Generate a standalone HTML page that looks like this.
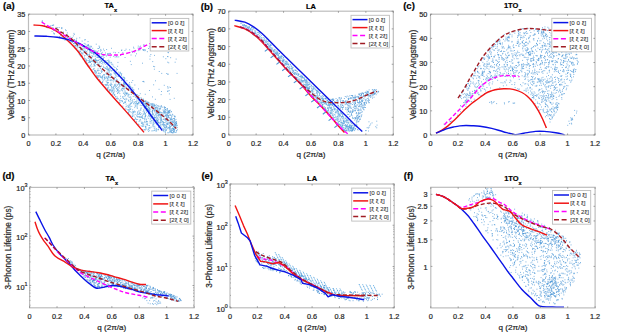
<!DOCTYPE html>
<html><head><meta charset="utf-8"><style>html,body{margin:0;padding:0;background:#fff;width:617px;height:334px;overflow:hidden}svg{display:block}</style></head>
<body><svg width="617" height="334" viewBox="0 0 617 334" style="font-family:'Liberation Sans',sans-serif">
<style>text{stroke:#333;stroke-width:0.22px;paint-order:stroke}</style>
<rect width="617" height="334" fill="#fff"/>
<path d="M73.8,45.7h.9M82.2,48.3h.9M160.1,127.7h.9M119.1,100.8h.9M84.8,48.2h.9M157.8,119.9h.9M97.2,76.9h.9M85.7,59.3h.9M123.7,96.3h.9M166.7,111.9h.9M163.9,113.6h.9M109.9,75.3h.9M73.0,43.5h.9M89.4,52.6h.9M94.3,70.3h.9M118.2,83.4h.9M75.6,46.8h.9M104.4,62.4h.9M95.2,72.2h.9M102.9,58.4h.9M161.5,114.4h.9M157.7,108.0h.9M170.9,131.9h.9M90.7,58.8h.9M88.0,56.6h.9M139.1,113.8h.9M167.9,112.1h.9M80.2,51.5h.9M167.3,114.4h.9M94.2,65.1h.9M105.6,81.0h.9M122.2,88.1h.9M128.2,112.3h.9M93.8,63.6h.9M128.9,110.0h.9M123.4,103.5h.9M116.7,88.2h.9M144.3,121.1h.9M153.8,123.1h.9M164.9,129.9h.9M110.6,83.8h.9M154.3,130.3h.9M129.9,104.2h.9M76.0,42.5h.9M137.1,114.0h.9M116.8,69.6h.9M78.3,52.5h.9M100.9,66.3h.9M110.0,85.6h.9M111.3,70.4h.9M94.6,52.7h.9M97.6,60.3h.9M100.7,71.2h.9M119.2,85.3h.9M70.7,39.2h.9M100.1,59.3h.9M131.6,87.8h.9M146.2,121.4h.9M109.6,68.3h.9M148.2,115.0h.9M156.1,116.3h.9M142.5,103.6h.9M128.6,97.3h.9M136.1,102.3h.9M155.3,108.8h.9M122.3,88.4h.9M148.9,130.7h.9M121.3,73.7h.9M119.6,102.6h.9M141.3,103.4h.9M123.9,81.6h.9M175.6,126.9h.9M157.8,129.9h.9M107.7,74.7h.9M106.4,78.1h.9M93.9,62.5h.9M165.0,114.9h.9M84.7,52.5h.9M167.5,132.7h.9M87.5,45.7h.9M92.8,61.8h.9M112.4,87.3h.9M108.2,69.5h.9M122.4,97.4h.9M96.4,60.9h.9M110.8,79.8h.9M172.8,118.5h.9M158.5,119.1h.9M78.2,51.8h.9M124.5,102.5h.9M138.5,110.4h.9M117.2,89.9h.9M137.3,104.1h.9M78.6,43.8h.9M124.7,93.0h.9M99.8,81.2h.9M92.3,60.7h.9M121.8,101.7h.9M140.7,125.8h.9M103.9,77.4h.9M155.3,108.0h.9M166.6,121.8h.9M107.9,68.8h.9M97.3,70.7h.9M149.7,123.3h.9M104.0,63.1h.9M101.4,63.5h.9M173.2,128.6h.9M109.3,61.1h.9M114.2,84.4h.9M155.9,107.9h.9M158.1,111.2h.9M101.8,71.7h.9M164.9,131.8h.9M135.5,101.7h.9M149.8,118.3h.9M93.7,60.6h.9M160.1,124.8h.9M79.4,55.2h.9M132.8,96.5h.9M81.8,56.6h.9M101.0,56.5h.9M110.3,89.8h.9M111.9,64.2h.9M106.0,77.0h.9M137.8,124.3h.9M107.5,85.4h.9M156.1,129.8h.9M88.1,49.2h.9M171.6,130.7h.9M147.2,123.1h.9M133.1,89.8h.9M113.0,92.9h.9M116.0,79.1h.9M151.5,111.9h.9M148.1,111.7h.9M148.0,115.2h.9M154.3,126.3h.9M89.3,62.2h.9M142.1,123.0h.9M131.6,100.7h.9M93.3,51.3h.9M163.6,112.1h.9M111.0,62.4h.9M122.8,98.6h.9M100.7,65.8h.9M153.7,105.7h.9M143.9,118.2h.9M95.2,59.7h.9M149.3,127.7h.9M136.6,103.5h.9M144.1,119.3h.9M69.2,41.0h.9M144.1,107.7h.9M157.8,122.6h.9M168.4,127.7h.9M160.9,115.0h.9M137.0,116.2h.9M77.2,46.4h.9M101.7,77.7h.9M107.2,67.8h.9M151.4,130.9h.9M97.8,57.6h.9M144.1,112.5h.9M110.9,74.9h.9M89.1,62.3h.9M125.5,109.4h.9M105.0,68.4h.9M140.2,108.2h.9M87.5,65.9h.9M144.8,118.0h.9M83.3,52.0h.9M93.7,68.4h.9M130.3,108.9h.9M146.9,121.5h.9M152.7,104.2h.9M153.6,105.5h.9M113.4,80.7h.9M141.6,126.3h.9M126.6,105.9h.9M123.4,98.4h.9M96.7,75.4h.9M105.4,62.5h.9M118.5,91.0h.9M157.7,115.4h.9M108.1,61.3h.9M97.5,60.5h.9M170.0,119.0h.9M167.5,112.3h.9M77.4,50.7h.9M167.3,113.0h.9M134.1,112.0h.9M140.9,122.8h.9M154.3,117.5h.9M125.4,108.2h.9M92.2,50.4h.9M121.0,84.8h.9M118.4,91.0h.9M140.5,117.7h.9M108.0,77.2h.9M137.3,98.1h.9M142.4,126.4h.9M123.2,83.5h.9M107.0,82.6h.9M113.3,90.2h.9M139.3,113.0h.9M103.1,67.4h.9M137.1,112.3h.9M139.7,112.7h.9M135.1,97.2h.9M152.7,124.8h.9M158.1,112.5h.9M99.8,77.5h.9M101.7,78.3h.9M145.9,119.1h.9M136.4,105.1h.9M144.8,116.4h.9M113.3,93.3h.9M157.4,122.2h.9M156.9,120.3h.9M161.3,114.5h.9M142.7,124.7h.9M128.0,113.5h.9M134.0,102.1h.9M119.4,93.6h.9M87.2,55.5h.9M111.1,86.7h.9M157.7,129.5h.9M88.5,54.4h.9M75.4,41.9h.9M174.2,132.2h.9M94.7,70.8h.9M167.1,123.8h.9M154.1,105.1h.9M150.6,127.2h.9M132.2,109.8h.9M92.7,50.7h.9M163.1,122.3h.9M116.7,69.6h.9M95.8,76.5h.9M94.9,56.4h.9M74.9,45.4h.9M96.7,56.8h.9M134.6,104.9h.9M160.3,120.0h.9M115.9,86.5h.9M157.5,120.1h.9M123.5,87.9h.9M86.4,46.9h.9M130.6,87.2h.9M121.3,85.1h.9M158.5,127.0h.9M109.5,77.4h.9M92.9,69.2h.9M156.1,124.6h.9M157.3,118.4h.9M173.3,126.7h.9M114.5,85.5h.9M156.6,121.9h.9M124.3,78.6h.9M79.9,49.6h.9M98.9,76.0h.9M98.3,60.4h.9M129.9,99.4h.9M117.6,89.6h.9M100.8,60.3h.9M128.3,84.2h.9M83.8,43.4h.9M135.0,118.6h.9M148.7,108.4h.9M153.9,105.0h.9M153.8,120.8h.9M116.7,81.0h.9M109.8,90.3h.9M109.1,67.9h.9M154.2,118.6h.9M121.9,79.6h.9M160.5,117.5h.9M129.3,84.7h.9M169.1,111.3h.9M124.0,86.7h.9M110.9,90.9h.9M115.3,97.0h.9M123.3,85.5h.9M87.1,54.5h.9M136.6,94.9h.9M121.8,90.1h.9M79.6,52.0h.9M134.7,114.4h.9M85.0,62.6h.9M116.4,74.0h.9M115.2,96.5h.9M170.3,119.1h.9M93.3,53.7h.9M105.3,60.5h.9M87.4,64.2h.9M107.2,60.6h.9M123.5,89.1h.9M106.5,85.0h.9M100.9,58.7h.9M97.6,75.7h.9M167.8,111.4h.9M164.9,119.7h.9M148.2,105.4h.9M70.5,40.8h.9M84.1,56.0h.9M99.9,73.6h.9M159.4,111.5h.9M149.7,116.6h.9M148.7,116.7h.9M114.0,86.1h.9M144.7,114.4h.9M145.2,101.4h.9M92.6,60.2h.9M123.7,79.7h.9M127.4,110.0h.9M151.8,116.8h.9M102.3,82.0h.9M93.6,50.3h.9M160.7,126.0h.9M159.0,108.3h.9M107.3,89.9h.9M129.5,97.3h.9M167.4,127.7h.9M121.4,85.0h.9M76.0,40.8h.9M160.2,119.1h.9M123.6,77.4h.9M103.9,79.1h.9M140.6,116.3h.9M99.1,79.5h.9M87.9,45.2h.9M102.3,81.2h.9M174.8,124.2h.9M162.9,130.5h.9M112.6,87.9h.9M78.8,54.3h.9M120.8,90.2h.9M127.7,105.6h.9M92.5,72.7h.9M89.9,65.8h.9M168.8,120.6h.9M142.2,116.3h.9M148.6,128.0h.9M143.2,114.6h.9M118.4,92.4h.9M109.4,71.0h.9M128.8,111.0h.9M163.7,111.3h.9M136.9,97.9h.9M106.6,64.0h.9M155.1,120.8h.9M119.9,72.3h.9M93.3,59.5h.9M116.8,79.8h.9M99.8,66.6h.9M133.5,120.0h.9M148.2,129.5h.9M156.7,121.0h.9M103.5,84.5h.9M134.8,106.5h.9M83.5,50.7h.9M126.3,93.5h.9M128.2,100.1h.9M145.7,110.3h.9M152.5,130.8h.9M119.3,99.9h.9M82.7,54.0h.9M148.6,125.5h.9M91.1,61.2h.9M91.9,56.5h.9M150.2,116.0h.9M97.6,68.8h.9M146.2,121.7h.9M105.6,84.6h.9M96.6,54.0h.9M111.7,90.4h.9M143.1,99.7h.9M126.9,89.7h.9M110.7,67.6h.9M109.4,74.0h.9M108.2,60.1h.9M88.2,48.2h.9M160.4,112.3h.9M124.9,95.8h.9M124.5,82.8h.9M90.8,50.6h.9M124.7,87.6h.9M117.6,98.5h.9M158.7,122.8h.9M107.5,69.6h.9M102.3,60.2h.9M137.2,119.5h.9M115.6,72.2h.9M124.9,84.7h.9M166.9,109.7h.9M117.8,81.4h.9M115.3,84.2h.9M141.1,108.1h.9M152.2,110.9h.9M77.4,45.5h.9M112.8,93.1h.9M96.8,62.2h.9M101.1,61.5h.9M123.2,77.3h.9M163.1,114.0h.9M118.0,83.9h.9M141.5,101.8h.9M99.0,57.3h.9M77.3,46.1h.9M153.8,128.3h.9M98.9,59.3h.9M155.5,131.1h.9M169.4,132.6h.9M98.6,70.4h.9M103.3,80.2h.9M127.8,112.6h.9M105.5,73.0h.9M82.7,46.0h.9M121.6,88.5h.9M88.8,49.2h.9M129.9,103.1h.9M132.7,112.3h.9M135.2,103.4h.9M88.2,58.1h.9M119.7,84.7h.9M153.3,124.2h.9M160.7,112.5h.9M158.8,127.0h.9M159.2,114.0h.9M158.4,112.3h.9M92.0,56.0h.9M142.8,105.2h.9M171.5,116.3h.9M139.1,117.3h.9M159.7,113.1h.9M103.6,57.5h.9M140.0,114.5h.9M86.6,63.1h.9M110.2,85.0h.9M94.1,70.8h.9M124.5,101.9h.9M172.7,122.6h.9M145.5,103.3h.9M97.1,52.5h.9M130.4,116.3h.9M99.3,73.8h.9M174.3,129.4h.9M101.9,79.1h.9M110.1,74.0h.9M137.4,111.8h.9M128.6,101.4h.9M95.7,60.4h.9M137.0,103.4h.9M104.3,74.7h.9M125.6,87.0h.9M141.0,123.5h.9M111.2,92.1h.9M154.3,117.5h.9M166.6,123.3h.9M149.2,115.8h.9M138.7,121.4h.9M133.6,116.1h.9M96.6,57.5h.9M136.6,106.6h.9M123.4,93.5h.9M111.1,64.1h.9M123.8,79.1h.9M88.0,62.5h.9M128.7,104.3h.9M172.2,125.3h.9M146.9,106.1h.9M95.5,71.1h.9M77.4,47.2h.9M168.1,113.3h.9M80.4,47.5h.9M129.1,85.8h.9M89.4,61.2h.9M145.5,127.8h.9M156.9,117.8h.9M159.0,112.5h.9M136.0,122.0h.9M120.3,98.4h.9M89.0,60.4h.9M80.1,56.2h.9M117.1,93.2h.9M137.3,104.9h.9M118.7,75.4h.9M141.4,105.5h.9M154.3,116.1h.9M137.0,108.2h.9M70.3,41.7h.9M165.6,125.0h.9M122.3,96.5h.9M132.6,113.8h.9M74.7,42.2h.9M158.9,114.9h.9M147.8,118.6h.9M107.2,66.1h.9M74.4,47.9h.9M124.3,80.7h.9M138.6,125.0h.9M148.1,113.5h.9M168.2,117.4h.9M142.3,118.6h.9M94.3,65.9h.9M105.0,68.1h.9M165.3,125.4h.9M152.8,122.4h.9M107.1,88.6h.9M125.5,99.4h.9M143.3,129.9h.9M142.9,103.3h.9M149.6,109.3h.9M93.8,61.7h.9M89.4,61.9h.9M132.2,100.0h.9M133.0,103.7h.9M85.9,46.6h.9M100.0,76.3h.9M161.8,114.1h.9M82.1,46.3h.9M94.2,72.2h.9M98.0,73.6h.9M87.7,58.0h.9M109.0,72.1h.9M140.3,117.3h.9M76.5,48.3h.9M79.3,43.5h.9M106.4,82.0h.9M163.5,129.4h.9M92.9,53.4h.9M133.8,99.5h.9M102.0,76.1h.9M128.9,105.3h.9M82.7,50.2h.9M124.5,92.8h.9M92.2,53.1h.9M140.1,119.6h.9M98.4,64.7h.9M174.3,120.6h.9M113.0,87.8h.9M161.1,114.5h.9M155.7,123.3h.9M92.5,72.2h.9M124.7,102.0h.9M141.3,113.8h.9M141.9,105.1h.9M140.3,110.6h.9M90.1,62.5h.9M111.5,77.4h.9M151.9,117.2h.9M137.9,97.9h.9M144.9,129.8h.9M99.7,61.6h.9M161.2,121.0h.9M101.9,77.1h.9M84.2,45.8h.9M135.9,103.9h.9M155.3,114.0h.9M156.0,113.0h.9M81.5,55.5h.9M125.7,106.5h.9M90.7,64.9h.9M137.7,103.4h.9M88.9,66.9h.9M83.6,58.7h.9M152.4,116.4h.9M146.2,129.0h.9M76.0,41.7h.9M170.3,121.2h.9M101.6,82.8h.9M145.8,111.0h.9M107.6,79.9h.9M169.9,126.7h.9M117.0,98.1h.9M175.9,124.3h.9M77.9,43.8h.9M113.7,69.5h.9M165.9,123.8h.9M104.0,60.8h.9M161.0,115.6h.9M95.8,72.1h.9M108.0,70.9h.9M165.4,109.5h.9M147.5,109.5h.9M160.5,118.4h.9M141.8,99.6h.9M153.6,120.5h.9M73.9,43.5h.9M117.8,75.6h.9M155.9,128.6h.9M131.8,116.6h.9M124.1,83.5h.9M106.6,71.9h.9M164.9,132.3h.9M114.5,73.5h.9M145.5,126.3h.9M88.6,66.0h.9M122.0,101.2h.9M151.1,120.4h.9M166.9,128.7h.9M136.7,114.1h.9M113.5,94.8h.9M95.0,63.5h.9M113.1,86.3h.9M146.3,108.8h.9M92.5,61.5h.9M146.7,108.9h.9M145.8,105.2h.9M75.7,43.7h.9M93.5,56.1h.9M84.1,58.0h.9M84.9,44.0h.9M144.6,129.8h.9M111.2,71.0h.9M113.6,70.8h.9M161.1,106.9h.9M128.1,100.6h.9M148.3,128.1h.9M161.4,112.9h.9M132.1,102.0h.9M86.4,48.1h.9M166.5,113.8h.9M119.7,84.6h.9M107.5,74.2h.9M82.5,58.9h.9M148.1,106.1h.9M168.0,127.9h.9M149.8,119.4h.9M163.8,109.3h.9M70.3,42.4h.9M78.6,52.6h.9M114.7,74.5h.9M94.4,59.3h.9M175.2,132.5h.9M86.1,51.6h.9M103.7,75.0h.9M171.7,119.5h.9M82.0,53.8h.9M129.8,106.9h.9M173.0,126.2h.9M108.2,62.8h.9M167.2,113.1h.9M154.3,115.8h.9M171.6,132.8h.9M113.8,91.9h.9M156.6,109.8h.9M118.0,82.0h.9M146.5,107.0h.9M86.8,50.1h.9M173.7,125.6h.9M84.8,50.2h.9M118.7,84.3h.9M96.0,72.3h.9M128.1,110.1h.9M173.5,131.2h.9M142.6,126.0h.9M132.0,116.1h.9M96.3,51.2h.9M172.8,132.4h.9M94.6,50.6h.9M83.7,51.3h.9M131.9,113.9h.9M130.3,90.8h.9M112.2,89.2h.9M109.4,69.2h.9M141.0,117.1h.9M116.7,85.3h.9M113.4,66.6h.9M93.4,51.9h.9M100.2,68.1h.9M149.2,105.8h.9M88.2,45.4h.9M103.5,62.6h.9M176.9,125.3h.9M170.6,115.2h.9M142.8,104.0h.9M131.3,106.4h.9M167.8,112.5h.9M107.9,86.0h.9M122.4,77.2h.9M152.2,104.6h.9M98.5,75.6h.9M145.4,115.6h.9M106.1,66.4h.9M139.3,101.9h.9M137.1,103.6h.9M155.1,107.8h.9M145.8,123.0h.9M161.1,120.3h.9M115.2,77.4h.9M86.5,52.1h.9M161.4,122.5h.9M115.2,75.2h.9M131.6,92.2h.9M100.9,77.0h.9M155.2,114.8h.9M153.1,117.8h.9M76.5,45.7h.9M107.3,78.5h.9M123.2,84.4h.9M106.1,69.2h.9M103.9,77.1h.9M140.2,100.8h.9M116.0,76.0h.9M120.1,96.2h.9M135.1,111.9h.9M129.5,109.3h.9M106.8,80.1h.9M170.6,130.3h.9M73.4,43.9h.9M167.4,120.5h.9M169.8,114.8h.9M127.8,95.8h.9M91.1,57.9h.9M123.1,85.1h.9M149.5,121.1h.9M127.8,94.7h.9M162.6,112.5h.9M142.0,115.3h.9M130.2,99.2h.9M107.6,83.1h.9M127.7,107.4h.9M99.6,81.3h.9M144.1,111.9h.9M110.0,67.0h.9M123.4,79.3h.9M117.7,92.2h.9M136.2,97.7h.9M145.8,106.9h.9M139.6,100.1h.9M110.2,85.1h.9M138.4,116.9h.9M96.9,51.7h.9M124.2,77.8h.9M171.1,123.1h.9M94.2,60.1h.9M77.2,43.1h.9M122.4,106.1h.9M107.9,76.6h.9M175.9,122.7h.9M176.9,127.6h.9M85.7,61.9h.9M138.7,103.0h.9M113.6,73.0h.9M144.0,108.1h.9M129.8,86.5h.9M149.2,105.6h.9M171.1,117.0h.9M101.0,72.4h.9M155.5,117.9h.9M85.1,51.9h.9M99.9,62.7h.9M114.8,73.5h.9M93.6,64.5h.9M95.8,75.3h.9M130.2,111.8h.9M136.4,94.5h.9M169.3,115.0h.9M145.1,126.4h.9M138.3,100.6h.9M171.0,111.7h.9M115.9,81.3h.9M142.6,122.7h.9M80.3,50.0h.9M172.3,132.7h.9M92.6,66.3h.9M121.0,74.9h.9M76.5,42.3h.9M144.1,129.7h.9M109.0,62.1h.9M121.1,75.8h.9M163.6,131.7h.9M158.5,122.9h.9M108.4,65.4h.9M117.5,90.0h.9M147.4,130.0h.9M145.0,127.9h.9M138.6,113.8h.9M125.2,95.1h.9M152.7,126.8h.9M110.5,89.6h.9M157.9,115.8h.9M151.8,111.2h.9M137.0,116.9h.9M159.4,125.4h.9M142.6,118.5h.9M144.1,101.6h.9M140.3,120.9h.9M111.8,80.2h.9M146.0,112.3h.9M125.6,104.1h.9M98.8,64.1h.9M102.4,64.1h.9M119.8,73.5h.9M169.2,127.2h.9M116.4,91.4h.9M148.9,125.6h.9M116.0,81.9h.9M168.2,124.0h.9M161.0,115.7h.9M118.5,76.5h.9M108.0,76.8h.9M105.3,77.1h.9M132.2,89.1h.9M126.2,88.2h.9M140.8,103.2h.9M86.8,54.4h.9M125.6,98.3h.9M163.3,112.1h.9M130.2,115.3h.9M127.6,109.5h.9M125.9,94.4h.9M100.8,69.9h.9M82.5,46.3h.9M150.0,103.8h.9M172.4,128.8h.9M102.0,56.1h.9M89.8,48.2h.9M86.1,61.0h.9M152.7,106.5h.9M169.7,122.2h.9M121.8,100.9h.9M79.2,51.3h.9M135.8,119.7h.9M152.7,108.9h.9M153.8,106.4h.9M175.1,127.9h.9M144.9,106.8h.9M132.6,115.2h.9M89.5,51.1h.9M160.2,107.2h.9M121.2,84.2h.9M95.8,60.0h.9M117.5,99.2h.9M123.3,86.2h.9M147.7,109.8h.9M132.7,111.5h.9M158.3,114.2h.9M89.5,47.2h.9M147.1,108.6h.9M138.6,111.8h.9M123.8,91.0h.9M113.7,77.4h.9M114.4,90.9h.9M106.5,74.5h.9M113.8,72.7h.9M110.3,80.1h.9M163.9,127.1h.9M166.0,117.3h.9M93.0,61.5h.9M144.2,113.5h.9M118.6,74.2h.9M162.7,119.4h.9M165.9,126.5h.9M91.6,69.9h.9M84.5,55.5h.9M103.2,74.9h.9M119.2,75.1h.9M152.7,123.7h.9M124.8,102.5h.9M108.7,63.1h.9M117.6,87.6h.9M89.2,54.0h.9M93.8,65.0h.9M97.4,70.2h.9M154.6,112.7h.9M144.2,122.0h.9M156.2,130.9h.9M138.0,102.5h.9M97.6,63.2h.9M93.7,52.8h.9M136.5,100.1h.9M85.5,60.2h.9M123.5,82.7h.9M128.0,106.8h.9M142.9,113.2h.9M81.0,52.8h.9M109.1,89.9h.9M162.8,125.4h.9M102.1,76.1h.9M145.1,113.4h.9M155.2,121.6h.9M151.3,103.5h.9M107.6,70.0h.9M104.0,67.8h.9M123.5,108.6h.9M162.5,110.0h.9M128.0,88.8h.9M111.9,90.5h.9M77.5,50.3h.9M141.3,98.5h.9M166.9,108.8h.9M110.6,83.0h.9M129.0,114.3h.9M102.1,62.1h.9M167.8,117.5h.9M148.3,103.2h.9M162.3,121.4h.9M161.6,115.3h.9M102.9,66.3h.9M132.0,116.3h.9M148.1,131.4h.9M172.1,121.2h.9M82.1,44.5h.9M174.6,125.9h.9M162.5,121.6h.9M101.4,82.6h.9M118.9,102.8h.9M102.8,58.4h.9M136.6,107.9h.9M139.0,120.2h.9M168.9,125.1h.9M148.4,104.2h.9M104.1,70.5h.9M167.1,115.2h.9M156.7,112.8h.9M160.3,116.6h.9M152.4,113.9h.9M152.7,126.0h.9M102.4,69.8h.9M144.7,122.2h.9M111.7,91.4h.9M74.6,46.3h.9M110.2,62.8h.9M85.3,62.4h.9M130.7,98.2h.9M131.5,112.4h.9M80.2,47.7h.9M95.0,73.7h.9M95.1,60.4h.9M102.3,76.8h.9M106.3,68.1h.9M122.1,90.9h.9M135.2,101.7h.9M136.4,96.5h.9M162.9,123.9h.9M157.7,116.9h.9M137.7,98.2h.9M93.1,51.1h.9M132.3,87.9h.9M129.4,94.7h.9M113.4,88.9h.9M173.4,130.2h.9M120.8,78.0h.9M145.1,106.6h.9M118.7,88.1h.9M105.0,85.0h.9M97.5,70.8h.9M110.7,74.0h.9M125.8,92.9h.9M107.3,63.5h.9M153.7,105.4h.9M94.9,51.5h.9M134.3,119.6h.9M84.4,60.1h.9M171.2,125.6h.9M109.5,80.2h.9M86.8,63.8h.9M123.8,88.8h.9M116.0,68.4h.9M79.5,47.2h.9M174.5,120.0h.9M135.9,119.3h.9M67.1,37.9h.9M133.9,95.9h.9M107.3,78.7h.9M105.8,61.3h.9M159.7,123.6h.9M90.3,61.6h.9M118.5,86.7h.9M123.0,82.7h.9M169.8,110.2h.9M169.6,120.1h.9M138.3,114.5h.9M139.5,99.1h.9M167.3,110.7h.9M96.9,77.4h.9M120.0,100.8h.9M129.6,86.1h.9M109.0,90.0h.9M150.8,117.6h.9M120.9,89.3h.9M125.9,84.7h.9M95.0,58.4h.9M171.0,123.6h.9M109.6,77.8h.9M163.2,122.9h.9M106.8,82.4h.9M128.9,107.9h.9M174.5,116.3h.9M154.5,127.9h.9M158.3,114.4h.9M136.5,101.2h.9M106.2,74.3h.9M114.7,77.2h.9M111.1,87.0h.9M87.3,49.7h.9M114.5,67.5h.9M117.1,90.5h.9M78.6,51.1h.9M86.6,54.6h.9M93.5,54.6h.9M114.0,95.3h.9M152.7,120.0h.9M107.8,72.7h.9M89.5,49.3h.9M173.1,129.4h.9M163.9,127.7h.9M88.8,54.8h.9M104.9,64.3h.9M133.6,90.0h.9M135.2,105.3h.9M166.1,116.2h.9M174.5,128.2h.9M142.0,117.6h.9M91.2,49.9h.9M112.0,94.2h.9M122.8,88.8h.9M117.7,76.5h.9M143.5,126.1h.9M164.6,120.1h.9M109.9,77.3h.9M86.5,54.8h.9M144.8,114.8h.9M149.4,110.4h.9M108.0,82.5h.9M125.4,101.0h.9M168.7,122.9h.9M129.3,87.6h.9M90.7,55.8h.9M119.4,82.8h.9M89.1,59.2h.9M164.6,107.6h.9M124.1,84.5h.9M145.7,119.6h.9M110.8,84.9h.9M130.2,101.0h.9M155.4,120.3h.9M107.6,80.2h.9M159.3,112.6h.9M131.1,103.3h.9M149.9,113.3h.9M100.7,77.5h.9M133.0,112.4h.9M110.5,80.8h.9M126.2,93.5h.9M96.8,54.7h.9M162.8,130.9h.9M76.2,48.7h.9M156.1,118.0h.9M122.9,93.0h.9M123.1,103.1h.9M101.1,71.0h.9M112.5,70.6h.9M166.1,125.0h.9M150.5,121.3h.9M98.9,62.3h.9M97.7,77.6h.9M157.0,108.9h.9M86.1,60.2h.9M97.3,57.3h.9M146.5,102.6h.9M137.7,103.7h.9M124.1,99.5h.9M103.5,74.8h.9M90.8,66.9h.9M149.7,122.0h.9M149.4,112.0h.9M140.3,109.5h.9M129.8,109.3h.9M131.0,94.4h.9M87.2,45.7h.9M145.0,106.7h.9M137.7,124.3h.9M89.4,51.0h.9M145.2,126.9h.9M119.6,72.8h.9M114.9,87.6h.9M108.4,91.2h.9M157.0,107.7h.9M172.4,128.1h.9M134.8,117.7h.9M133.9,103.0h.9M157.8,129.2h.9M112.8,81.9h.9M80.0,44.2h.9M97.3,53.7h.9M166.6,123.1h.9M104.0,77.3h.9M173.2,128.8h.9M124.9,91.1h.9M91.6,57.9h.9M105.4,87.2h.9M156.8,113.3h.9M121.1,84.9h.9M121.0,80.5h.9M173.0,126.4h.9M111.5,84.6h.9M165.3,130.5h.9M173.7,130.9h.9M89.1,61.4h.9M95.7,62.2h.9M149.8,115.4h.9M114.9,80.3h.9M114.4,71.3h.9M153.2,121.9h.9M142.7,111.5h.9M151.1,118.0h.9M108.3,87.7h.9M146.4,103.7h.9M142.4,124.9h.9M154.6,129.8h.9M129.6,105.9h.9M142.3,123.7h.9M107.4,87.5h.9M96.2,64.5h.9M122.3,107.1h.9M109.2,91.9h.9M116.9,84.8h.9M91.2,53.4h.9M141.5,122.0h.9M74.0,39.5h.9M174.3,130.8h.9M165.0,122.0h.9M81.7,52.9h.9M148.5,113.3h.9M113.9,79.5h.9M144.9,116.4h.9M168.9,128.5h.9M141.4,101.6h.9M159.1,110.1h.9M119.5,91.0h.9M119.3,83.5h.9M148.4,107.6h.9M108.7,70.7h.9M114.5,95.0h.9M146.5,109.3h.9M161.7,121.2h.9M121.9,86.4h.9M106.8,84.0h.9M132.9,91.1h.9M138.4,116.7h.9M147.4,116.9h.9M106.6,77.3h.9M107.0,69.8h.9M151.6,120.9h.9M108.8,84.9h.9M90.5,61.1h.9M116.1,98.5h.9M102.4,62.2h.9M149.1,109.0h.9M131.0,102.8h.9M167.6,123.0h.9M100.8,61.1h.9M98.4,72.8h.9M164.3,124.3h.9M99.7,76.0h.9M142.1,129.5h.9M104.6,78.6h.9M138.4,102.1h.9M90.8,59.1h.9M99.9,68.5h.9M166.0,120.9h.9M146.8,108.4h.9M95.4,61.1h.9M126.1,93.3h.9M145.0,115.6h.9M126.9,93.0h.9M148.9,108.0h.9M81.3,53.7h.9M126.5,80.7h.9M76.2,42.4h.9M146.7,124.1h.9M166.5,118.5h.9M114.9,86.1h.9M88.9,50.5h.9M143.4,106.9h.9M143.1,110.1h.9M87.7,46.1h.9M134.0,119.7h.9M143.0,99.1h.9M156.0,115.0h.9M136.1,115.9h.9M172.0,121.8h.9M160.2,108.8h.9M116.0,88.5h.9M176.4,125.9h.9M167.7,132.8h.9M158.3,127.1h.9M136.7,98.8h.9M127.5,96.1h.9M93.3,69.1h.9M119.5,86.3h.9M72.1,42.3h.9M128.2,94.2h.9M149.5,128.1h.9M175.0,121.9h.9M117.3,93.4h.9M163.6,116.6h.9M174.1,129.7h.9M108.7,76.0h.9M145.9,121.1h.9M114.0,94.6h.9M111.2,77.0h.9M105.8,85.4h.9M109.4,90.7h.9M128.0,89.3h.9M143.4,124.1h.9M99.3,54.9h.9M145.8,124.6h.9M110.9,88.2h.9M96.4,73.7h.9M91.0,64.0h.9M106.8,84.1h.9M130.3,96.9h.9M94.8,71.1h.9M109.8,70.0h.9M118.3,72.1h.9M114.7,85.1h.9M102.0,82.4h.9M138.3,98.4h.9M98.4,57.5h.9M157.1,113.4h.9M105.4,84.6h.9M141.3,117.1h.9M144.4,104.0h.9M115.1,81.8h.9M148.6,102.9h.9M170.4,115.5h.9M139.4,116.4h.9M140.6,97.7h.9M123.3,80.7h.9M151.3,123.0h.9M120.9,74.2h.9M96.7,76.3h.9M158.2,127.3h.9M173.6,131.8h.9M101.4,54.8h.9M99.3,80.1h.9M126.4,99.2h.9M128.4,106.8h.9M130.2,103.9h.9M106.7,68.2h.9M124.8,83.1h.9M104.5,78.7h.9M170.8,131.8h.9M129.6,90.6h.9M132.7,111.4h.9M151.4,106.8h.9M143.6,110.0h.9M174.1,124.3h.9M87.4,60.4h.9M107.5,88.9h.9M164.0,116.1h.9M157.6,124.8h.9M107.2,62.6h.9M91.7,52.1h.9M128.7,111.7h.9M144.7,116.8h.9M113.2,78.9h.9M166.9,117.0h.9M100.9,60.5h.9M96.4,60.7h.9M147.1,125.0h.9M127.2,93.9h.9M136.0,122.0h.9M134.1,111.1h.9M155.0,122.8h.9M113.7,88.9h.9M132.6,101.9h.9M110.4,75.0h.9M94.6,65.9h.9M146.8,124.7h.9M152.4,125.1h.9M173.4,129.4h.9M115.3,72.3h.9M167.8,115.7h.9M95.5,55.4h.9M170.4,130.3h.9M107.2,89.2h.9M84.8,58.7h.9M116.5,89.3h.9M124.1,94.6h.9M147.8,102.3h.9M97.6,65.6h.9M107.7,77.0h.9M124.5,86.2h.9M112.6,92.0h.9M116.6,96.9h.9M153.6,130.6h.9M74.1,42.4h.9M98.2,76.7h.9M134.3,107.6h.9M125.3,93.2h.9M121.1,100.7h.9M113.8,78.5h.9M139.8,105.2h.9M87.9,60.9h.9" stroke="#5aa4dc" stroke-width="0.9" opacity="0.85" fill="none"/>
<path d="M164.4,111.2h.9M160.7,118.4h.9M137.9,98.0h.9M165.7,112.5h.9M163.1,124.3h.9M168.4,110.8h.9M173.4,122.1h.9M152.6,113.8h.9M158.3,105.8h.9M175.2,122.6h.9M172.1,128.3h.9M153.5,104.0h.9M164.0,107.1h.9M169.6,131.1h.9M152.1,114.8h.9M149.5,109.0h.9M176.0,131.9h.9M156.6,120.4h.9M174.6,125.5h.9M147.9,109.3h.9M146.7,103.2h.9M157.2,123.6h.9M164.9,112.3h.9M146.2,108.7h.9M146.1,104.8h.9M172.7,124.9h.9M175.2,124.8h.9M171.0,125.8h.9M164.0,112.5h.9M160.0,115.5h.9M167.2,124.6h.9M170.8,121.6h.9M169.9,131.8h.9M166.7,108.5h.9M151.8,106.1h.9M170.0,119.7h.9M161.4,124.3h.9M165.2,113.2h.9M160.8,117.0h.9M148.0,107.3h.9M169.6,126.3h.9M157.2,110.6h.9M165.6,120.0h.9M175.6,123.7h.9M152.1,106.3h.9M154.0,110.6h.9M167.2,124.1h.9M163.7,118.1h.9M157.6,109.1h.9M174.1,119.1h.9M142.4,103.0h.9M155.8,104.8h.9M169.7,118.1h.9M152.5,110.2h.9M144.9,103.8h.9M165.0,107.6h.9M152.2,110.9h.9M155.3,110.7h.9M145.5,101.6h.9M155.8,119.7h.9M168.9,111.0h.9M177.0,129.8h.9M151.4,115.9h.9M164.2,108.2h.9M156.4,112.2h.9M155.8,106.9h.9M165.5,115.5h.9M157.0,120.8h.9M159.9,121.7h.9M152.1,110.8h.9M150.4,105.0h.9M169.3,127.9h.9M166.8,115.7h.9M172.5,115.1h.9M165.7,110.3h.9M155.5,107.6h.9M145.5,107.2h.9M147.5,103.0h.9M159.5,126.0h.9M176.0,130.5h.9M170.9,119.7h.9M165.3,116.1h.9M175.8,125.3h.9M171.1,132.3h.9M162.7,125.1h.9M145.4,105.1h.9M168.4,115.6h.9M148.1,112.7h.9M173.2,125.9h.9M138.3,99.2h.9M160.3,120.3h.9M168.7,127.2h.9M159.1,109.0h.9M161.1,105.8h.9M166.2,114.4h.9M149.0,112.6h.9M154.2,117.7h.9M157.3,123.7h.9M169.2,123.2h.9M153.2,114.8h.9M147.2,102.0h.9M166.8,118.4h.9M145.8,106.0h.9M174.5,122.7h.9M154.0,109.8h.9M174.4,127.9h.9M174.4,126.3h.9M164.9,111.3h.9M151.6,105.5h.9M144.7,101.0h.9M173.7,121.5h.9M157.5,115.1h.9M167.9,116.6h.9M166.9,118.2h.9M146.7,109.7h.9M171.6,120.0h.9M168.1,111.4h.9M169.5,131.7h.9M142.3,102.3h.9M150.7,114.5h.9M164.3,125.8h.9M154.9,117.6h.9M156.3,120.2h.9M174.4,116.4h.9M162.0,124.3h.9M176.1,123.3h.9M160.4,127.9h.9M147.6,110.8h.9M163.5,119.4h.9M173.5,122.1h.9M174.1,118.7h.9M163.2,128.9h.9M167.3,119.5h.9M137.7,96.9h.9M166.1,127.3h.9M152.2,103.8h.9M144.5,103.7h.9M172.7,129.6h.9M172.0,122.9h.9M159.8,114.9h.9M166.1,118.3h.9M173.7,123.9h.9M148.0,110.5h.9M163.6,130.0h.9M173.3,128.7h.9M165.3,127.1h.9M162.6,116.4h.9M160.4,106.2h.9M175.5,119.4h.9M174.4,123.5h.9M173.4,120.6h.9M166.9,119.8h.9M170.8,130.1h.9M170.0,124.3h.9M161.1,119.6h.9M168.9,112.7h.9M168.9,129.8h.9M147.9,111.6h.9M166.4,126.6h.9M141.9,102.4h.9M164.3,122.5h.9M163.9,110.8h.9M163.4,126.4h.9M164.6,127.9h.9M164.0,124.8h.9M171.2,118.0h.9M173.6,126.9h.9M145.3,103.6h.9M169.9,128.0h.9M151.7,108.8h.9M165.4,115.6h.9M157.1,105.8h.9M158.6,126.0h.9M160.0,108.8h.9M175.0,124.9h.9M156.3,112.7h.9M171.3,118.9h.9M159.1,115.0h.9M141.5,102.5h.9M169.5,112.8h.9M172.5,132.9h.9M156.2,111.7h.9M170.7,111.7h.9M148.8,105.5h.9M162.3,107.2h.9M168.5,122.1h.9M168.9,117.9h.9M165.3,128.1h.9M158.5,106.5h.9M160.0,122.5h.9M145.5,100.9h.9M157.6,110.8h.9M154.8,109.6h.9M142.9,100.5h.9M166.5,119.5h.9M164.9,119.6h.9M155.2,105.7h.9M147.4,104.7h.9M148.8,110.7h.9M163.0,111.1h.9M169.3,110.6h.9M162.7,122.7h.9M157.9,122.3h.9M176.2,123.4h.9M171.0,128.9h.9M154.3,111.3h.9M143.0,102.4h.9M148.7,111.5h.9M152.1,113.0h.9M172.1,114.3h.9M160.2,127.2h.9M167.9,115.9h.9M159.3,117.2h.9M165.8,129.4h.9M149.5,111.4h.9M152.0,112.7h.9M173.9,116.1h.9M176.1,121.6h.9M163.8,107.0h.9M144.7,102.7h.9M165.9,130.3h.9M144.5,104.8h.9M142.0,103.7h.9M146.1,105.9h.9M173.3,118.7h.9M148.9,110.9h.9M153.9,107.9h.9M142.0,103.7h.9M157.4,121.6h.9M156.9,123.4h.9M168.8,112.6h.9M165.1,109.6h.9M172.2,130.3h.9M173.1,131.4h.9M147.5,102.6h.9M169.8,129.2h.9M151.2,104.6h.9M161.8,128.3h.9M174.5,117.1h.9M169.3,125.9h.9" stroke="#4a96d6" stroke-width="0.9" opacity="0.85" fill="none"/>
<path d="M89.6,46.2h.9M98.3,50.8h.9M81.2,45.7h.9M101.7,52.4h.9M66.9,37.7h.9M52.1,25.4h.9M106.2,49.5h.9M65.7,30.6h.9M115.1,52.8h.9M61.2,34.7h.9M120.4,54.8h.9M71.3,41.8h.9M113.2,56.3h.9M60.7,36.0h.9M84.4,46.1h.9M137.8,46.1h.9M143.9,49.7h.9M53.2,33.0h.9M150.0,48.8h.9M90.0,52.3h.9M47.3,27.8h.9M59.1,36.6h.9M116.7,56.9h.9M113.4,52.3h.9M58.7,27.5h.9M105.9,56.0h.9M118.3,52.6h.9M107.8,53.5h.9M53.2,25.0h.9M53.6,33.8h.9M86.5,45.0h.9M121.0,50.4h.9M72.9,35.9h.9M64.6,40.2h.9M95.8,44.2h.9M140.1,46.2h.9M100.7,50.3h.9M41.7,21.4h.9M114.7,57.0h.9M109.2,53.4h.9M151.4,45.3h.9M62.5,38.8h.9M83.7,48.9h.9M55.9,27.8h.9M98.6,46.1h.9M54.0,33.8h.9M82.5,50.3h.9M66.9,32.9h.9M71.7,37.5h.9M139.1,47.1h.9M150.5,50.2h.9M85.9,48.2h.9M91.2,52.4h.9M97.0,54.3h.9M59.2,37.7h.9M60.9,34.6h.9M75.9,40.0h.9M78.6,47.3h.9M84.4,40.1h.9M124.5,50.5h.9M57.1,27.8h.9M103.0,49.1h.9M78.6,44.7h.9M107.4,54.5h.9M101.0,53.8h.9M75.4,45.6h.9M89.8,51.2h.9M139.7,49.1h.9M148.9,46.3h.9M44.1,25.3h.9M145.0,50.0h.9M143.0,45.0h.9M151.5,44.3h.9M93.3,54.1h.9M151.5,46.5h.9M73.5,40.0h.9M65.0,29.8h.9M121.4,50.0h.9M150.1,44.9h.9M79.3,37.8h.9M76.3,38.3h.9M53.0,30.2h.9M73.3,40.3h.9M87.6,41.6h.9M103.5,55.5h.9M98.3,48.5h.9M90.8,46.9h.9M81.7,41.1h.9M79.2,44.9h.9M110.1,53.4h.9M143.8,45.0h.9M90.8,46.3h.9M149.4,47.9h.9M120.0,55.5h.9M51.6,31.4h.9M50.6,25.7h.9M62.8,32.0h.9M83.3,47.9h.9M61.5,27.7h.9M134.2,52.1h.9M97.5,48.5h.9M122.4,52.6h.9M64.9,39.0h.9M142.5,49.6h.9M100.3,49.4h.9M105.1,53.0h.9M60.0,35.1h.9M84.7,39.5h.9M99.2,47.0h.9M100.7,53.5h.9M46.0,26.4h.9M106.8,55.2h.9M103.8,50.7h.9M139.0,48.5h.9M133.0,47.2h.9M51.4,28.3h.9M125.6,49.2h.9M65.5,36.8h.9M133.5,48.3h.9M76.2,42.0h.9M75.3,40.9h.9M134.7,50.9h.9M65.4,38.0h.9M73.8,34.5h.9M130.6,55.0h.9M100.1,51.1h.9M58.1,30.2h.9M111.0,48.3h.9M80.0,49.1h.9M131.5,51.3h.9M70.6,38.4h.9M52.5,27.6h.9M129.2,49.8h.9M49.8,26.2h.9M137.7,48.0h.9M88.4,47.3h.9M52.6,25.3h.9M116.0,56.7h.9M41.9,20.8h.9M121.9,54.5h.9M69.8,37.1h.9M142.8,49.6h.9M66.8,34.6h.9M103.1,55.9h.9M65.6,35.6h.9M107.0,53.8h.9M61.0,28.0h.9M95.9,54.8h.9M92.3,48.3h.9M46.0,27.5h.9M61.1,34.6h.9M55.6,28.5h.9M109.8,57.1h.9M132.0,52.3h.9M73.5,33.4h.9M136.1,53.8h.9M142.9,50.5h.9M99.0,47.7h.9M87.8,44.5h.9M61.4,28.6h.9" stroke="#4a96d6" stroke-width="0.9" opacity="0.85" fill="none"/>
<path d="M139.3,50.1h.9M112.6,65.1h.9M154.0,55.4h.9M129.1,82.7h.9M165.4,58.7h.9M143.6,81.9h.9M143.1,81.4h.9M129.9,61.3h.9M152.0,96.9h.9M153.2,84.8h.9M174.7,62.2h.9M144.8,94.3h.9M139.8,93.7h.9M115.8,70.1h.9M176.6,73.4h.9M142.4,81.5h.9M166.3,73.5h.9M170.1,87.5h.9M131.3,82.4h.9M137.8,50.6h.9M175.7,59.1h.9M135.1,55.9h.9M162.9,56.8h.9M142.1,63.2h.9M150.4,54.5h.9M138.5,95.5h.9M152.3,61.6h.9M170.2,57.7h.9M138.1,88.9h.9M146.9,51.7h.9M173.8,98.3h.9M149.5,59.1h.9M169.6,99.4h.9M161.0,91.5h.9M160.7,94.6h.9M161.3,73.4h.9M155.1,80.8h.9M148.1,48.5h.9M117.5,62.4h.9M154.9,99.3h.9M149.0,90.5h.9M149.6,56.2h.9M158.8,71.5h.9M154.2,66.7h.9M124.6,57.5h.9M132.3,80.5h.9M153.9,69.2h.9M163.8,85.3h.9M134.4,85.0h.9M153.1,66.4h.9M144.4,50.7h.9M130.8,64.6h.9M158.6,89.3h.9M117.2,66.3h.9M118.3,56.9h.9" stroke="#4a96d6" stroke-width="0.9" opacity="0.85" fill="none"/>
<path d="M167.5,74.0h.9M168.6,87.1h.9M167.1,86.8h.9M168.3,62.8h.9M167.0,91.3h.9M167.3,62.2h.9M167.6,88.2h.9M168.9,93.9h.9M168.7,90.6h.9M167.9,52.7h.9M167.5,56.7h.9M167.2,56.5h.9M167.6,52.4h.9M167.6,91.1h.9M167.5,74.4h.9M168.7,50.7h.9" stroke="#4a96d6" stroke-width="0.9" opacity="0.85" fill="none"/>
<path d="M33.50,25.00 C35.02,25.12 39.55,25.12 42.60,25.70 C45.65,26.28 49.05,27.28 51.80,28.50 C54.55,29.72 56.67,31.17 59.10,33.00 C61.53,34.83 63.97,37.25 66.40,39.50 C68.83,41.75 71.43,44.08 73.70,46.50 C75.97,48.92 78.12,51.50 80.00,54.00 C81.88,56.50 83.17,58.83 85.00,61.50 C86.83,64.17 89.00,67.20 91.00,70.00 C93.00,72.80 94.17,74.77 97.00,78.30 C99.83,81.83 104.45,87.12 108.00,91.20 C111.55,95.28 114.87,98.93 118.30,102.80 C121.73,106.67 124.32,109.47 128.60,114.40 C132.88,119.33 141.43,129.40 144.00,132.40" fill="none" stroke="#f01414" stroke-width="1.4" stroke-linejoin="round"/>
<path d="M34.40,36.00 C36.38,36.05 42.48,36.10 46.30,36.30 C50.12,36.50 53.65,36.65 57.30,37.20 C60.95,37.75 64.55,38.58 68.20,39.60 C71.85,40.62 76.40,42.08 79.20,43.30 C82.00,44.52 83.03,45.75 85.00,46.90 C86.97,48.05 89.00,48.95 91.00,50.20 C93.00,51.45 95.00,52.80 97.00,54.40 C99.00,56.00 100.83,57.83 103.00,59.80 C105.17,61.77 107.17,63.42 110.00,66.20 C112.83,68.98 116.67,72.87 120.00,76.50 C123.33,80.13 126.58,83.92 130.00,88.00 C133.42,92.08 137.00,96.42 140.50,101.00 C144.00,105.58 147.37,110.58 151.00,115.50 C154.63,120.42 160.42,128.00 162.30,130.50" fill="none" stroke="#0a14e6" stroke-width="1.4" stroke-linejoin="round"/>
<path d="M41.70,22.20 C43.07,23.00 46.70,25.17 49.90,27.00 C53.10,28.83 57.23,31.07 60.90,33.20 C64.57,35.33 68.25,37.70 71.90,39.80 C75.55,41.90 79.42,43.97 82.80,45.80 C86.18,47.63 89.43,49.47 92.20,50.80 C94.97,52.13 97.00,53.10 99.40,53.80 C101.80,54.50 104.22,54.80 106.60,55.00 C108.98,55.20 111.32,55.07 113.70,55.00 C116.08,54.93 117.55,55.22 120.90,54.60 C124.25,53.98 130.12,52.57 133.80,51.30 C137.48,50.03 140.13,48.38 143.00,47.00 C145.87,45.62 149.67,43.67 151.00,43.00" fill="none" stroke="#ff00ff" stroke-width="1.4" stroke-dasharray="4 2.2" stroke-linejoin="round"/>
<path d="M55.40,28.00 C56.33,28.67 59.07,30.75 61.00,32.00 C62.93,33.25 64.88,34.00 67.00,35.50 C69.12,37.00 71.70,39.15 73.70,41.00 C75.70,42.85 76.92,44.52 79.00,46.60 C81.08,48.68 84.00,51.43 86.20,53.50 C88.40,55.57 90.20,57.08 92.20,59.00 C94.20,60.92 96.20,63.08 98.20,65.00 C100.20,66.92 102.22,68.68 104.20,70.50 C106.18,72.32 106.88,73.30 110.10,75.90 C113.32,78.50 118.70,82.47 123.50,86.10 C128.30,89.73 133.75,93.85 138.90,97.70 C144.05,101.55 149.68,105.55 154.40,109.20 C159.12,112.85 163.55,116.37 167.20,119.60 C170.85,122.83 174.78,127.10 176.30,128.60" fill="none" stroke="#a01c24" stroke-width="1.4" stroke-dasharray="4 2.2" stroke-linejoin="round"/>
<rect x="150.2" y="18.4" width="38.60" height="32.60" fill="#fff" stroke="#bdbdbd" stroke-width="0.9"/>
<path d="M151.70,22.80 H166.70" stroke="#0a14e6" stroke-width="1.5"/>
<text x="168.00" y="24.90" font-size="6.2" fill="#333" style="stroke-width:0.08px">[0 0 ξ]</text>
<path d="M151.70,30.60 H166.70" stroke="#f01414" stroke-width="1.5"/>
<text x="168.00" y="32.70" font-size="6.2" fill="#333" style="stroke-width:0.08px">[ξ ξ ξ]</text>
<path d="M151.70,38.60 H166.70" stroke="#ff00ff" stroke-width="1.5" stroke-dasharray="5 2.6"/>
<text x="168.00" y="40.70" font-size="6.2" fill="#333" style="stroke-width:0.08px">[ξ ξ 2ξ]</text>
<path d="M151.70,46.80 H166.70" stroke="#a01c24" stroke-width="1.5" stroke-dasharray="5 2.6"/>
<text x="168.00" y="48.90" font-size="6.2" fill="#333" style="stroke-width:0.08px">[2ξ ξ 0]</text>
<rect x="28.5" y="14.2" width="164.50" height="120.80" fill="none" stroke="#bdbdbd" stroke-width="1.2"/>
<path d="M28.50,135 v-1.6 M28.50,14.2 v1.6" stroke="#6a6a6a" stroke-width="0.6"/>
<path d="M55.92,135 v-1.6 M55.92,14.2 v1.6" stroke="#6a6a6a" stroke-width="0.6"/>
<path d="M83.33,135 v-1.6 M83.33,14.2 v1.6" stroke="#6a6a6a" stroke-width="0.6"/>
<path d="M110.75,135 v-1.6 M110.75,14.2 v1.6" stroke="#6a6a6a" stroke-width="0.6"/>
<path d="M138.17,135 v-1.6 M138.17,14.2 v1.6" stroke="#6a6a6a" stroke-width="0.6"/>
<path d="M165.58,135 v-1.6 M165.58,14.2 v1.6" stroke="#6a6a6a" stroke-width="0.6"/>
<path d="M193.00,135 v-1.6 M193.00,14.2 v1.6" stroke="#6a6a6a" stroke-width="0.6"/>
<path d="M28.5,135.00 h1.6 M193,135.00 h-1.6" stroke="#6a6a6a" stroke-width="0.6"/>
<path d="M28.5,117.74 h1.6 M193,117.74 h-1.6" stroke="#6a6a6a" stroke-width="0.6"/>
<path d="M28.5,100.49 h1.6 M193,100.49 h-1.6" stroke="#6a6a6a" stroke-width="0.6"/>
<path d="M28.5,83.23 h1.6 M193,83.23 h-1.6" stroke="#6a6a6a" stroke-width="0.6"/>
<path d="M28.5,65.97 h1.6 M193,65.97 h-1.6" stroke="#6a6a6a" stroke-width="0.6"/>
<path d="M28.5,48.71 h1.6 M193,48.71 h-1.6" stroke="#6a6a6a" stroke-width="0.6"/>
<path d="M28.5,31.46 h1.6 M193,31.46 h-1.6" stroke="#6a6a6a" stroke-width="0.6"/>
<path d="M28.5,14.20 h1.6 M193,14.20 h-1.6" stroke="#6a6a6a" stroke-width="0.6"/>
<text x="28.50" y="145.80" font-size="7.3" text-anchor="middle" font-weight="normal" fill="#262626" >0</text>
<text x="55.92" y="145.80" font-size="7.3" text-anchor="middle" font-weight="normal" fill="#262626" >0.2</text>
<text x="83.33" y="145.80" font-size="7.3" text-anchor="middle" font-weight="normal" fill="#262626" >0.4</text>
<text x="110.75" y="145.80" font-size="7.3" text-anchor="middle" font-weight="normal" fill="#262626" >0.6</text>
<text x="138.17" y="145.80" font-size="7.3" text-anchor="middle" font-weight="normal" fill="#262626" >0.8</text>
<text x="165.58" y="145.80" font-size="7.3" text-anchor="middle" font-weight="normal" fill="#262626" >1</text>
<text x="193.00" y="145.80" font-size="7.3" text-anchor="middle" font-weight="normal" fill="#262626" >1.2</text>
<text x="25.30" y="138.10" font-size="7.3" text-anchor="end" fill="#262626">0</text>
<text x="25.30" y="120.84" font-size="7.3" text-anchor="end" fill="#262626">5</text>
<text x="25.30" y="103.59" font-size="7.3" text-anchor="end" fill="#262626">10</text>
<text x="25.30" y="86.33" font-size="7.3" text-anchor="end" fill="#262626">15</text>
<text x="25.30" y="69.07" font-size="7.3" text-anchor="end" fill="#262626">20</text>
<text x="25.30" y="51.81" font-size="7.3" text-anchor="end" fill="#262626">25</text>
<text x="25.30" y="34.56" font-size="7.3" text-anchor="end" fill="#262626">30</text>
<text x="25.30" y="17.30" font-size="7.3" text-anchor="end" fill="#262626">35</text>
<text x="110.75" y="156.60" font-size="8.1" text-anchor="middle" font-weight="normal" fill="#262626" >q (2π/a)</text>
<text x="0" y="0" font-size="8.4" text-anchor="middle" fill="#262626" transform="translate(13.60,74.60) rotate(-90)">Velocity (THz Angstrom)</text>
<text x="110.75" y="7.50" font-size="7.5" font-weight="bold" text-anchor="middle" fill="#000">TA<tspan font-size="5.6" dy="4.4">x</tspan></text>
<text x="3.10" y="9.40" font-size="9.5" font-weight="bold" fill="#000">(a)</text>
<path d="M275.5,55.9h.9M320.6,96.4h.9M275.1,52.9h.9M268.6,49.4h.9M301.8,76.6h.9M314.2,98.0h.9M324.7,108.0h.9M277.0,57.9h.9M269.5,47.8h.9M281.4,57.8h.9M319.2,101.7h.9M337.0,118.9h.9M339.1,115.3h.9M316.4,90.4h.9M347.5,122.6h.9M313.2,88.0h.9M321.9,105.1h.9M288.9,67.8h.9M322.8,99.3h.9M342.1,125.5h.9M279.6,57.3h.9M265.2,42.7h.9M279.0,56.7h.9M322.4,100.5h.9M264.3,43.9h.9M310.1,91.1h.9M292.1,68.0h.9M335.6,109.8h.9M336.8,109.9h.9M329.7,103.9h.9M343.9,129.8h.9M300.2,81.9h.9M287.4,63.0h.9M277.5,52.1h.9M297.4,77.4h.9M265.8,40.4h.9M349.8,121.7h.9M279.1,53.5h.9M316.5,98.5h.9M272.9,50.5h.9M322.8,98.9h.9M330.3,116.0h.9M274.3,52.9h.9M248.3,30.8h.9M307.8,84.2h.9M330.2,113.3h.9M331.8,104.7h.9M319.1,94.0h.9M343.4,129.5h.9M270.1,44.8h.9M251.9,31.1h.9M329.5,114.2h.9M302.0,76.8h.9M307.5,89.0h.9M328.4,105.3h.9M267.1,43.5h.9M316.6,98.9h.9M340.5,120.8h.9M337.3,111.2h.9M340.8,116.8h.9M326.5,102.5h.9M297.4,75.4h.9M325.9,109.9h.9M269.4,45.7h.9M327.0,105.2h.9M311.8,86.7h.9M293.2,73.3h.9M305.8,81.2h.9M333.2,117.7h.9M302.7,81.9h.9M321.6,104.7h.9M253.7,33.5h.9M319.6,99.8h.9M328.8,101.8h.9M333.1,106.2h.9M301.0,75.8h.9M272.3,48.0h.9M315.5,96.9h.9M280.7,60.3h.9M317.1,94.3h.9M280.1,60.4h.9M279.3,58.7h.9M343.6,120.2h.9M247.4,27.1h.9M327.8,107.9h.9M328.2,109.7h.9M285.1,63.4h.9M339.1,124.5h.9M262.5,41.7h.9M298.3,74.3h.9M346.7,119.9h.9M349.6,126.3h.9M343.3,121.6h.9M353.0,127.6h.9M328.1,112.8h.9M330.0,102.7h.9M325.2,98.8h.9M306.8,90.4h.9M294.7,70.0h.9M326.6,110.9h.9M340.4,126.5h.9M316.4,91.8h.9M338.5,123.7h.9M351.0,128.3h.9M297.3,74.8h.9M327.0,100.8h.9M345.7,119.9h.9M255.8,34.4h.9M339.8,112.3h.9M343.4,130.8h.9M252.3,27.8h.9M316.1,92.2h.9M332.7,114.0h.9M353.7,126.5h.9M343.4,130.1h.9M263.1,40.3h.9M281.9,61.5h.9M279.4,58.4h.9M291.4,68.7h.9M287.9,67.6h.9M268.1,44.8h.9M263.2,41.1h.9M306.3,87.4h.9M295.7,74.5h.9M325.9,100.1h.9M342.5,123.1h.9M334.0,109.5h.9M353.7,125.6h.9M347.7,126.9h.9M353.8,125.8h.9M343.0,117.2h.9M277.9,55.3h.9M284.9,61.2h.9M304.2,79.3h.9M251.3,27.4h.9M270.5,47.8h.9M281.0,56.1h.9M334.8,113.0h.9M321.1,98.2h.9M305.8,85.9h.9M255.1,33.8h.9M342.4,122.6h.9M296.7,79.7h.9M250.0,29.7h.9M249.3,31.3h.9M329.6,108.3h.9M305.6,80.9h.9M327.2,107.3h.9M314.4,93.7h.9M333.0,119.2h.9M293.5,70.1h.9M318.3,92.4h.9M304.0,84.8h.9M326.0,103.9h.9M345.3,130.7h.9M307.8,90.2h.9M248.3,27.9h.9M347.3,125.1h.9M305.2,87.8h.9M273.7,50.0h.9M243.9,27.3h.9M318.3,102.9h.9M326.7,112.0h.9M280.3,56.7h.9M245.4,25.5h.9M334.9,112.1h.9M308.7,90.6h.9M322.2,102.9h.9M347.0,124.7h.9M309.6,86.8h.9M351.7,128.7h.9M342.4,123.3h.9M322.2,95.7h.9M304.0,78.6h.9M281.4,56.4h.9M282.5,59.7h.9M279.1,53.7h.9M305.9,80.8h.9M352.8,129.0h.9M345.5,120.5h.9M306.0,79.9h.9M313.0,97.4h.9M324.5,109.2h.9M335.1,112.3h.9M330.5,105.2h.9M258.8,32.9h.9M308.1,88.7h.9M253.6,35.1h.9M264.2,40.7h.9M342.8,123.8h.9M322.7,99.6h.9M327.2,100.7h.9M308.7,88.3h.9M330.7,108.9h.9M253.5,28.8h.9M283.4,61.8h.9M297.8,80.0h.9M299.5,80.8h.9M293.1,71.6h.9M332.1,105.3h.9M314.4,88.0h.9M351.0,127.3h.9M254.2,32.2h.9M329.4,112.9h.9M336.5,123.2h.9M320.6,97.9h.9M315.5,96.8h.9M326.7,105.1h.9M277.6,54.6h.9M338.1,111.4h.9M311.4,95.7h.9M312.1,93.5h.9M308.2,82.3h.9M322.5,107.8h.9M336.4,116.9h.9M285.8,67.6h.9M331.3,107.9h.9M258.8,35.7h.9M283.0,64.7h.9M325.2,108.9h.9M320.1,102.7h.9M270.5,44.7h.9M280.1,61.9h.9M259.6,36.3h.9M319.3,97.5h.9M341.5,117.9h.9M256.3,35.6h.9M341.5,117.0h.9M357.6,130.0h.9M315.3,97.8h.9M306.6,83.9h.9M335.1,109.0h.9M302.2,77.7h.9M338.3,119.7h.9M263.9,42.7h.9M300.3,76.7h.9M344.1,122.8h.9M344.0,123.0h.9M289.9,64.3h.9M276.6,54.0h.9M334.1,108.1h.9M346.2,130.3h.9M349.3,127.5h.9M274.4,51.0h.9M342.4,124.8h.9M278.7,58.5h.9M345.3,128.5h.9M248.8,29.9h.9M335.6,117.8h.9M306.5,89.8h.9M321.9,105.2h.9M345.3,126.0h.9M294.9,73.0h.9M260.8,37.7h.9M278.2,57.6h.9M340.6,127.8h.9M277.3,58.9h.9M342.9,130.1h.9M345.9,126.5h.9M326.8,111.8h.9M330.7,110.8h.9M245.0,25.8h.9M288.7,69.5h.9M311.5,92.7h.9M309.0,88.8h.9M270.0,50.2h.9M351.3,128.1h.9M295.5,77.9h.9M270.0,45.9h.9M349.2,124.9h.9M341.3,127.0h.9M353.5,129.1h.9M268.6,46.0h.9M344.4,121.5h.9M308.5,89.2h.9M330.9,110.9h.9M296.6,71.7h.9M328.3,105.6h.9M336.8,120.5h.9M316.4,93.7h.9M306.8,81.2h.9M270.6,47.4h.9M332.1,105.6h.9M246.3,25.8h.9M327.4,110.7h.9M336.5,119.3h.9M267.6,41.3h.9M307.6,88.2h.9M291.8,74.6h.9M288.3,63.9h.9M287.3,67.1h.9M300.3,76.1h.9M262.1,40.3h.9M337.7,122.4h.9M311.8,95.9h.9M312.7,88.9h.9M350.6,126.1h.9M307.9,88.1h.9M322.4,104.9h.9M303.2,84.0h.9M320.9,103.2h.9M328.3,105.0h.9M316.5,92.6h.9M351.6,130.9h.9M338.0,124.5h.9M330.5,108.0h.9M244.0,24.9h.9M330.4,104.1h.9M351.8,127.9h.9M343.4,119.8h.9M341.6,114.0h.9M296.0,77.5h.9M337.2,119.0h.9M344.9,128.9h.9M322.6,99.1h.9M326.2,103.9h.9M251.4,27.6h.9M326.6,102.0h.9M277.1,52.6h.9M256.9,32.4h.9M307.0,85.9h.9M307.8,84.4h.9M324.5,109.2h.9M340.3,125.4h.9M328.2,108.2h.9M282.1,61.6h.9M330.6,107.3h.9M346.0,125.6h.9M291.4,66.2h.9M346.0,130.9h.9M276.5,53.1h.9M255.4,36.7h.9M340.9,122.5h.9M323.1,107.0h.9M309.1,88.2h.9M342.8,120.7h.9M334.5,108.5h.9M345.7,122.3h.9M323.6,108.2h.9M304.6,88.3h.9M291.7,72.4h.9M272.8,53.0h.9M291.4,68.1h.9M315.1,95.8h.9M284.0,64.7h.9M324.6,98.8h.9M345.2,125.4h.9M330.7,113.4h.9M304.7,87.2h.9M328.0,101.6h.9M305.5,80.1h.9M290.3,68.8h.9M330.0,115.1h.9M312.4,92.8h.9M275.6,52.0h.9M267.7,47.1h.9M341.0,126.3h.9M334.3,110.1h.9M284.9,61.8h.9M250.1,28.5h.9M309.1,90.6h.9M313.2,97.0h.9M259.8,34.2h.9M283.0,57.7h.9M337.1,110.1h.9M258.1,37.6h.9M240.4,23.2h.9M315.4,100.1h.9M281.5,62.9h.9M269.4,46.2h.9M278.1,57.0h.9M253.2,28.8h.9M307.4,87.9h.9M325.0,109.8h.9M246.0,29.1h.9M337.2,110.8h.9M277.4,55.6h.9M265.5,41.6h.9M337.4,110.3h.9M286.5,63.8h.9M335.0,116.8h.9M265.4,45.0h.9M315.6,90.5h.9M298.0,75.1h.9M244.5,28.0h.9M340.0,119.0h.9M336.4,111.9h.9M287.2,64.4h.9M282.1,60.3h.9M311.1,85.5h.9M351.8,125.5h.9M324.8,101.6h.9M284.7,64.3h.9M353.6,127.6h.9M342.6,116.4h.9M281.0,57.9h.9M252.1,34.3h.9M327.9,103.2h.9M321.1,102.9h.9M326.5,111.1h.9M327.0,100.3h.9M290.8,68.1h.9M304.7,88.8h.9M330.8,113.6h.9M350.1,130.3h.9M346.6,126.3h.9M319.9,93.3h.9M292.0,71.0h.9M285.6,62.1h.9M296.5,73.4h.9M344.1,130.9h.9M295.7,74.3h.9M289.1,66.3h.9M341.6,125.2h.9M311.5,89.0h.9M322.0,99.1h.9M266.5,46.9h.9M253.5,34.9h.9M290.9,66.4h.9M258.0,34.3h.9M349.9,129.8h.9M295.2,76.3h.9M337.2,124.0h.9M313.4,94.3h.9M278.7,57.3h.9M271.3,50.6h.9M349.8,122.7h.9M244.0,25.1h.9M348.3,123.3h.9M311.5,91.1h.9M338.2,115.0h.9M328.5,111.8h.9M262.7,37.5h.9M307.7,90.2h.9M331.3,104.7h.9M327.4,108.3h.9M248.8,27.8h.9M298.2,74.7h.9M332.3,115.3h.9M345.4,124.7h.9M339.5,124.8h.9M251.5,29.8h.9M308.7,92.3h.9M310.8,85.2h.9M319.4,99.2h.9M303.2,87.3h.9M347.6,122.9h.9M273.0,51.7h.9M338.6,116.3h.9M255.5,36.0h.9M351.8,129.5h.9M306.4,83.9h.9M313.2,86.9h.9M303.2,78.2h.9M282.9,59.0h.9M267.5,42.0h.9M259.2,33.3h.9M269.2,46.7h.9M293.9,72.7h.9M242.8,25.0h.9M328.0,101.4h.9M257.2,34.4h.9M309.5,86.7h.9M255.2,32.9h.9M348.6,130.8h.9M274.2,49.7h.9M268.5,48.4h.9M325.0,103.2h.9M317.6,101.2h.9M322.6,96.2h.9M300.7,76.6h.9M301.3,81.1h.9M295.1,70.4h.9M316.4,98.3h.9M350.2,128.2h.9M336.2,122.7h.9M330.5,112.4h.9M323.9,103.4h.9M298.5,74.2h.9M267.5,47.5h.9M316.5,99.6h.9M307.9,88.7h.9M339.6,115.0h.9M342.6,127.8h.9M302.0,77.8h.9M337.8,112.8h.9M329.1,105.7h.9M292.1,74.9h.9M339.1,114.3h.9M260.9,38.0h.9M318.8,93.1h.9M302.1,85.1h.9M342.6,127.4h.9M282.9,62.9h.9M319.0,94.8h.9M301.7,76.0h.9M348.2,129.4h.9M312.7,87.0h.9M305.4,81.2h.9M247.3,30.5h.9M312.1,96.6h.9M258.4,38.4h.9M252.5,33.5h.9M271.8,49.0h.9M285.8,63.2h.9M297.4,78.8h.9M322.2,104.5h.9M303.2,86.3h.9M317.6,91.2h.9M348.3,127.8h.9M342.0,116.4h.9M345.4,118.1h.9M305.3,87.0h.9M316.1,95.9h.9M295.6,70.5h.9M277.2,53.4h.9M283.0,61.0h.9M316.8,95.6h.9M327.0,108.6h.9M298.7,76.4h.9M244.9,26.2h.9M322.8,102.4h.9M328.2,110.2h.9M306.4,82.4h.9M299.7,82.0h.9M357.1,129.5h.9M298.7,78.8h.9M343.8,125.6h.9M317.3,91.1h.9M322.8,99.3h.9M336.2,123.3h.9M249.0,27.7h.9M318.6,102.7h.9M316.7,93.6h.9M323.0,102.6h.9M351.6,128.4h.9M320.1,100.8h.9M297.3,80.0h.9M296.2,74.1h.9M332.8,115.9h.9M283.2,60.4h.9M304.6,79.6h.9M264.7,44.2h.9M250.2,32.3h.9M345.7,126.2h.9M270.9,49.5h.9M296.2,77.4h.9M341.0,122.7h.9M331.6,115.2h.9M308.1,92.2h.9M300.9,82.3h.9M271.2,50.4h.9M295.5,70.3h.9M301.2,80.8h.9M269.6,48.7h.9M317.2,92.1h.9M354.8,128.6h.9M322.0,106.5h.9M281.7,63.6h.9M288.1,64.8h.9M248.9,26.5h.9M343.5,128.0h.9M308.0,92.1h.9M329.0,107.4h.9M336.3,112.3h.9M316.4,90.7h.9M330.6,103.9h.9M313.0,96.7h.9M324.7,110.0h.9M335.5,122.5h.9M328.5,104.8h.9M313.4,91.1h.9M308.1,90.8h.9M254.5,35.6h.9M337.9,113.1h.9M348.6,129.1h.9M355.2,128.8h.9M291.8,69.4h.9M303.3,80.5h.9M323.9,106.8h.9M301.4,77.4h.9M261.6,39.0h.9M341.0,113.4h.9M287.9,64.6h.9M307.8,88.4h.9M338.1,123.2h.9M253.0,32.9h.9M339.5,125.6h.9M293.7,73.3h.9M330.1,110.8h.9M335.7,111.3h.9M276.8,51.2h.9M280.3,59.1h.9M243.3,25.6h.9M332.1,109.8h.9M321.7,106.3h.9M335.4,120.8h.9M336.7,110.1h.9M343.4,122.1h.9M330.4,108.8h.9M263.7,38.0h.9M346.6,127.5h.9M304.4,84.4h.9M254.3,30.8h.9M305.1,85.2h.9M306.7,90.6h.9M334.3,114.5h.9M269.5,43.9h.9M262.5,42.3h.9M280.0,57.6h.9M347.7,120.2h.9M312.7,89.0h.9M272.4,49.9h.9M312.8,95.4h.9M303.5,81.7h.9M307.1,87.4h.9M306.5,81.0h.9M348.2,126.5h.9M266.0,46.1h.9M280.0,56.1h.9M318.1,92.0h.9M320.3,99.7h.9M266.9,44.5h.9M289.0,71.6h.9M332.3,109.5h.9M265.0,41.2h.9M340.4,112.8h.9M262.8,40.1h.9M344.9,124.6h.9M276.0,52.7h.9M317.0,97.0h.9M324.6,109.2h.9M343.2,120.9h.9M342.1,118.8h.9M334.5,120.1h.9M287.8,67.1h.9M290.5,66.0h.9M343.4,118.0h.9M330.3,104.8h.9M290.2,71.4h.9M250.8,28.9h.9M329.7,104.3h.9M347.3,130.8h.9M287.6,64.9h.9M338.1,113.8h.9M346.4,122.8h.9M266.6,41.6h.9M307.0,88.4h.9M311.9,90.0h.9M317.0,99.7h.9M336.0,119.1h.9M336.2,122.7h.9M317.7,102.1h.9M331.6,104.5h.9M302.5,84.8h.9M327.2,111.9h.9M295.4,72.9h.9M354.2,130.6h.9M335.0,119.4h.9M341.5,124.0h.9M339.7,114.0h.9M341.6,116.5h.9M284.2,63.0h.9M346.8,120.2h.9M313.6,88.3h.9M342.6,129.0h.9M245.5,26.1h.9M355.2,129.0h.9M246.9,28.1h.9M281.3,63.1h.9M348.9,125.7h.9M337.5,121.0h.9M330.1,104.1h.9M298.2,81.5h.9M324.7,104.3h.9M275.7,54.0h.9M254.3,32.8h.9M338.9,114.1h.9M301.8,81.0h.9M312.1,90.3h.9M306.4,90.6h.9M322.2,97.6h.9M265.7,39.8h.9M278.4,57.5h.9M291.2,68.9h.9M304.8,88.0h.9M338.8,121.3h.9M304.2,79.8h.9M333.6,117.8h.9M311.7,95.9h.9M266.4,44.3h.9M306.6,82.2h.9M304.7,87.1h.9M242.5,24.3h.9M282.3,60.8h.9M245.9,26.2h.9M317.0,91.5h.9M312.5,93.2h.9M266.8,44.0h.9M347.4,120.6h.9M289.3,68.2h.9M308.6,87.2h.9M320.6,103.2h.9M348.3,128.8h.9M253.4,33.8h.9M326.1,104.5h.9M347.7,129.7h.9M294.6,77.5h.9M344.8,128.3h.9M264.0,39.0h.9M247.6,27.8h.9M330.5,104.4h.9M309.3,82.9h.9M301.0,84.3h.9M338.3,121.4h.9M300.4,75.1h.9M301.1,79.1h.9M311.2,88.7h.9M266.1,42.3h.9M340.4,120.8h.9M293.3,71.1h.9M293.3,73.3h.9M304.5,82.0h.9M266.0,45.1h.9M341.6,123.8h.9M301.5,80.4h.9M274.9,53.4h.9M342.9,121.0h.9M289.9,64.6h.9M306.9,89.1h.9M240.7,23.5h.9M335.7,122.4h.9M282.6,61.1h.9M325.7,98.8h.9M321.3,98.7h.9M329.2,105.2h.9M342.2,125.6h.9M324.5,103.5h.9M289.5,70.6h.9M322.2,98.5h.9M340.1,115.6h.9M305.7,88.9h.9M330.1,116.3h.9M337.2,117.0h.9M243.4,26.7h.9M296.9,71.8h.9M269.9,45.3h.9M263.7,40.2h.9M274.7,49.9h.9M303.3,80.6h.9M338.3,117.2h.9M340.8,122.1h.9M268.3,43.3h.9M342.1,115.3h.9M319.2,93.2h.9M315.3,89.5h.9M348.6,127.2h.9M286.7,61.8h.9M338.4,118.7h.9M349.1,126.0h.9M311.0,87.0h.9M275.7,54.6h.9M341.7,126.6h.9M249.8,31.1h.9M300.6,77.6h.9M301.7,76.8h.9M327.8,110.2h.9M328.8,106.6h.9M257.7,38.2h.9M282.9,60.5h.9M346.9,128.1h.9M300.0,76.4h.9M332.3,105.0h.9M285.4,67.5h.9M318.3,98.4h.9M349.7,124.8h.9M255.1,31.9h.9M269.3,49.3h.9M281.5,58.4h.9M247.9,26.9h.9M323.0,101.9h.9M246.8,27.8h.9M292.2,68.1h.9M316.4,90.4h.9M332.2,114.0h.9M301.2,84.6h.9M300.6,78.9h.9M292.3,74.7h.9M252.1,31.3h.9M277.7,53.4h.9M288.8,70.3h.9M310.6,95.4h.9M308.7,86.9h.9M306.6,85.6h.9M350.6,128.2h.9M252.2,29.8h.9M321.3,102.5h.9M323.2,108.4h.9M309.6,84.7h.9M274.9,53.3h.9M316.4,97.7h.9M331.4,110.0h.9M317.0,100.9h.9M276.2,53.5h.9M325.5,102.7h.9M343.4,121.1h.9M344.0,130.2h.9M258.3,37.9h.9M271.2,48.7h.9M331.7,112.3h.9M305.7,86.7h.9M330.7,107.1h.9M345.7,126.7h.9M311.5,91.6h.9M350.2,130.8h.9M270.0,49.6h.9M293.0,75.9h.9M273.9,51.7h.9M284.0,59.9h.9M257.9,32.5h.9M340.8,113.6h.9M328.8,104.1h.9M301.9,81.8h.9M330.6,112.1h.9M305.0,83.0h.9M332.3,110.6h.9M336.7,113.3h.9M350.9,125.7h.9M334.3,117.5h.9M302.4,84.7h.9M343.4,121.5h.9M332.7,116.2h.9M244.1,25.0h.9M311.0,90.6h.9M333.7,106.4h.9M288.8,71.4h.9M324.8,107.6h.9M329.9,113.0h.9M281.8,56.3h.9M302.4,81.9h.9M304.3,80.5h.9M304.3,86.4h.9M331.5,117.5h.9M298.6,79.9h.9M286.8,66.5h.9M294.8,73.0h.9M259.6,36.8h.9M277.7,59.6h.9M322.8,102.8h.9M284.9,63.6h.9M345.9,120.7h.9M290.0,72.2h.9M294.1,74.5h.9M260.1,38.9h.9M337.7,111.9h.9M336.9,116.6h.9M301.5,80.5h.9M349.0,127.3h.9M340.3,125.3h.9M315.3,95.8h.9M347.0,126.5h.9M343.6,125.3h.9M333.3,108.9h.9M348.9,126.1h.9M329.9,107.8h.9M319.4,103.8h.9M286.1,61.2h.9M321.7,106.0h.9M351.1,123.4h.9M247.0,27.1h.9M278.1,58.9h.9M288.7,68.5h.9M348.5,126.7h.9M312.0,94.6h.9M323.9,102.5h.9M351.6,125.0h.9M306.5,87.0h.9M255.4,30.8h.9M285.9,64.4h.9M314.6,89.1h.9M345.8,127.2h.9M311.2,94.8h.9M291.8,70.6h.9M256.8,35.3h.9M294.1,73.9h.9M321.7,102.5h.9M325.0,98.3h.9M275.8,51.0h.9M343.3,123.5h.9M316.7,101.6h.9M317.7,96.1h.9M306.6,82.7h.9M327.0,102.4h.9M271.2,45.3h.9M305.6,80.1h.9M298.8,80.1h.9M309.4,83.3h.9M245.4,27.6h.9M313.0,96.0h.9M340.0,122.8h.9M299.1,76.6h.9M242.0,25.2h.9M316.2,97.3h.9M320.8,101.7h.9M328.2,104.2h.9M317.6,98.9h.9M352.8,128.2h.9M278.3,56.0h.9M307.6,89.2h.9M312.3,91.4h.9M320.7,100.4h.9M306.3,84.1h.9M325.5,110.6h.9M304.8,80.8h.9M337.6,115.7h.9M333.1,107.2h.9M324.3,109.2h.9M347.9,130.7h.9M255.5,33.4h.9M305.2,82.5h.9M307.3,84.1h.9M261.8,40.1h.9M300.2,80.0h.9M276.2,54.3h.9M346.7,126.0h.9M250.2,29.4h.9M283.2,57.5h.9M306.1,84.9h.9M303.7,77.6h.9M305.4,87.9h.9M292.0,72.6h.9M307.7,88.3h.9M309.0,84.6h.9M285.8,64.2h.9M281.1,56.1h.9M309.6,93.9h.9M334.6,115.2h.9M342.2,114.4h.9M304.8,89.0h.9M342.4,116.3h.9M248.2,28.5h.9M282.3,61.5h.9M292.9,70.7h.9M337.7,114.6h.9M313.4,89.2h.9M345.4,121.6h.9M323.3,96.6h.9M346.6,121.7h.9M286.3,62.2h.9M273.4,53.8h.9M343.4,118.4h.9M346.3,119.2h.9M345.2,118.3h.9M329.0,114.8h.9M307.6,85.2h.9M353.5,130.3h.9M333.9,108.9h.9M267.8,47.1h.9M304.9,84.7h.9M341.8,127.1h.9M317.5,96.1h.9M306.0,87.9h.9M277.5,54.7h.9M317.2,102.1h.9M343.2,130.1h.9M297.7,73.5h.9M319.0,95.5h.9M261.0,35.5h.9M350.1,125.7h.9M242.6,25.6h.9M250.4,30.5h.9M265.6,45.7h.9M268.4,47.8h.9M292.7,67.4h.9M284.4,65.5h.9M278.2,57.5h.9M322.5,104.6h.9M268.3,44.9h.9M251.4,27.6h.9M308.8,88.2h.9M281.9,63.4h.9M341.2,116.7h.9M339.5,116.7h.9M344.8,127.9h.9M302.8,77.7h.9M285.6,65.0h.9M277.6,55.2h.9M302.2,81.1h.9M339.6,124.5h.9M340.4,119.2h.9M339.1,121.4h.9M329.3,102.3h.9M332.7,111.5h.9M283.2,60.1h.9M272.9,51.3h.9M331.2,109.2h.9M307.8,85.0h.9M261.1,40.7h.9M348.2,122.2h.9M286.7,63.2h.9" stroke="#5aa4dc" stroke-width="0.9" opacity="0.85" fill="none"/>
<path d="M359.8,106.3h.9M330.9,101.6h.9M353.3,127.9h.9M372.4,94.3h.9M370.1,97.3h.9M344.7,104.6h.9M366.7,93.0h.9M361.4,107.0h.9M346.6,109.9h.9M336.2,102.6h.9M374.0,91.2h.9M359.0,101.8h.9M352.1,130.3h.9M354.1,108.2h.9M365.1,92.2h.9M363.0,93.7h.9M341.1,98.0h.9M360.9,103.5h.9M365.3,100.4h.9M354.9,117.9h.9M358.7,98.1h.9M359.9,95.9h.9M349.8,127.4h.9M360.6,95.6h.9M372.6,95.1h.9M364.4,97.0h.9M355.6,96.9h.9M359.1,116.6h.9M367.4,94.6h.9M348.5,111.4h.9M352.6,111.7h.9M342.0,107.6h.9M356.4,108.8h.9M375.7,94.7h.9M355.1,103.6h.9M358.6,103.6h.9M343.9,98.5h.9M374.9,90.5h.9M352.5,109.5h.9M354.1,117.9h.9M363.6,109.8h.9M350.5,112.3h.9M352.8,107.6h.9M340.5,104.3h.9M359.6,113.7h.9M361.3,106.2h.9M363.4,96.0h.9M363.0,107.7h.9M365.9,93.2h.9M320.6,96.1h.9M356.6,115.8h.9M370.9,94.2h.9M360.8,93.8h.9M324.6,98.4h.9M353.0,129.1h.9M369.5,95.5h.9M364.6,102.3h.9M354.8,98.4h.9M343.2,106.2h.9M364.2,102.6h.9M360.6,104.5h.9M340.7,106.1h.9M362.6,100.2h.9M365.9,103.3h.9M348.0,111.4h.9M349.8,98.5h.9M352.2,110.3h.9M355.5,118.5h.9M331.6,101.6h.9M378.2,91.4h.9M368.1,99.8h.9M332.5,98.6h.9M373.4,91.5h.9M368.5,102.7h.9M348.1,111.6h.9M352.2,95.6h.9M345.1,102.1h.9M365.0,107.5h.9M356.7,100.4h.9M339.8,108.6h.9M365.8,99.2h.9M342.0,100.7h.9M364.7,99.6h.9M356.4,122.1h.9M349.7,111.1h.9M363.4,98.4h.9M378.0,92.0h.9M349.9,127.6h.9M348.6,105.2h.9M355.0,97.3h.9M360.6,104.7h.9M351.5,130.1h.9M371.9,89.6h.9M357.2,119.5h.9M354.9,102.2h.9M341.2,107.2h.9M368.2,94.7h.9M357.7,118.0h.9M352.0,104.5h.9M351.4,130.9h.9M358.6,106.6h.9M345.9,97.1h.9M356.3,116.5h.9M363.0,109.2h.9M339.3,97.7h.9M357.0,118.4h.9M353.9,97.3h.9M362.5,93.3h.9M367.5,95.6h.9M349.2,116.5h.9M340.0,101.6h.9M347.3,105.8h.9M332.7,99.4h.9M348.0,99.4h.9M342.6,101.5h.9M344.8,96.5h.9M338.6,97.7h.9M361.3,93.1h.9M359.7,93.4h.9M348.3,114.5h.9M357.6,108.3h.9M347.5,107.6h.9M351.7,95.6h.9M333.7,103.8h.9M358.2,112.5h.9M374.0,94.4h.9M349.5,95.6h.9M346.6,129.0h.9M351.1,114.8h.9M351.0,95.5h.9M354.8,102.1h.9M353.6,98.4h.9M375.8,89.6h.9M359.5,104.7h.9M359.0,102.6h.9M351.9,111.4h.9M361.1,103.3h.9M367.3,100.7h.9M331.6,102.1h.9M359.3,116.3h.9M358.5,116.2h.9M350.5,103.6h.9M347.8,110.3h.9M356.6,115.0h.9M368.7,102.6h.9M376.7,92.9h.9M355.2,118.3h.9M361.0,100.9h.9M334.3,101.5h.9M357.5,105.0h.9M361.5,99.2h.9M357.6,96.7h.9M345.8,102.5h.9M358.9,99.6h.9M360.3,108.1h.9M331.5,99.5h.9M350.4,104.0h.9M348.7,106.9h.9M365.6,101.1h.9M340.6,98.4h.9M356.4,96.9h.9M360.5,102.2h.9M333.1,100.5h.9M375.5,92.0h.9M342.2,109.4h.9M361.1,94.8h.9M353.7,103.2h.9M345.1,107.8h.9M353.2,99.4h.9M374.4,93.6h.9M358.3,106.5h.9M353.8,104.9h.9M360.9,116.7h.9M354.9,106.4h.9M342.3,105.2h.9M354.8,110.3h.9M362.2,107.3h.9M349.1,112.7h.9M374.4,89.7h.9M364.9,105.1h.9M356.3,125.0h.9M367.8,93.1h.9M369.7,95.2h.9M356.5,104.9h.9M359.5,95.3h.9M366.1,102.7h.9M348.4,96.9h.9M346.4,108.0h.9M363.0,96.5h.9M344.8,130.7h.9M357.8,97.8h.9M345.9,103.7h.9M373.6,97.2h.9M368.6,96.4h.9M356.3,125.0h.9M364.4,104.3h.9M363.9,107.5h.9M359.2,101.7h.9M350.4,107.6h.9M361.8,111.7h.9M357.7,121.9h.9M354.5,101.3h.9M358.9,94.4h.9M362.7,104.1h.9M335.6,102.2h.9M337.0,99.7h.9M360.0,110.0h.9M347.9,108.7h.9M350.2,112.1h.9M340.2,102.3h.9M345.2,100.8h.9M361.2,98.5h.9M358.1,118.1h.9M362.1,93.0h.9M364.6,92.5h.9M332.8,103.0h.9M351.0,98.0h.9M359.0,100.2h.9M341.6,104.0h.9M365.5,95.7h.9M353.7,110.6h.9M330.2,100.7h.9M356.6,120.4h.9M357.7,121.5h.9M374.5,93.4h.9M373.6,92.8h.9M352.1,130.7h.9M340.0,105.0h.9M342.1,108.0h.9M359.8,112.4h.9M357.5,96.3h.9M357.5,110.2h.9M365.1,94.7h.9M357.3,115.4h.9M366.4,91.1h.9M358.0,113.7h.9M367.9,98.1h.9M337.8,101.0h.9M355.4,106.4h.9M347.7,98.7h.9M332.1,101.3h.9M350.9,114.6h.9M348.9,103.1h.9M363.4,95.3h.9M367.9,101.6h.9M372.5,91.8h.9M346.3,102.5h.9M373.9,89.7h.9M346.6,112.1h.9M355.0,103.4h.9M339.8,99.8h.9M355.3,108.1h.9M351.6,129.4h.9M355.1,110.8h.9M377.5,91.4h.9M337.9,106.9h.9M356.3,99.9h.9M351.5,115.5h.9M360.2,99.3h.9M330.6,99.3h.9M351.0,130.9h.9M369.2,93.6h.9M357.6,117.5h.9M372.8,94.7h.9M363.5,102.6h.9M336.5,100.5h.9M343.0,100.5h.9M359.6,118.1h.9M350.3,97.5h.9M361.9,100.6h.9M350.4,111.1h.9M367.8,91.4h.9M325.7,98.2h.9M345.5,103.8h.9M357.1,102.2h.9M337.7,105.6h.9M359.0,119.4h.9M357.9,97.5h.9M373.0,91.0h.9M360.8,115.7h.9M372.6,90.0h.9M362.8,93.3h.9M362.9,95.0h.9M358.1,109.7h.9M369.9,95.7h.9M337.8,105.3h.9M354.2,104.5h.9M374.4,92.9h.9M348.6,106.9h.9M348.0,103.3h.9M357.5,110.6h.9M341.9,105.5h.9M362.7,105.7h.9M337.3,101.1h.9M359.0,105.8h.9M352.4,97.3h.9M346.9,114.3h.9M354.7,95.3h.9M355.8,123.0h.9M366.7,93.9h.9M361.1,94.9h.9M350.8,127.1h.9M367.1,91.5h.9M353.7,106.5h.9M368.2,92.3h.9M352.2,102.1h.9M353.9,97.2h.9M351.8,112.3h.9M355.4,117.7h.9M368.6,99.9h.9M352.1,112.2h.9M354.3,120.1h.9M358.5,94.0h.9M351.8,130.1h.9M360.9,94.3h.9M333.0,100.5h.9M349.8,128.5h.9M346.9,109.7h.9M358.4,110.8h.9M345.4,102.1h.9M347.8,128.6h.9M372.7,93.4h.9M357.4,102.6h.9M348.4,105.4h.9M352.0,117.2h.9M346.8,96.1h.9M340.4,100.3h.9M360.9,97.3h.9M357.0,100.9h.9M368.0,95.0h.9M364.2,104.9h.9M356.2,107.1h.9M328.1,99.3h.9M360.9,110.1h.9M362.1,97.0h.9M368.7,89.9h.9M372.1,98.1h.9M359.3,109.9h.9M349.1,131.0h.9M358.4,116.7h.9M355.5,119.2h.9M371.5,96.8h.9M361.0,100.9h.9M325.8,97.8h.9M348.1,108.7h.9M353.6,102.9h.9M352.0,118.2h.9M364.0,103.8h.9M347.7,109.2h.9M362.4,108.6h.9M347.2,104.3h.9M356.4,113.3h.9M353.1,118.3h.9M331.9,99.5h.9M352.3,100.1h.9M355.5,105.8h.9M353.4,111.0h.9M349.7,116.0h.9M339.5,106.9h.9M345.8,130.1h.9M361.4,114.8h.9M352.2,96.2h.9M366.8,92.6h.9M346.4,103.9h.9M354.3,105.8h.9M333.4,99.8h.9M332.1,100.0h.9M349.5,103.6h.9M369.7,96.2h.9M344.6,101.5h.9M327.7,99.7h.9M363.9,103.1h.9M338.7,98.8h.9M345.2,109.3h.9M360.0,119.3h.9M349.6,108.0h.9M358.1,102.6h.9M361.3,112.3h.9M367.3,98.5h.9M365.8,93.0h.9M356.0,112.6h.9M358.3,96.8h.9M355.9,121.1h.9M346.6,100.7h.9M361.8,105.2h.9M353.4,128.9h.9M337.1,103.7h.9M350.2,106.2h.9M348.1,98.5h.9M351.5,98.7h.9M355.0,97.1h.9M334.9,102.3h.9M333.0,100.3h.9M353.0,97.6h.9M358.2,114.1h.9M360.1,102.2h.9M349.5,98.7h.9M354.7,108.9h.9M358.7,120.9h.9M351.0,113.6h.9M362.1,101.3h.9M371.6,95.4h.9M342.9,107.4h.9M368.7,100.5h.9M361.8,101.7h.9M374.5,93.5h.9M348.2,99.7h.9M350.8,108.5h.9M358.5,94.3h.9M340.5,107.4h.9M359.2,113.3h.9M363.7,106.1h.9M356.5,117.4h.9M351.4,126.8h.9M355.7,113.3h.9M367.5,95.7h.9M351.2,126.7h.9M335.6,98.6h.9M354.3,125.4h.9M336.7,102.0h.9" stroke="#4a96d6" stroke-width="0.9" opacity="0.85" fill="none"/>
<path d="M376.3,127.8h.9M370.2,124.0h.9M367.9,128.0h.9M365.0,130.6h.9M376.3,121.2h.9M371.6,122.9h.9M365.8,130.6h.9M368.7,127.1h.9M375.3,126.7h.9M368.5,121.8h.9M366.7,127.7h.9M368.0,131.0h.9M376.6,125.1h.9M369.4,125.4h.9" stroke="#4a96d6" stroke-width="0.9" opacity="0.85" fill="none"/>
<path d="M264.8,51.4 l3.2,-2.4 M270.6,57.9 l3.2,-2.4 M276.4,64.4 l3.2,-2.4 M282.2,70.8 l3.2,-2.4 M288.0,76.9 l3.2,-2.4 M293.8,82.9 l3.2,-2.4 M299.6,89.1 l3.2,-2.4 M305.4,95.9 l3.2,-2.4 M311.2,102.1 l3.2,-2.4 M317.0,108.0 l3.2,-2.4 M322.8,114.2 l3.2,-2.4 M328.6,120.6 l3.2,-2.4 M334.4,127.6 l3.2,-2.4 " stroke="#3a88d0" stroke-width="1.1" opacity="0.9" fill="none"/>
<path d="M234.70,20.10 C236.38,20.45 241.72,21.12 244.80,22.20 C247.88,23.28 250.42,24.80 253.20,26.60 C255.98,28.40 258.72,30.57 261.50,33.00 C264.28,35.43 267.10,38.40 269.90,41.20 C272.70,44.00 275.50,47.00 278.30,49.80 C281.10,52.60 283.90,55.25 286.70,58.00 C289.50,60.75 291.22,62.50 295.10,66.30 C298.98,70.10 305.52,76.43 310.00,80.80 C314.48,85.17 318.00,88.60 322.00,92.50 C326.00,96.40 330.33,100.62 334.00,104.20 C337.67,107.78 340.83,110.87 344.00,114.00 C347.17,117.13 349.95,120.07 353.00,123.00 C356.05,125.93 360.75,130.17 362.30,131.60" fill="none" stroke="#0a14e6" stroke-width="1.4" stroke-linejoin="round"/>
<path d="M234.30,25.70 C236.05,26.23 241.65,27.50 244.80,28.90 C247.95,30.30 250.42,32.02 253.20,34.10 C255.98,36.18 258.72,38.60 261.50,41.40 C264.28,44.20 267.10,47.75 269.90,50.90 C272.70,54.05 275.50,57.17 278.30,60.30 C281.10,63.43 283.90,66.70 286.70,69.70 C289.50,72.70 292.55,75.67 295.10,78.30 C297.65,80.93 299.52,82.72 302.00,85.50 C304.48,88.28 306.67,91.38 310.00,95.00 C313.33,98.62 318.40,103.40 322.00,107.20 C325.60,111.00 328.93,114.75 331.60,117.80 C334.27,120.85 335.85,123.05 338.00,125.50 C340.15,127.95 343.42,131.33 344.50,132.50" fill="none" stroke="#f01414" stroke-width="1.4" stroke-linejoin="round"/>
<path d="M240.00,26.80 C241.67,27.50 246.67,28.97 250.00,31.00 C253.33,33.03 256.67,35.83 260.00,39.00 C263.33,42.17 266.67,46.25 270.00,50.00 C273.33,53.75 276.67,57.67 280.00,61.50 C283.33,65.33 286.50,69.25 290.00,73.00 C293.50,76.75 297.42,80.17 301.00,84.00 C304.58,87.83 307.75,91.83 311.50,96.00 C315.25,100.17 319.83,105.00 323.50,109.00 C327.17,113.00 330.50,116.75 333.50,120.00 C336.50,123.25 339.08,126.17 341.50,128.50 C343.92,130.83 346.92,133.08 348.00,134.00" fill="none" stroke="#ff00ff" stroke-width="1.4" stroke-dasharray="4 2.2" stroke-linejoin="round"/>
<path d="M240.00,27.00 C241.67,27.70 246.67,29.20 250.00,31.20 C253.33,33.20 256.67,35.87 260.00,39.00 C263.33,42.13 266.67,46.25 270.00,50.00 C273.33,53.75 276.67,57.75 280.00,61.50 C283.33,65.25 286.67,68.92 290.00,72.50 C293.33,76.08 296.27,79.45 300.00,83.00 C303.73,86.55 309.13,91.10 312.40,93.80 C315.67,96.50 317.20,97.80 319.60,99.20 C322.00,100.60 324.40,101.63 326.80,102.20 C329.20,102.77 331.47,102.53 334.00,102.60 C336.53,102.67 339.32,102.75 342.00,102.60 C344.68,102.45 347.08,102.43 350.10,101.70 C353.12,100.97 356.77,99.55 360.10,98.20 C363.43,96.85 367.28,94.75 370.10,93.60 C372.92,92.45 375.85,91.68 377.00,91.30" fill="none" stroke="#a01c24" stroke-width="1.4" stroke-dasharray="4 2.2" stroke-linejoin="round"/>
<rect x="351.0" y="15.3" width="38.40" height="32.70" fill="#fff" stroke="#bdbdbd" stroke-width="0.9"/>
<path d="M352.50,19.60 H367.50" stroke="#0a14e6" stroke-width="1.5"/>
<text x="368.80" y="21.70" font-size="6.2" fill="#333" style="stroke-width:0.08px">[0 0 ξ]</text>
<path d="M352.50,27.60 H367.50" stroke="#f01414" stroke-width="1.5"/>
<text x="368.80" y="29.70" font-size="6.2" fill="#333" style="stroke-width:0.08px">[ξ ξ ξ]</text>
<path d="M352.50,35.60 H367.50" stroke="#ff00ff" stroke-width="1.5" stroke-dasharray="5 2.6"/>
<text x="368.80" y="37.70" font-size="6.2" fill="#333" style="stroke-width:0.08px">[ξ ξ 2ξ]</text>
<path d="M352.50,43.60 H367.50" stroke="#a01c24" stroke-width="1.5" stroke-dasharray="5 2.6"/>
<text x="368.80" y="45.70" font-size="6.2" fill="#333" style="stroke-width:0.08px">[2ξ ξ 0]</text>
<rect x="228.7" y="11.2" width="164.60" height="123.80" fill="none" stroke="#bdbdbd" stroke-width="1.2"/>
<path d="M228.70,135 v-1.6 M228.70,11.2 v1.6" stroke="#6a6a6a" stroke-width="0.6"/>
<path d="M256.13,135 v-1.6 M256.13,11.2 v1.6" stroke="#6a6a6a" stroke-width="0.6"/>
<path d="M283.57,135 v-1.6 M283.57,11.2 v1.6" stroke="#6a6a6a" stroke-width="0.6"/>
<path d="M311.00,135 v-1.6 M311.00,11.2 v1.6" stroke="#6a6a6a" stroke-width="0.6"/>
<path d="M338.43,135 v-1.6 M338.43,11.2 v1.6" stroke="#6a6a6a" stroke-width="0.6"/>
<path d="M365.87,135 v-1.6 M365.87,11.2 v1.6" stroke="#6a6a6a" stroke-width="0.6"/>
<path d="M393.30,135 v-1.6 M393.30,11.2 v1.6" stroke="#6a6a6a" stroke-width="0.6"/>
<path d="M228.7,135.00 h1.6 M393.3,135.00 h-1.6" stroke="#6a6a6a" stroke-width="0.6"/>
<path d="M228.7,117.31 h1.6 M393.3,117.31 h-1.6" stroke="#6a6a6a" stroke-width="0.6"/>
<path d="M228.7,99.63 h1.6 M393.3,99.63 h-1.6" stroke="#6a6a6a" stroke-width="0.6"/>
<path d="M228.7,81.94 h1.6 M393.3,81.94 h-1.6" stroke="#6a6a6a" stroke-width="0.6"/>
<path d="M228.7,64.26 h1.6 M393.3,64.26 h-1.6" stroke="#6a6a6a" stroke-width="0.6"/>
<path d="M228.7,46.57 h1.6 M393.3,46.57 h-1.6" stroke="#6a6a6a" stroke-width="0.6"/>
<path d="M228.7,28.89 h1.6 M393.3,28.89 h-1.6" stroke="#6a6a6a" stroke-width="0.6"/>
<path d="M228.7,11.20 h1.6 M393.3,11.20 h-1.6" stroke="#6a6a6a" stroke-width="0.6"/>
<text x="228.70" y="145.80" font-size="7.3" text-anchor="middle" font-weight="normal" fill="#262626" >0</text>
<text x="256.13" y="145.80" font-size="7.3" text-anchor="middle" font-weight="normal" fill="#262626" >0.2</text>
<text x="283.57" y="145.80" font-size="7.3" text-anchor="middle" font-weight="normal" fill="#262626" >0.4</text>
<text x="311.00" y="145.80" font-size="7.3" text-anchor="middle" font-weight="normal" fill="#262626" >0.6</text>
<text x="338.43" y="145.80" font-size="7.3" text-anchor="middle" font-weight="normal" fill="#262626" >0.8</text>
<text x="365.87" y="145.80" font-size="7.3" text-anchor="middle" font-weight="normal" fill="#262626" >1</text>
<text x="393.30" y="145.80" font-size="7.3" text-anchor="middle" font-weight="normal" fill="#262626" >1.2</text>
<text x="225.50" y="138.10" font-size="7.3" text-anchor="end" fill="#262626">0</text>
<text x="225.50" y="120.41" font-size="7.3" text-anchor="end" fill="#262626">10</text>
<text x="225.50" y="102.73" font-size="7.3" text-anchor="end" fill="#262626">20</text>
<text x="225.50" y="85.04" font-size="7.3" text-anchor="end" fill="#262626">30</text>
<text x="225.50" y="67.36" font-size="7.3" text-anchor="end" fill="#262626">40</text>
<text x="225.50" y="49.67" font-size="7.3" text-anchor="end" fill="#262626">50</text>
<text x="225.50" y="31.99" font-size="7.3" text-anchor="end" fill="#262626">60</text>
<text x="225.50" y="14.30" font-size="7.3" text-anchor="end" fill="#262626">70</text>
<text x="311.00" y="156.60" font-size="8.1" text-anchor="middle" font-weight="normal" fill="#262626" >q (2π/a)</text>
<text x="0" y="0" font-size="8.4" text-anchor="middle" fill="#262626" transform="translate(213.60,73.10) rotate(-90)">Velocity (THz Angstrom)</text>
<text x="311.00" y="8.50" font-size="7.5" font-weight="bold" text-anchor="middle" fill="#000">LA</text>
<text x="200.80" y="9.60" font-size="9.5" font-weight="bold" fill="#000">(b)</text>
<path d="M536.9,31.0h.9M549.2,60.8h.9M540.1,63.4h.9M506.6,76.2h.9M563.4,86.9h.9M550.6,47.2h.9M530.6,28.5h.9M474.6,73.2h.9M554.3,108.6h.9M487.9,55.7h.9M538.1,33.0h.9M486.6,68.5h.9M531.1,76.5h.9M522.8,40.5h.9M517.8,32.0h.9M533.7,30.8h.9M533.1,96.9h.9M537.5,48.2h.9M520.0,37.8h.9M549.6,122.0h.9M531.5,89.2h.9M509.9,34.2h.9M514.6,70.5h.9M575.1,58.6h.9M550.9,95.9h.9M529.4,80.7h.9M467.4,90.4h.9M565.6,57.1h.9M462.5,91.5h.9M521.6,64.3h.9M491.8,49.1h.9M548.9,72.0h.9M540.4,83.3h.9M566.3,38.7h.9M475.1,91.0h.9M499.0,38.9h.9M558.0,54.0h.9M501.9,42.9h.9M534.4,70.6h.9M553.0,53.0h.9M564.9,55.5h.9M530.2,61.0h.9M573.0,44.6h.9M543.4,32.1h.9M577.8,62.0h.9M541.0,97.7h.9M559.5,85.6h.9M535.2,28.6h.9M501.3,57.6h.9M509.9,76.7h.9M552.3,97.9h.9M501.6,59.3h.9M533.7,83.1h.9M477.4,72.0h.9M464.3,93.6h.9M534.9,66.3h.9M559.9,76.1h.9M536.3,71.7h.9M525.9,33.6h.9M553.2,30.3h.9M524.1,45.0h.9M463.0,97.7h.9M557.8,49.0h.9M508.6,75.2h.9M539.7,95.8h.9M534.8,86.0h.9M544.5,29.1h.9M530.7,79.5h.9M485.6,64.1h.9M557.4,106.9h.9M465.7,87.3h.9M504.5,41.0h.9M516.1,67.9h.9M533.2,83.7h.9M572.1,71.8h.9M557.9,79.0h.9M497.3,71.5h.9M565.8,89.7h.9M544.8,45.2h.9M547.5,114.6h.9M504.5,66.6h.9M511.5,59.6h.9M508.0,73.5h.9M542.9,80.2h.9M546.4,36.2h.9M530.4,32.5h.9M543.7,91.8h.9M557.4,107.4h.9M573.9,46.4h.9M518.1,73.2h.9M561.4,99.2h.9M493.5,56.7h.9M549.1,44.0h.9M511.7,75.6h.9M542.0,27.7h.9M488.5,69.1h.9M486.3,67.2h.9M468.7,85.0h.9M567.1,35.4h.9M528.9,54.5h.9M525.2,32.3h.9M508.2,55.7h.9M550.7,67.3h.9M532.0,95.3h.9M528.1,81.3h.9M528.5,63.9h.9M544.4,63.0h.9M549.7,115.1h.9M573.3,72.1h.9M551.1,92.1h.9M551.6,61.8h.9M507.1,65.8h.9M568.4,67.0h.9M481.7,73.6h.9M555.3,107.8h.9M525.2,50.3h.9M561.4,75.5h.9M566.2,88.2h.9M503.8,48.2h.9M492.1,77.6h.9M533.7,91.9h.9M527.5,43.1h.9M548.5,90.8h.9M469.7,81.1h.9M537.4,78.7h.9M513.7,58.8h.9M573.6,64.9h.9M561.4,56.1h.9M537.4,60.4h.9M551.5,116.8h.9M565.1,40.4h.9M565.6,54.0h.9M527.6,90.1h.9M524.4,76.3h.9M530.1,65.5h.9M523.0,66.5h.9M547.1,30.5h.9M555.0,41.4h.9M563.6,87.1h.9M474.0,90.4h.9M573.3,46.6h.9M510.2,65.8h.9M546.3,39.1h.9M501.0,50.8h.9M518.6,52.5h.9M547.1,55.2h.9M546.9,91.1h.9M542.9,98.3h.9M536.7,44.7h.9M550.9,114.9h.9M565.5,44.9h.9M545.0,35.5h.9M467.6,89.0h.9M478.6,80.8h.9M517.0,43.4h.9M493.6,76.9h.9M466.1,101.6h.9M488.7,63.0h.9M544.1,38.3h.9M517.6,58.7h.9M567.1,76.1h.9M510.4,48.8h.9M497.0,63.5h.9M529.6,88.6h.9M520.9,29.2h.9M546.0,81.0h.9M508.5,40.9h.9M544.9,84.7h.9M543.2,42.4h.9M536.0,95.0h.9M473.3,75.8h.9M512.5,67.0h.9M570.2,41.8h.9M551.1,85.1h.9M473.6,75.3h.9M565.3,35.5h.9M552.4,32.1h.9M552.2,68.9h.9M559.4,90.5h.9M514.4,54.7h.9M559.8,47.6h.9M467.9,83.5h.9M548.4,82.3h.9M460.5,96.2h.9M548.9,51.5h.9M530.2,54.9h.9M479.2,76.5h.9M496.7,73.1h.9M535.2,95.5h.9M545.0,67.9h.9M546.0,51.5h.9M526.8,74.4h.9M556.6,61.4h.9M521.5,66.1h.9M554.6,93.3h.9M474.2,91.1h.9M562.6,54.7h.9M490.5,76.1h.9M575.0,50.1h.9M545.3,33.7h.9M554.4,68.4h.9M569.2,50.4h.9M538.4,81.0h.9M546.1,34.5h.9M526.5,64.9h.9M461.3,93.2h.9M546.3,112.0h.9M545.0,59.8h.9M568.6,47.8h.9M503.0,39.4h.9M517.4,62.4h.9M487.8,77.6h.9M527.2,33.3h.9M531.8,97.6h.9M568.2,60.3h.9M467.4,94.6h.9M533.5,40.1h.9M538.9,72.1h.9M543.8,43.8h.9M506.2,50.0h.9M549.3,32.5h.9M555.3,40.9h.9M571.1,63.7h.9M569.0,54.6h.9M566.4,52.1h.9M550.3,119.5h.9M566.4,50.3h.9M544.8,60.4h.9M489.8,66.9h.9M524.8,45.9h.9M498.2,62.5h.9M548.6,85.7h.9M500.1,73.1h.9M498.6,57.7h.9M554.7,69.7h.9M551.2,53.4h.9M483.7,66.1h.9M483.2,65.3h.9M565.5,74.2h.9M527.6,79.9h.9M561.0,36.6h.9M548.4,66.6h.9M568.1,43.9h.9M552.6,83.0h.9M537.3,103.4h.9M507.7,36.9h.9M576.5,58.6h.9M560.4,64.9h.9M530.6,79.7h.9M504.8,71.1h.9M470.6,77.1h.9M568.6,48.5h.9M559.3,95.2h.9M575.0,71.6h.9M531.6,50.9h.9M520.3,70.6h.9M562.8,70.3h.9M460.1,97.3h.9M572.9,69.6h.9M571.2,62.4h.9M573.5,64.8h.9M485.9,81.0h.9M497.9,66.8h.9M561.8,67.5h.9M489.6,72.0h.9M534.7,72.5h.9M503.8,64.4h.9M555.2,88.6h.9M466.9,100.2h.9M558.5,96.4h.9M570.3,82.2h.9M555.2,81.8h.9M544.3,112.6h.9M492.3,61.0h.9M546.6,49.4h.9M563.2,60.7h.9M481.1,60.7h.9M552.2,46.9h.9M555.8,92.6h.9M562.7,36.2h.9M557.0,39.6h.9M559.2,37.8h.9M556.6,68.0h.9M556.7,34.2h.9M556.8,109.8h.9M504.9,61.7h.9M573.6,49.0h.9M575.9,54.4h.9M488.6,50.1h.9M528.6,70.4h.9M533.3,64.9h.9M516.1,53.2h.9M551.5,35.9h.9M557.1,77.8h.9M549.2,39.7h.9M527.6,57.4h.9M488.5,58.4h.9M533.9,79.0h.9M545.7,100.2h.9M491.9,44.9h.9M476.3,91.7h.9M544.8,91.6h.9M554.5,62.7h.9M551.2,108.3h.9M522.2,67.1h.9M489.6,73.9h.9M541.5,99.7h.9M542.6,79.7h.9M573.0,70.3h.9M503.0,51.4h.9M533.4,35.0h.9M495.5,41.2h.9M548.7,63.9h.9M503.5,60.0h.9M527.5,63.8h.9M557.9,47.7h.9M527.4,73.3h.9M544.9,43.8h.9M508.2,45.3h.9M546.7,105.4h.9M541.6,55.5h.9M546.4,66.7h.9M466.5,96.0h.9M486.4,75.2h.9M493.9,67.7h.9M544.5,26.9h.9M564.3,58.2h.9M558.6,54.7h.9M554.5,52.7h.9M535.0,49.9h.9M487.9,56.9h.9M538.7,89.3h.9M509.0,37.1h.9M528.3,55.0h.9M501.0,56.0h.9M542.3,92.0h.9M523.7,37.3h.9M570.3,74.4h.9M523.7,43.7h.9M477.4,75.6h.9M489.2,57.2h.9M528.3,53.4h.9M482.4,84.1h.9M511.7,60.4h.9M489.0,57.1h.9M554.7,52.2h.9M569.1,65.8h.9M510.3,70.6h.9M505.7,55.4h.9M533.4,81.5h.9M541.5,36.1h.9M536.5,73.3h.9M507.0,37.4h.9M562.2,38.3h.9M550.3,96.2h.9M541.4,88.8h.9M511.3,53.8h.9M533.3,64.4h.9M548.7,62.7h.9M511.8,68.9h.9M497.6,75.1h.9M494.1,64.6h.9M542.2,71.7h.9M548.3,94.1h.9M497.9,54.8h.9M538.2,33.3h.9M529.7,87.3h.9M525.4,53.8h.9M528.0,52.8h.9M522.2,48.8h.9M489.3,52.2h.9M542.8,70.7h.9M531.8,53.6h.9M462.7,94.4h.9M571.0,53.1h.9M542.4,33.4h.9M562.3,55.5h.9M472.1,91.4h.9M462.5,90.9h.9M517.5,75.5h.9M497.1,44.7h.9M518.3,45.7h.9M512.7,69.5h.9M470.0,83.9h.9M559.2,73.5h.9M566.4,46.0h.9M548.0,62.6h.9M517.2,51.2h.9M487.0,76.7h.9M487.4,78.7h.9M537.5,82.1h.9M497.2,41.9h.9M577.0,63.7h.9M558.4,43.0h.9M532.0,51.7h.9M562.8,39.3h.9M510.1,70.5h.9M530.1,55.0h.9M552.8,64.8h.9M573.2,59.0h.9M576.7,60.4h.9M560.5,34.1h.9M560.3,40.6h.9M556.9,62.5h.9M561.5,94.4h.9M567.4,65.0h.9M507.3,53.2h.9M541.4,95.7h.9M518.7,44.3h.9M530.1,59.0h.9M544.7,49.5h.9M539.8,80.1h.9M537.9,30.9h.9M549.4,109.3h.9M507.8,47.6h.9M567.1,61.8h.9M500.2,55.4h.9M518.5,35.4h.9M521.2,37.6h.9M570.3,75.8h.9M541.3,60.6h.9M567.0,38.9h.9M527.0,75.2h.9M544.5,36.1h.9M533.5,57.5h.9M487.2,51.1h.9M555.8,107.6h.9M533.1,63.6h.9M483.7,72.1h.9M538.4,59.4h.9M544.1,56.4h.9M532.6,74.0h.9M564.3,42.0h.9M551.1,111.5h.9M572.5,46.1h.9M466.5,88.9h.9M522.7,51.0h.9M549.6,57.4h.9M508.5,47.3h.9M532.6,58.0h.9M553.1,57.0h.9M550.5,96.4h.9M538.0,79.6h.9M548.5,100.8h.9M493.8,67.2h.9M535.5,55.5h.9M564.7,83.4h.9M565.5,48.1h.9M524.7,75.3h.9M541.1,52.2h.9M511.6,36.8h.9M547.4,27.3h.9M518.8,64.7h.9M533.3,96.2h.9M529.4,42.0h.9M503.8,73.4h.9M547.1,113.3h.9M498.7,61.5h.9M537.0,74.5h.9M546.2,115.5h.9M512.4,57.3h.9M573.5,58.2h.9M495.2,44.5h.9M486.7,63.8h.9M543.2,57.6h.9M543.1,36.1h.9M544.7,46.3h.9M543.9,93.2h.9M459.4,96.7h.9M523.7,57.2h.9M543.1,95.0h.9M548.9,44.7h.9M473.0,78.8h.9M555.1,79.6h.9M501.6,46.3h.9M478.2,85.3h.9M565.3,56.8h.9M566.2,42.9h.9M548.9,61.9h.9M517.0,37.5h.9M505.4,57.8h.9M532.4,93.6h.9M514.5,74.9h.9M545.8,62.5h.9M563.9,79.7h.9M493.8,56.8h.9M482.7,75.0h.9M570.2,76.1h.9M554.3,69.4h.9M555.9,45.0h.9M521.7,75.8h.9M485.9,77.8h.9M504.5,69.4h.9M530.7,58.7h.9M512.5,54.0h.9M563.1,88.5h.9M554.0,86.4h.9M465.2,94.8h.9M487.7,64.2h.9M571.5,64.1h.9M535.7,63.9h.9M552.6,106.9h.9M522.5,28.5h.9M506.4,60.4h.9M498.6,49.6h.9M539.2,69.4h.9M553.9,49.2h.9M487.6,54.7h.9M482.4,62.3h.9M480.7,75.2h.9M516.8,43.5h.9M510.8,67.0h.9M493.7,50.5h.9M573.2,51.1h.9M471.6,93.9h.9M498.2,55.8h.9M542.9,32.5h.9M508.0,73.3h.9M565.4,47.8h.9M541.4,32.8h.9M524.2,33.7h.9M539.0,90.0h.9M527.6,52.3h.9M555.9,112.0h.9M540.0,55.1h.9M490.0,72.5h.9M531.5,92.2h.9M571.5,80.0h.9M540.7,35.0h.9M563.3,50.3h.9M530.4,53.2h.9M565.8,67.4h.9M510.6,61.7h.9M554.2,89.5h.9M551.8,79.9h.9M468.0,95.7h.9M549.3,118.9h.9M566.3,85.6h.9M541.8,47.1h.9M533.9,53.1h.9M521.3,64.4h.9M563.1,62.7h.9M551.5,108.9h.9M523.7,76.8h.9M559.4,33.4h.9M536.4,85.4h.9M460.4,95.5h.9M575.5,69.6h.9M570.5,58.5h.9M489.6,72.4h.9M466.3,93.9h.9M550.4,109.7h.9M557.2,107.6h.9M535.0,77.8h.9M511.9,56.1h.9M524.7,48.9h.9M490.4,54.2h.9M550.2,102.7h.9M561.5,95.0h.9M491.0,52.2h.9M515.7,54.8h.9M555.8,71.5h.9M503.1,46.8h.9M553.6,56.2h.9M534.5,93.1h.9M499.3,75.1h.9M542.0,45.4h.9M511.6,35.0h.9M570.0,76.5h.9M532.8,67.1h.9M513.0,69.2h.9M532.7,35.4h.9M542.3,109.9h.9M479.5,65.9h.9M567.0,73.2h.9M541.1,55.8h.9M489.0,79.8h.9M477.1,71.4h.9M564.5,33.3h.9M497.1,61.3h.9M478.1,82.9h.9M482.1,75.5h.9M485.8,78.7h.9M541.9,63.9h.9M568.1,59.5h.9M550.7,43.1h.9M554.6,113.0h.9M574.3,47.7h.9M530.9,61.3h.9M514.7,67.8h.9M516.9,55.6h.9M556.0,49.1h.9M474.7,86.8h.9M533.2,66.5h.9M546.9,50.0h.9M507.7,52.3h.9M552.2,61.3h.9M483.6,76.5h.9M531.3,84.5h.9M541.0,29.5h.9M518.8,54.9h.9M553.6,115.3h.9M564.7,52.0h.9M511.2,50.9h.9M571.9,62.3h.9M509.1,68.1h.9M569.2,47.0h.9M522.3,45.7h.9M476.2,78.2h.9M558.1,70.9h.9M542.8,111.9h.9M554.0,32.1h.9M549.5,115.0h.9M544.3,70.7h.9M569.2,80.3h.9M505.7,39.9h.9M527.5,84.1h.9M556.1,52.7h.9M462.6,91.3h.9M573.8,44.0h.9M482.8,58.9h.9M532.6,58.6h.9M556.3,55.6h.9M522.2,68.7h.9M544.0,100.2h.9M546.8,73.2h.9M495.1,77.1h.9M493.0,46.4h.9M511.5,42.1h.9M542.6,29.2h.9M467.2,83.4h.9M532.9,39.1h.9M480.3,68.7h.9M513.2,47.6h.9M484.0,63.9h.9M576.9,64.2h.9M507.1,39.6h.9M550.2,88.3h.9M572.0,45.7h.9M512.5,63.1h.9M550.7,96.9h.9M530.8,48.5h.9M523.3,55.1h.9M565.5,61.3h.9M555.7,35.8h.9M562.5,36.1h.9M537.1,40.8h.9M502.5,53.3h.9M549.4,42.8h.9M469.2,85.5h.9M546.3,101.3h.9M538.0,58.6h.9M468.8,95.5h.9M563.3,71.8h.9M562.3,34.0h.9M489.1,64.1h.9M546.0,76.7h.9M546.8,59.9h.9M558.5,103.9h.9M513.5,47.6h.9M538.6,58.2h.9M489.7,78.2h.9M498.3,54.5h.9M501.6,58.8h.9M527.1,48.7h.9M482.3,73.3h.9M522.0,42.0h.9M508.7,75.6h.9M507.4,48.9h.9M548.4,50.1h.9M515.1,55.5h.9M481.5,74.7h.9M502.8,60.2h.9M568.9,61.7h.9M532.3,82.3h.9M536.2,96.3h.9M566.3,79.4h.9M566.9,56.9h.9M469.3,92.0h.9M527.6,28.4h.9M496.4,65.9h.9M487.0,56.7h.9M525.3,73.6h.9M465.1,102.8h.9M556.5,87.4h.9M562.2,71.4h.9M462.4,90.9h.9M563.2,60.6h.9M561.6,44.4h.9M521.2,65.1h.9M551.9,78.2h.9M473.3,84.0h.9M550.2,86.2h.9M507.2,40.8h.9M556.3,104.8h.9M542.6,101.4h.9M552.6,93.0h.9M572.3,65.3h.9M510.4,74.0h.9M563.3,61.8h.9M465.2,97.2h.9M543.1,31.3h.9M528.0,85.3h.9M553.3,36.4h.9M464.3,104.2h.9M561.3,79.0h.9M561.6,64.8h.9M479.5,78.2h.9M553.1,41.7h.9M554.8,87.7h.9M520.6,35.5h.9M531.3,58.6h.9M575.9,51.7h.9M541.1,57.8h.9M526.8,70.4h.9M535.2,46.3h.9M508.7,38.0h.9M482.3,85.8h.9M489.2,71.5h.9M523.4,46.5h.9M553.4,111.0h.9M514.4,33.2h.9M526.9,88.0h.9M521.3,71.1h.9M551.8,35.7h.9M566.7,37.4h.9M547.2,36.1h.9M527.3,49.5h.9M549.5,81.3h.9M553.6,87.7h.9M536.9,102.1h.9M482.5,57.5h.9M487.9,57.8h.9M551.6,99.6h.9M551.5,60.9h.9M544.9,97.8h.9M490.8,65.9h.9M550.2,45.1h.9M494.5,46.1h.9M514.6,52.9h.9M493.7,56.9h.9M492.3,66.7h.9M524.4,64.7h.9M513.0,73.7h.9M492.0,44.5h.9M558.1,72.5h.9M547.7,107.1h.9M518.3,31.1h.9M515.8,56.8h.9M571.9,45.4h.9M572.2,49.9h.9M544.5,79.2h.9M505.4,66.7h.9M533.4,60.3h.9M554.5,67.1h.9M553.4,110.0h.9M542.5,77.3h.9M483.6,64.2h.9M468.2,87.9h.9M496.0,76.7h.9M551.3,94.7h.9M547.2,40.8h.9M512.8,71.6h.9M522.4,55.5h.9M548.1,95.2h.9M515.3,65.6h.9M503.8,34.5h.9M511.6,41.4h.9M541.3,78.0h.9M561.5,56.7h.9M529.6,36.0h.9M555.8,28.9h.9M525.7,64.7h.9M506.5,64.8h.9M567.1,78.9h.9M530.0,54.0h.9M508.0,71.1h.9M530.9,93.1h.9M497.4,50.3h.9M551.6,48.7h.9M477.1,71.4h.9M490.5,78.3h.9M574.9,47.1h.9M502.9,74.1h.9M508.3,36.4h.9M536.8,55.8h.9M544.8,56.7h.9M528.5,37.4h.9M532.4,79.9h.9M567.4,54.1h.9M500.0,43.7h.9M545.1,34.9h.9M577.4,61.9h.9M572.9,51.6h.9M570.8,49.2h.9M564.0,93.6h.9M476.9,68.7h.9M525.7,42.3h.9M540.5,80.8h.9M495.9,76.0h.9M546.9,80.7h.9M467.5,100.0h.9M477.4,66.6h.9M494.7,74.1h.9M522.1,42.3h.9M547.2,59.5h.9M536.8,82.2h.9M518.0,31.5h.9M563.7,71.0h.9M525.4,76.9h.9M534.3,69.2h.9M534.4,33.6h.9M532.5,60.6h.9M557.1,109.8h.9M527.7,43.8h.9M542.3,38.9h.9M573.5,57.8h.9M479.0,84.1h.9M501.7,48.0h.9M567.5,85.8h.9M548.7,70.6h.9M487.5,80.0h.9M537.1,41.0h.9M565.6,76.7h.9M507.0,57.2h.9M495.5,75.8h.9M538.6,29.3h.9M545.2,104.1h.9M560.9,60.7h.9M555.8,61.4h.9M564.5,58.7h.9M538.7,98.5h.9M517.5,30.0h.9M474.1,69.8h.9M542.8,83.2h.9M563.0,58.1h.9M511.8,63.2h.9M507.7,69.6h.9M536.3,51.3h.9M499.5,40.2h.9M562.6,62.7h.9M501.8,44.1h.9M490.9,56.4h.9M529.3,30.5h.9M573.4,74.5h.9M465.9,95.4h.9M576.5,58.1h.9M551.9,83.0h.9M545.5,95.6h.9M552.5,64.4h.9M540.7,33.3h.9M503.8,65.0h.9M525.6,57.5h.9M533.1,60.0h.9M508.6,48.0h.9M539.2,85.4h.9M556.5,67.5h.9M533.0,46.6h.9M528.4,52.5h.9M502.3,47.7h.9M526.0,39.1h.9M551.3,81.2h.9M523.9,28.6h.9M538.3,94.0h.9M519.0,72.4h.9M520.0,39.3h.9M533.4,73.0h.9M567.1,73.2h.9M567.5,68.8h.9M533.3,94.7h.9M541.8,62.7h.9M478.3,76.8h.9M542.4,90.7h.9M558.4,78.5h.9M507.9,55.3h.9M550.7,42.1h.9M540.4,47.6h.9M524.4,84.0h.9M506.7,57.1h.9M548.1,64.8h.9M541.5,102.2h.9M495.6,60.1h.9M563.6,81.9h.9M529.1,54.6h.9M504.6,76.5h.9M555.6,62.5h.9M568.0,49.2h.9M489.9,66.3h.9M522.2,60.4h.9M525.6,88.9h.9M476.8,86.7h.9M465.8,85.9h.9M551.7,80.7h.9M542.2,46.9h.9M557.9,36.3h.9M555.9,90.4h.9M501.9,57.8h.9M537.7,72.0h.9M472.8,82.1h.9M541.3,61.0h.9M544.8,99.1h.9M508.4,75.4h.9M463.9,96.9h.9M572.9,71.2h.9M514.4,75.5h.9M543.2,31.0h.9M530.9,28.9h.9M522.6,82.8h.9M564.1,34.4h.9M498.3,41.2h.9M526.3,45.2h.9M545.7,112.4h.9M517.8,35.9h.9M533.4,38.5h.9M509.8,47.0h.9M482.1,71.2h.9M544.6,68.2h.9M465.9,99.3h.9M571.1,71.4h.9M470.4,81.8h.9M475.7,87.6h.9M522.6,29.0h.9M556.2,108.3h.9M520.4,37.1h.9M563.3,41.9h.9M547.9,67.1h.9M540.0,57.9h.9M546.4,66.9h.9M560.5,50.3h.9M502.6,75.5h.9M561.3,97.5h.9M543.7,45.8h.9M559.3,81.3h.9M536.3,55.8h.9M481.6,85.0h.9M477.8,66.9h.9M569.7,74.1h.9M561.7,32.0h.9M556.4,99.6h.9M501.5,66.9h.9M495.2,48.5h.9M515.5,72.1h.9M561.5,84.9h.9M519.5,55.8h.9M547.4,43.7h.9M567.8,70.5h.9M513.3,72.8h.9M513.1,44.9h.9M545.9,89.3h.9M534.5,95.6h.9M490.6,47.7h.9M564.3,61.2h.9M553.8,82.0h.9M497.0,52.7h.9M545.5,86.8h.9M538.8,103.7h.9M482.3,72.5h.9M486.6,61.7h.9M551.7,41.7h.9M563.2,47.4h.9M546.9,82.1h.9M576.4,54.6h.9M536.2,86.2h.9M551.9,74.8h.9M528.0,63.9h.9M537.1,44.4h.9M499.6,72.4h.9M560.5,41.7h.9M565.2,67.6h.9M506.6,38.5h.9M528.9,41.1h.9M560.2,92.5h.9M562.7,37.5h.9M555.0,85.1h.9M549.6,110.7h.9M497.3,54.6h.9M522.4,55.1h.9M547.3,110.7h.9M542.8,91.5h.9M554.3,69.2h.9M551.7,30.1h.9M551.3,61.2h.9M486.8,81.0h.9M491.6,67.4h.9M505.5,37.1h.9M516.2,70.9h.9M537.5,79.1h.9M561.8,82.3h.9M516.9,41.7h.9M536.1,62.4h.9M571.6,63.0h.9M524.5,72.5h.9M547.9,111.7h.9M532.6,76.6h.9M552.8,85.4h.9M539.8,92.6h.9M528.9,68.4h.9M534.1,72.1h.9M528.3,52.9h.9M491.9,79.3h.9M552.2,43.1h.9M500.0,43.8h.9M496.0,64.4h.9M560.4,84.7h.9M530.2,83.0h.9M507.9,67.9h.9M541.2,72.0h.9M493.0,62.5h.9M517.3,66.6h.9M556.7,102.8h.9M550.0,54.2h.9M518.5,46.5h.9M530.6,60.6h.9M469.0,85.8h.9M499.9,44.2h.9M566.4,70.6h.9M483.3,58.0h.9M540.0,64.7h.9M555.2,77.1h.9M499.1,65.1h.9M476.2,83.1h.9M548.3,56.8h.9M548.1,81.9h.9M541.5,91.4h.9M548.4,97.4h.9M569.6,57.3h.9M532.0,70.9h.9M540.2,55.9h.9M572.1,57.0h.9M569.3,40.9h.9M490.5,53.9h.9M558.1,91.9h.9M525.3,83.7h.9M505.4,38.9h.9M539.8,104.8h.9M565.5,45.9h.9M543.9,45.6h.9M539.6,49.4h.9M531.2,49.1h.9M483.4,71.7h.9M572.6,47.2h.9M515.7,45.5h.9M548.9,114.4h.9M507.0,62.4h.9M527.9,49.0h.9M514.1,50.5h.9M570.7,80.9h.9M549.9,115.7h.9M542.1,92.7h.9M533.4,98.7h.9M533.3,46.8h.9M554.0,43.0h.9M538.2,90.8h.9M559.3,54.7h.9M575.4,49.9h.9M526.9,62.2h.9M571.0,58.2h.9M541.6,50.1h.9M518.0,63.0h.9M545.2,104.1h.9M497.4,68.3h.9M529.8,35.9h.9M518.3,42.8h.9M528.8,37.8h.9M561.4,94.0h.9M565.5,58.6h.9M535.2,29.5h.9M566.4,63.8h.9M536.7,59.6h.9M549.6,37.5h.9M530.1,91.0h.9M547.6,43.9h.9M519.6,32.5h.9M477.6,72.3h.9M502.7,67.0h.9M501.7,74.1h.9M548.9,46.6h.9M565.4,38.1h.9M508.7,47.1h.9M528.9,66.4h.9M487.8,60.0h.9M540.6,40.8h.9M464.3,102.2h.9M569.7,53.0h.9M541.1,107.0h.9M555.0,64.8h.9M563.2,41.4h.9M528.1,92.8h.9M540.9,51.4h.9M573.2,72.7h.9M470.3,95.4h.9M548.4,28.3h.9M498.9,43.5h.9M558.6,41.9h.9M493.5,49.8h.9M523.2,65.1h.9M487.4,66.3h.9M562.0,89.9h.9M500.6,51.5h.9M518.5,62.2h.9M495.8,70.8h.9M492.6,47.2h.9M570.2,70.6h.9M509.1,55.2h.9M478.0,80.8h.9M526.6,47.5h.9M474.9,71.9h.9M568.3,36.7h.9M495.0,71.3h.9M536.1,43.5h.9M528.0,73.9h.9M538.3,60.6h.9M514.5,72.8h.9M554.8,60.6h.9M559.3,89.2h.9M474.8,84.1h.9M516.8,43.0h.9M526.1,31.6h.9M538.0,97.2h.9M529.0,51.6h.9M478.6,77.6h.9M493.8,70.6h.9M524.5,57.2h.9M543.4,37.0h.9M548.2,86.3h.9M549.7,46.3h.9M553.6,56.1h.9M560.4,59.5h.9M527.0,60.1h.9M508.2,37.6h.9M509.9,50.9h.9M540.2,67.3h.9M492.7,62.2h.9M558.2,103.4h.9M467.1,94.1h.9M550.5,77.1h.9M565.4,54.6h.9M546.3,46.1h.9M543.2,84.3h.9M512.1,68.3h.9M534.5,78.9h.9M521.3,67.1h.9M520.9,68.9h.9M495.0,78.5h.9M562.9,93.8h.9M560.3,62.4h.9M538.3,58.6h.9M499.2,69.8h.9M531.7,47.5h.9M537.0,31.4h.9M569.4,43.7h.9M539.3,81.8h.9M508.9,34.7h.9M530.8,73.3h.9M492.0,77.1h.9M481.7,72.1h.9M492.5,60.1h.9M552.7,52.8h.9M559.2,84.4h.9M538.1,79.0h.9M536.7,45.5h.9M557.6,71.6h.9M545.0,48.6h.9M532.2,64.3h.9M560.1,70.4h.9M574.8,69.8h.9M532.6,51.6h.9M546.5,83.1h.9M554.3,34.2h.9M520.4,54.3h.9M525.2,42.4h.9M542.3,34.5h.9M551.8,54.5h.9M484.7,66.7h.9M526.2,50.0h.9M484.3,58.3h.9M519.9,43.7h.9M507.3,57.6h.9M523.3,68.6h.9M522.5,68.5h.9M539.5,40.8h.9M512.0,70.4h.9M521.6,41.9h.9M571.2,77.7h.9M563.2,69.5h.9M544.2,85.9h.9M543.9,29.2h.9M549.0,118.4h.9M542.4,49.3h.9M521.4,71.9h.9M545.8,52.4h.9M512.7,55.7h.9M479.0,88.5h.9M557.6,59.0h.9M491.5,61.4h.9M557.1,90.2h.9M505.4,62.8h.9M513.3,32.0h.9M552.9,55.6h.9M525.8,67.2h.9M466.5,86.6h.9M519.5,34.2h.9M551.1,93.2h.9M522.4,47.9h.9M558.1,82.5h.9M530.5,94.7h.9M538.5,30.9h.9M473.5,93.6h.9M551.6,118.7h.9M506.9,64.5h.9M482.4,72.9h.9M524.9,74.7h.9M504.8,76.4h.9M528.9,65.3h.9M487.4,64.5h.9M541.3,32.1h.9M553.8,71.7h.9M518.1,33.6h.9M526.5,52.6h.9M518.4,65.3h.9M525.0,78.8h.9M506.4,58.6h.9M549.4,41.7h.9M494.6,55.3h.9M555.9,84.3h.9M559.6,91.1h.9M540.9,85.3h.9M483.0,79.4h.9M508.4,46.5h.9M514.0,67.1h.9M531.8,79.1h.9M516.1,65.5h.9M481.1,81.9h.9M560.5,49.0h.9M546.1,68.6h.9M518.0,41.8h.9M554.4,87.6h.9M552.1,52.4h.9M547.4,52.3h.9M469.0,93.3h.9M530.1,51.9h.9M469.4,86.5h.9M511.9,68.0h.9M543.6,32.9h.9M525.7,42.2h.9M475.3,75.8h.9M488.7,71.3h.9M560.1,79.9h.9M516.4,58.7h.9M494.3,75.9h.9M546.9,111.6h.9M538.2,38.3h.9M474.0,92.5h.9M477.2,86.8h.9M529.0,72.2h.9M540.9,80.0h.9M560.8,35.8h.9M489.9,50.0h.9M554.2,44.2h.9M476.5,89.8h.9M485.3,79.4h.9M486.0,55.9h.9M512.6,51.0h.9M544.5,62.4h.9M537.2,65.3h.9M554.8,70.3h.9M512.6,46.0h.9M516.8,70.7h.9M495.4,42.4h.9M523.6,33.6h.9M570.0,61.8h.9M559.6,37.3h.9M549.1,55.4h.9M575.1,46.8h.9M477.7,80.7h.9M471.6,95.6h.9M472.1,93.8h.9M474.3,85.9h.9M536.0,43.3h.9M538.0,60.2h.9M492.3,58.9h.9M498.8,57.6h.9M504.6,67.0h.9M575.7,51.3h.9M527.8,59.2h.9M541.0,32.1h.9M470.1,98.7h.9M573.8,68.9h.9M558.0,80.7h.9M531.6,72.8h.9M564.4,86.3h.9M536.9,95.0h.9M535.7,61.7h.9M546.3,82.8h.9M512.0,70.7h.9M489.2,78.2h.9M480.5,68.3h.9M481.9,84.3h.9M493.0,70.8h.9M542.4,31.9h.9M551.6,112.4h.9M480.7,68.7h.9M560.9,76.5h.9M560.5,48.2h.9M573.2,70.9h.9M499.6,42.8h.9M541.8,81.6h.9M468.5,88.3h.9M527.5,77.0h.9M550.5,56.3h.9M565.8,66.3h.9M540.2,56.0h.9M550.7,35.5h.9M552.8,42.2h.9M541.6,45.6h.9M503.1,58.7h.9M484.5,69.2h.9M544.2,58.3h.9M472.4,77.9h.9M548.9,37.6h.9M505.0,54.2h.9M567.7,72.6h.9M548.4,48.4h.9M553.4,90.2h.9M545.1,81.9h.9M549.7,81.7h.9M550.9,57.3h.9M560.9,64.5h.9M526.5,59.4h.9M495.7,60.3h.9M565.2,34.0h.9M508.3,40.8h.9M521.8,42.9h.9M570.3,45.9h.9M470.2,94.0h.9M563.0,65.5h.9M541.0,102.1h.9M539.9,56.7h.9M500.4,51.5h.9M566.3,45.1h.9M547.2,93.5h.9M478.6,73.3h.9M554.0,77.5h.9M544.7,102.9h.9M533.3,59.7h.9M558.9,54.2h.9M490.9,75.5h.9M546.6,86.8h.9M502.0,53.9h.9M524.8,35.5h.9M531.8,81.5h.9M560.1,63.8h.9M498.4,68.7h.9M484.1,59.5h.9M506.3,72.9h.9M504.2,59.3h.9M553.5,96.1h.9M525.9,51.1h.9M528.1,38.6h.9M545.6,97.7h.9M522.4,37.9h.9M543.2,36.0h.9M550.5,33.8h.9M539.5,80.0h.9M553.9,111.4h.9M543.9,64.9h.9M542.1,62.3h.9M555.5,39.6h.9M461.2,98.6h.9M539.0,64.8h.9M508.9,32.2h.9M496.6,48.1h.9M544.0,56.2h.9M551.5,104.4h.9M559.0,84.5h.9M550.6,76.8h.9M469.0,95.1h.9M542.5,73.3h.9M533.0,56.1h.9M532.2,85.2h.9M555.0,67.2h.9M531.7,51.0h.9M549.0,70.2h.9M526.8,50.5h.9M540.2,81.9h.9M528.9,55.1h.9M483.1,68.7h.9M498.4,50.9h.9M523.5,43.7h.9M471.7,83.2h.9M540.6,63.8h.9M575.5,54.8h.9M548.0,87.2h.9M552.8,96.4h.9M573.1,76.8h.9M534.5,45.5h.9M469.7,92.9h.9M532.1,77.6h.9M517.7,40.0h.9M558.1,58.5h.9M528.9,71.6h.9M503.6,68.9h.9M538.8,98.1h.9M466.5,98.0h.9M547.3,79.0h.9M473.8,75.7h.9M523.1,63.8h.9M518.4,34.3h.9M561.3,52.6h.9M499.0,64.5h.9M538.2,30.8h.9M495.9,65.2h.9M568.5,53.2h.9M518.3,62.2h.9M549.3,52.1h.9M562.5,51.8h.9M507.8,37.5h.9M509.8,67.0h.9M562.2,39.6h.9M488.4,79.8h.9M523.5,32.6h.9M560.5,84.2h.9M498.6,59.3h.9M552.6,60.7h.9M538.9,81.1h.9M549.3,78.7h.9M506.0,69.0h.9M534.6,74.1h.9M490.3,76.6h.9M562.0,55.7h.9M550.8,51.4h.9M512.0,69.1h.9M561.8,91.5h.9M504.3,51.5h.9M547.0,97.3h.9M539.5,89.5h.9M539.4,43.4h.9M534.1,34.8h.9M491.0,56.4h.9M499.5,67.7h.9M552.4,58.4h.9M557.0,48.3h.9M496.8,46.6h.9M569.8,49.0h.9M534.7,34.5h.9M491.2,47.2h.9M489.2,58.4h.9M544.9,106.6h.9M552.3,94.7h.9M522.8,36.2h.9M517.3,52.7h.9M545.9,37.0h.9M545.1,53.1h.9M529.7,87.5h.9M525.2,45.3h.9M552.6,116.2h.9M540.9,69.4h.9M493.3,46.1h.9M486.3,65.9h.9M549.9,94.5h.9M556.2,69.6h.9M526.9,65.0h.9M481.9,73.8h.9M496.5,69.6h.9M568.3,70.2h.9M557.9,39.9h.9M573.0,63.0h.9M499.3,41.3h.9M484.0,71.2h.9M547.1,53.6h.9M524.4,79.4h.9M553.3,30.4h.9M548.1,75.5h.9M554.7,30.2h.9M565.8,54.8h.9M539.2,78.9h.9M552.8,96.1h.9M542.6,98.9h.9M527.8,52.5h.9M521.5,54.1h.9M499.4,74.7h.9M571.4,58.2h.9M540.9,31.0h.9M547.6,99.1h.9M489.7,51.7h.9M541.7,100.0h.9M547.9,96.0h.9M551.7,85.5h.9M545.5,87.9h.9M496.1,76.9h.9M468.5,97.6h.9M548.6,82.7h.9M509.1,61.5h.9M517.3,35.9h.9M539.0,49.6h.9M566.3,37.7h.9M487.7,73.5h.9M497.2,43.0h.9M561.2,79.9h.9M546.0,95.7h.9" stroke="#4a96d6" stroke-width="0.9" opacity="0.85" fill="none"/>
<path d="M465.7,104.1h.9M463.3,110.0h.9M492.3,81.9h.9M500.6,82.7h.9M505.8,80.1h.9M491.8,83.9h.9M506.2,85.1h.9M513.1,77.7h.9M504.7,82.8h.9M484.1,93.9h.9M518.8,79.4h.9M463.2,102.6h.9M518.4,89.8h.9M480.4,90.9h.9M449.6,121.7h.9M477.9,92.9h.9M514.4,82.7h.9M465.5,106.4h.9M480.2,89.2h.9M510.5,81.0h.9M525.7,91.4h.9M514.2,84.7h.9M488.8,85.0h.9M509.8,80.1h.9M502.5,82.9h.9M489.4,82.7h.9M509.3,82.5h.9M514.7,87.6h.9M478.8,94.7h.9M502.9,85.8h.9M469.9,96.8h.9M464.7,100.8h.9M521.4,85.9h.9M485.2,90.9h.9M460.1,105.6h.9M484.2,93.9h.9M483.7,88.9h.9M475.3,93.4h.9M477.1,93.1h.9M490.0,88.0h.9M450.1,121.5h.9M457.0,115.3h.9M480.5,90.8h.9M484.4,89.5h.9M469.3,101.3h.9M465.5,101.2h.9M520.0,84.6h.9M525.5,90.3h.9M517.2,88.8h.9M518.7,89.0h.9M499.4,87.7h.9M465.5,100.9h.9M511.5,84.5h.9M451.3,121.1h.9M480.6,95.5h.9M481.8,88.4h.9M473.8,99.2h.9M460.0,111.8h.9M471.1,101.6h.9M523.7,90.4h.9M497.2,80.3h.9M478.1,94.7h.9M496.1,89.6h.9M486.5,87.5h.9M483.2,86.1h.9M504.4,81.6h.9M443.6,124.1h.9M465.5,100.4h.9M488.4,83.7h.9M460.7,106.3h.9" stroke="#4a96d6" stroke-width="0.9" opacity="0.85" fill="none"/>
<path d="M490.9,101.8h.9M514.2,103.0h.9M489.2,102.4h.9M512.6,103.1h.9M504.0,103.9h.9M493.6,101.6h.9M491.4,103.7h.9M513.4,103.3h.9M508.7,101.5h.9M496.2,103.6h.9M492.7,102.5h.9M503.9,102.8h.9M508.2,102.1h.9M490.9,102.0h.9" stroke="#4a96d6" stroke-width="0.9" opacity="0.85" fill="none"/>
<path d="M554.3,107.6h.9M544.9,106.6h.9M552.9,96.0h.9M555.1,104.1h.9M549.9,102.6h.9M546.7,109.4h.9M549.5,102.1h.9M555.8,97.4h.9M537.7,106.7h.9M533.3,97.5h.9M549.8,97.9h.9M547.7,116.0h.9M551.9,117.5h.9M552.7,103.1h.9M543.1,110.8h.9M555.8,103.0h.9M547.2,106.1h.9M532.0,97.5h.9M545.3,99.9h.9M545.7,100.9h.9M545.8,104.7h.9M545.1,116.8h.9M531.1,99.4h.9M534.5,103.5h.9M537.6,107.4h.9M550.6,103.1h.9M548.4,98.3h.9M557.0,105.2h.9M543.2,109.1h.9M553.2,98.6h.9M542.9,97.0h.9M544.1,96.1h.9M539.2,110.2h.9M556.9,105.3h.9M535.3,99.8h.9M540.4,109.5h.9M555.8,106.5h.9M553.5,114.3h.9M542.4,96.3h.9M552.8,109.1h.9" stroke="#4a96d6" stroke-width="0.9" opacity="0.85" fill="none"/>
<path d="M568.5,121.2h.9M576.1,113.0h.9M567.3,125.3h.9M569.2,123.6h.9M571.2,124.0h.9M571.7,119.1h.9M574.1,115.6h.9M572.2,119.6h.9M570.3,117.8h.9M571.3,120.1h.9M571.9,118.2h.9M576.4,111.1h.9M570.9,123.2h.9M571.1,118.9h.9M570.7,120.1h.9M574.2,110.4h.9" stroke="#4a96d6" stroke-width="0.9" opacity="0.85" fill="none"/>
<path d="M436.00,133.10 C437.00,132.60 440.00,131.30 442.00,130.10 C444.00,128.90 446.02,127.50 448.00,125.90 C449.98,124.30 451.92,122.40 453.90,120.50 C455.88,118.60 457.90,116.48 459.90,114.50 C461.90,112.52 463.90,110.48 465.90,108.60 C467.90,106.72 469.92,104.80 471.90,103.20 C473.88,101.60 475.45,100.68 477.80,99.00 C480.15,97.32 483.63,94.48 486.00,93.10 C488.37,91.72 490.00,91.35 492.00,90.70 C494.00,90.05 496.02,89.53 498.00,89.20 C499.98,88.87 501.92,88.75 503.90,88.70 C505.88,88.65 507.90,88.67 509.90,88.90 C511.90,89.13 513.90,89.50 515.90,90.10 C517.90,90.70 520.05,91.52 521.90,92.50 C523.75,93.48 525.23,94.45 527.00,96.00 C528.77,97.55 530.62,99.37 532.50,101.80 C534.38,104.23 536.60,107.68 538.30,110.60 C540.00,113.52 541.35,116.38 542.70,119.30 C544.05,122.22 545.78,126.63 546.40,128.10" fill="none" stroke="#f01414" stroke-width="1.4" stroke-linejoin="round"/>
<path d="M436.00,133.10 C437.00,132.70 440.00,131.50 442.00,130.70 C444.00,129.90 446.02,128.93 448.00,128.30 C449.98,127.67 451.92,127.30 453.90,126.90 C455.88,126.50 457.90,126.13 459.90,125.90 C461.90,125.67 463.90,125.53 465.90,125.50 C467.90,125.47 469.55,125.57 471.90,125.70 C474.25,125.83 476.70,125.85 480.00,126.30 C483.30,126.75 487.82,127.50 491.70,128.40 C495.58,129.30 499.42,130.67 503.30,131.70 C507.18,132.73 511.58,134.35 515.00,134.60 C518.42,134.85 520.40,133.73 523.80,133.20 C527.20,132.67 532.00,131.70 535.40,131.40 C538.80,131.10 540.80,131.17 544.20,131.40 C547.60,131.63 552.40,132.25 555.80,132.80 C559.20,133.35 563.13,134.38 564.60,134.70" fill="none" stroke="#0a14e6" stroke-width="1.4" stroke-linejoin="round"/>
<path d="M444.40,124.70 C445.38,123.70 448.32,120.70 450.30,118.70 C452.28,116.70 454.30,114.68 456.30,112.70 C458.30,110.72 460.30,108.78 462.30,106.80 C464.30,104.82 466.27,103.02 468.30,100.80 C470.33,98.58 472.55,95.78 474.50,93.50 C476.45,91.22 478.08,88.97 480.00,87.10 C481.92,85.23 484.00,83.68 486.00,82.30 C488.00,80.92 489.82,79.78 492.00,78.80 C494.18,77.82 496.72,76.95 499.10,76.40 C501.48,75.85 503.90,75.57 506.30,75.50 C508.70,75.43 511.30,75.82 513.50,76.00 C515.70,76.18 518.50,76.50 519.50,76.60" fill="none" stroke="#ff00ff" stroke-width="1.4" stroke-dasharray="4 2.2" stroke-linejoin="round"/>
<path d="M458.00,98.00 C459.00,96.50 462.00,92.33 464.00,89.00 C466.00,85.67 468.18,81.17 470.00,78.00 C471.82,74.83 473.40,72.53 474.90,70.00 C476.40,67.47 477.65,65.05 479.00,62.80 C480.35,60.55 481.58,58.47 483.00,56.50 C484.42,54.53 486.00,52.75 487.50,51.00 C489.00,49.25 490.58,47.47 492.00,46.00 C493.42,44.53 494.57,43.57 496.00,42.20 C497.43,40.83 499.10,39.03 500.60,37.80 C502.10,36.57 503.60,35.63 505.00,34.80 C506.40,33.97 506.73,33.63 509.00,32.80 C511.27,31.97 515.40,30.52 518.60,29.80 C521.80,29.08 525.00,28.63 528.20,28.50 C531.40,28.37 534.62,28.72 537.80,29.00 C540.98,29.28 544.93,30.03 547.30,30.20 C549.67,30.37 551.22,30.03 552.00,30.00" fill="none" stroke="#a01c24" stroke-width="1.4" stroke-dasharray="4 2.2" stroke-linejoin="round"/>
<rect x="551.8" y="18.3" width="39.70" height="33.50" fill="#fff" stroke="#bdbdbd" stroke-width="0.9"/>
<path d="M553.30,22.60 H568.30" stroke="#0a14e6" stroke-width="1.5"/>
<text x="569.60" y="24.70" font-size="6.2" fill="#333" style="stroke-width:0.08px">[0 0 ξ]</text>
<path d="M553.30,30.60 H568.30" stroke="#f01414" stroke-width="1.5"/>
<text x="569.60" y="32.70" font-size="6.2" fill="#333" style="stroke-width:0.08px">[ξ ξ ξ]</text>
<path d="M553.30,38.80 H568.30" stroke="#ff00ff" stroke-width="1.5" stroke-dasharray="5 2.6"/>
<text x="569.60" y="40.90" font-size="6.2" fill="#333" style="stroke-width:0.08px">[ξ ξ 2ξ]</text>
<path d="M553.30,46.80 H568.30" stroke="#a01c24" stroke-width="1.5" stroke-dasharray="5 2.6"/>
<text x="569.60" y="48.90" font-size="6.2" fill="#333" style="stroke-width:0.08px">[2ξ ξ 0]</text>
<rect x="430.5" y="14.2" width="164.50" height="120.80" fill="none" stroke="#bdbdbd" stroke-width="1.2"/>
<path d="M430.50,135 v-1.6 M430.50,14.2 v1.6" stroke="#6a6a6a" stroke-width="0.6"/>
<path d="M457.92,135 v-1.6 M457.92,14.2 v1.6" stroke="#6a6a6a" stroke-width="0.6"/>
<path d="M485.33,135 v-1.6 M485.33,14.2 v1.6" stroke="#6a6a6a" stroke-width="0.6"/>
<path d="M512.75,135 v-1.6 M512.75,14.2 v1.6" stroke="#6a6a6a" stroke-width="0.6"/>
<path d="M540.17,135 v-1.6 M540.17,14.2 v1.6" stroke="#6a6a6a" stroke-width="0.6"/>
<path d="M567.58,135 v-1.6 M567.58,14.2 v1.6" stroke="#6a6a6a" stroke-width="0.6"/>
<path d="M595.00,135 v-1.6 M595.00,14.2 v1.6" stroke="#6a6a6a" stroke-width="0.6"/>
<path d="M430.5,135.00 h1.6 M595,135.00 h-1.6" stroke="#6a6a6a" stroke-width="0.6"/>
<path d="M430.5,110.84 h1.6 M595,110.84 h-1.6" stroke="#6a6a6a" stroke-width="0.6"/>
<path d="M430.5,86.68 h1.6 M595,86.68 h-1.6" stroke="#6a6a6a" stroke-width="0.6"/>
<path d="M430.5,62.52 h1.6 M595,62.52 h-1.6" stroke="#6a6a6a" stroke-width="0.6"/>
<path d="M430.5,38.36 h1.6 M595,38.36 h-1.6" stroke="#6a6a6a" stroke-width="0.6"/>
<path d="M430.5,14.20 h1.6 M595,14.20 h-1.6" stroke="#6a6a6a" stroke-width="0.6"/>
<text x="430.50" y="145.80" font-size="7.3" text-anchor="middle" font-weight="normal" fill="#262626" >0</text>
<text x="457.92" y="145.80" font-size="7.3" text-anchor="middle" font-weight="normal" fill="#262626" >0.2</text>
<text x="485.33" y="145.80" font-size="7.3" text-anchor="middle" font-weight="normal" fill="#262626" >0.4</text>
<text x="512.75" y="145.80" font-size="7.3" text-anchor="middle" font-weight="normal" fill="#262626" >0.6</text>
<text x="540.17" y="145.80" font-size="7.3" text-anchor="middle" font-weight="normal" fill="#262626" >0.8</text>
<text x="567.58" y="145.80" font-size="7.3" text-anchor="middle" font-weight="normal" fill="#262626" >1</text>
<text x="595.00" y="145.80" font-size="7.3" text-anchor="middle" font-weight="normal" fill="#262626" >1.2</text>
<text x="427.30" y="138.10" font-size="7.3" text-anchor="end" fill="#262626">0</text>
<text x="427.30" y="113.94" font-size="7.3" text-anchor="end" fill="#262626">10</text>
<text x="427.30" y="89.78" font-size="7.3" text-anchor="end" fill="#262626">20</text>
<text x="427.30" y="65.62" font-size="7.3" text-anchor="end" fill="#262626">30</text>
<text x="427.30" y="41.46" font-size="7.3" text-anchor="end" fill="#262626">40</text>
<text x="427.30" y="17.30" font-size="7.3" text-anchor="end" fill="#262626">50</text>
<text x="512.75" y="156.60" font-size="8.1" text-anchor="middle" font-weight="normal" fill="#262626" >q (2π/a)</text>
<text x="0" y="0" font-size="8.4" text-anchor="middle" fill="#262626" transform="translate(415.60,74.60) rotate(-90)">Velocity (THz Angstrom)</text>
<text x="512.75" y="7.50" font-size="7.5" font-weight="bold" text-anchor="middle" fill="#000">1TO<tspan font-size="5.6" dy="4.4">x</tspan></text>
<text x="403.20" y="9.40" font-size="9.5" font-weight="bold" fill="#000">(c)</text>
<path d="M160.3,293.8h.9M89.3,275.3h.9M127.9,284.3h.9M111.0,286.6h.9M113.5,281.1h.9M134.0,284.0h.9M98.3,283.6h.9M122.4,280.9h.9M116.0,278.8h.9M84.7,273.8h.9M110.4,285.7h.9M172.9,296.2h.9M120.5,286.2h.9M152.8,287.5h.9M148.1,293.5h.9M87.5,272.8h.9M97.4,276.9h.9M100.7,279.5h.9M96.4,279.0h.9M92.5,276.1h.9M82.0,274.4h.9M147.5,285.3h.9M108.2,276.8h.9M129.1,287.9h.9M120.6,287.0h.9M113.5,277.5h.9M160.2,293.9h.9M131.7,288.1h.9M108.1,286.5h.9M158.8,291.8h.9M116.8,286.2h.9M147.2,291.6h.9M117.4,283.1h.9M123.8,280.2h.9M151.6,294.7h.9M167.3,295.9h.9M132.3,283.5h.9M115.9,279.1h.9M97.0,273.5h.9M143.4,289.7h.9M98.4,276.2h.9M99.1,276.9h.9M114.2,277.7h.9M117.4,283.5h.9M121.0,286.0h.9M96.0,281.6h.9M150.2,292.2h.9M106.8,275.2h.9M95.5,278.4h.9M152.6,290.4h.9M172.3,298.2h.9M170.7,295.5h.9M170.6,297.8h.9M127.2,288.4h.9M139.5,287.9h.9M103.5,284.8h.9M149.1,288.2h.9M146.4,293.5h.9M143.8,286.3h.9M153.4,290.4h.9M79.7,270.0h.9M165.5,296.9h.9M101.1,287.3h.9M137.8,291.6h.9M151.2,293.9h.9M121.4,280.9h.9M91.6,276.8h.9M145.5,292.6h.9M142.3,285.3h.9M155.1,292.6h.9M100.4,272.9h.9M94.0,280.2h.9M124.1,279.9h.9M106.4,276.9h.9M95.0,278.5h.9M90.4,276.6h.9M125.7,288.2h.9M141.8,292.1h.9M123.0,285.3h.9M141.4,289.8h.9M131.6,282.6h.9M170.1,295.8h.9M147.1,291.4h.9M163.3,292.5h.9M141.0,289.5h.9M147.8,293.0h.9M102.4,279.6h.9M178.3,300.2h.9M152.7,287.4h.9M101.5,279.1h.9M160.2,291.1h.9M145.0,291.2h.9M125.0,287.7h.9M124.4,286.6h.9M146.7,292.7h.9M125.9,283.1h.9M146.1,287.7h.9M137.2,289.0h.9M95.3,280.0h.9M99.9,276.4h.9M131.6,288.1h.9M135.6,285.7h.9M165.6,294.2h.9M139.5,284.6h.9M108.7,281.1h.9M145.8,285.6h.9M137.5,291.2h.9M127.9,288.6h.9M174.2,298.4h.9M84.9,277.5h.9M171.4,296.8h.9M145.0,292.2h.9M130.5,286.1h.9M153.5,294.6h.9M112.1,282.4h.9M122.4,282.9h.9M108.2,285.0h.9M170.9,297.4h.9M166.1,294.7h.9M111.0,277.7h.9M104.2,281.0h.9M149.4,286.1h.9M104.0,287.3h.9M105.7,280.6h.9M90.6,283.9h.9M107.1,279.7h.9M150.4,294.4h.9M86.6,272.3h.9M137.3,285.0h.9M101.1,274.6h.9M108.4,278.1h.9M154.6,288.5h.9M173.5,298.8h.9M163.6,291.7h.9M93.7,282.6h.9M108.5,284.2h.9M145.5,289.2h.9M98.0,276.0h.9M146.1,287.2h.9M88.3,272.3h.9M130.3,289.6h.9M140.2,285.2h.9M112.4,283.7h.9M128.6,281.6h.9M114.1,280.2h.9M172.6,296.3h.9M123.7,285.6h.9M122.4,286.9h.9M99.2,283.4h.9M108.6,286.8h.9M99.7,274.5h.9M98.6,283.8h.9M167.0,297.7h.9M117.0,282.1h.9M104.4,277.5h.9M131.8,286.1h.9M174.6,297.4h.9M120.4,285.7h.9M141.3,291.0h.9M171.1,294.5h.9M112.0,284.9h.9M97.5,287.7h.9M116.7,282.3h.9M178.0,300.5h.9M165.2,295.4h.9M88.0,275.0h.9M102.4,284.1h.9M80.1,270.8h.9M169.1,294.9h.9M136.8,284.5h.9M94.1,273.2h.9M126.9,288.1h.9M114.9,284.3h.9M99.7,278.8h.9M138.6,288.1h.9M85.3,271.8h.9M131.7,287.2h.9M119.3,280.9h.9M93.7,281.0h.9M99.2,286.3h.9M169.9,299.1h.9M82.8,271.2h.9M96.7,286.6h.9M140.0,290.0h.9M148.1,288.4h.9M111.5,283.0h.9M86.4,279.7h.9M166.0,297.3h.9M91.0,273.3h.9M101.6,276.9h.9M113.0,283.4h.9M112.4,284.7h.9M102.3,278.5h.9M138.1,291.0h.9M103.4,279.6h.9M152.3,294.0h.9M118.5,281.5h.9M110.4,277.4h.9M94.8,276.5h.9M112.6,284.6h.9M124.8,285.9h.9M99.5,279.4h.9M146.2,285.3h.9M87.1,273.6h.9M98.5,281.1h.9M87.6,274.5h.9M128.7,285.7h.9M110.1,275.8h.9M132.4,287.7h.9M141.1,291.5h.9M91.1,279.5h.9M134.4,285.7h.9M111.5,281.0h.9M90.3,274.7h.9M83.2,276.1h.9M98.4,272.7h.9M87.9,271.2h.9M131.5,285.9h.9M87.4,280.1h.9M146.6,290.7h.9M157.0,290.3h.9M113.2,282.7h.9M131.9,286.0h.9M118.6,286.2h.9M170.0,295.1h.9M150.7,291.5h.9M98.4,275.7h.9M127.7,286.8h.9M90.2,282.8h.9M123.3,288.3h.9M170.3,296.1h.9M92.3,281.5h.9M116.8,279.9h.9M145.6,290.4h.9M121.9,284.5h.9M91.2,278.4h.9M139.5,290.8h.9M87.6,280.1h.9M110.0,282.9h.9M125.1,288.6h.9M92.9,274.7h.9M119.9,283.4h.9M150.0,287.9h.9M152.7,288.7h.9M173.8,295.7h.9M154.0,293.9h.9M157.5,292.3h.9M171.7,298.9h.9M103.7,284.1h.9M122.0,284.6h.9M123.3,287.9h.9M93.2,272.4h.9M102.7,274.0h.9M147.2,286.0h.9M117.7,279.6h.9M85.2,274.1h.9M83.2,274.1h.9M86.2,272.6h.9M98.6,274.5h.9M88.5,281.8h.9M98.7,283.0h.9M108.5,277.4h.9M180.5,300.7h.9M94.6,280.2h.9M135.6,284.4h.9M138.6,291.1h.9M124.7,281.4h.9M163.0,292.1h.9M128.4,282.0h.9M89.5,278.7h.9M130.3,288.2h.9M89.8,273.6h.9M83.5,270.8h.9M110.4,275.6h.9M143.5,290.2h.9M97.6,272.7h.9M110.4,280.7h.9M148.9,289.7h.9M96.1,277.9h.9M175.4,296.4h.9M122.9,284.9h.9M100.9,281.2h.9M120.0,282.6h.9M143.3,291.0h.9M108.3,287.2h.9M162.1,293.9h.9M132.4,288.4h.9M130.8,285.9h.9M120.4,285.7h.9M146.5,292.5h.9M139.4,287.9h.9M140.4,290.3h.9M118.4,281.9h.9M164.2,292.0h.9M92.4,281.2h.9M161.5,292.2h.9M87.6,277.0h.9M104.6,275.5h.9M136.5,289.6h.9M142.0,288.0h.9M167.9,298.7h.9M85.0,271.6h.9M94.0,280.3h.9M147.3,293.6h.9M101.2,279.4h.9M113.6,286.4h.9M166.4,298.3h.9M110.3,277.0h.9M115.3,286.1h.9M98.4,286.3h.9M180.0,299.5h.9M104.4,277.9h.9M112.1,283.7h.9M173.0,296.1h.9M88.1,271.7h.9M113.5,277.1h.9M124.9,288.4h.9M125.3,285.1h.9M99.4,287.8h.9M124.9,283.5h.9M90.8,284.1h.9M139.7,288.1h.9M163.7,293.0h.9M93.1,280.3h.9M108.3,286.0h.9M175.1,298.8h.9M147.2,292.0h.9M162.3,293.6h.9M136.0,289.4h.9M117.8,286.3h.9M135.5,285.7h.9M157.6,295.7h.9M166.6,292.9h.9M111.3,284.7h.9M110.3,278.9h.9M170.7,294.6h.9M145.9,292.2h.9M167.2,298.3h.9M176.5,300.2h.9M170.9,296.2h.9M94.8,286.0h.9M96.5,287.2h.9M94.7,286.1h.9M85.5,275.1h.9M108.2,287.2h.9M89.5,272.5h.9M100.2,276.4h.9M134.3,287.5h.9M109.1,277.6h.9M165.5,294.8h.9M97.3,274.8h.9M87.4,275.6h.9M80.5,272.4h.9M98.3,279.2h.9M100.1,279.8h.9M149.7,294.1h.9M131.6,289.5h.9M96.5,273.5h.9M146.0,288.5h.9M98.0,285.2h.9M111.8,282.6h.9M110.3,278.8h.9M80.6,271.1h.9M106.0,285.7h.9M88.9,271.0h.9M87.6,276.9h.9M119.4,284.7h.9M91.8,280.6h.9M140.7,292.1h.9M103.5,278.2h.9M89.7,282.5h.9M146.0,291.7h.9M123.3,286.2h.9M102.0,286.0h.9M174.0,297.2h.9M77.1,269.1h.9M92.7,278.0h.9M102.7,282.2h.9M92.5,282.5h.9M93.9,276.5h.9M134.0,288.6h.9M100.5,276.3h.9M174.7,300.9h.9M94.6,282.7h.9M178.6,301.5h.9M116.8,280.1h.9M148.7,293.6h.9M109.1,280.0h.9M145.4,292.6h.9M110.3,286.2h.9M92.9,284.2h.9M99.7,280.9h.9M98.8,274.0h.9M127.5,289.1h.9M97.3,285.2h.9M111.5,282.5h.9M160.3,293.7h.9M173.5,298.1h.9M150.1,286.9h.9M138.4,286.0h.9M125.9,283.8h.9M103.9,284.8h.9M131.4,283.2h.9M170.1,294.2h.9M143.9,289.8h.9M149.8,289.4h.9M96.2,282.1h.9M154.4,293.7h.9M138.1,291.3h.9M171.9,296.7h.9M127.7,281.4h.9M114.4,281.1h.9M179.2,298.8h.9M153.8,293.5h.9M104.1,278.1h.9M114.0,278.3h.9M147.4,290.0h.9M144.8,287.5h.9M96.8,284.2h.9M148.5,290.3h.9M93.0,273.8h.9M121.5,284.9h.9M81.1,273.6h.9M139.1,285.1h.9M128.8,285.3h.9M123.5,283.9h.9M100.6,276.7h.9M106.6,286.3h.9M130.4,285.1h.9M157.0,289.5h.9M111.3,281.3h.9M86.8,272.7h.9M159.9,291.9h.9M168.6,294.2h.9M112.7,277.0h.9M104.3,282.0h.9M151.3,293.8h.9M112.3,282.4h.9M137.8,285.4h.9M105.2,276.8h.9M111.5,283.6h.9M157.7,294.9h.9M126.0,285.7h.9M96.6,273.5h.9M163.8,292.8h.9M98.7,286.5h.9M82.5,272.3h.9M107.2,279.5h.9M156.4,292.2h.9M101.0,286.0h.9M107.0,278.6h.9M108.6,277.5h.9M78.9,270.4h.9M82.4,270.9h.9M91.1,272.0h.9M146.0,285.9h.9M114.4,286.1h.9M143.8,288.8h.9M150.9,294.2h.9M176.4,301.2h.9M95.3,283.1h.9M159.1,290.6h.9M91.9,280.9h.9M94.1,284.8h.9M176.7,297.0h.9M145.5,288.5h.9M94.0,275.3h.9M110.4,282.5h.9M152.6,294.6h.9M130.2,286.3h.9M92.9,280.1h.9M127.4,283.3h.9M117.5,286.1h.9M118.3,279.9h.9M179.3,298.4h.9M164.2,291.7h.9M129.6,289.3h.9M141.8,284.9h.9M134.0,288.4h.9M107.0,276.1h.9M97.4,277.2h.9M91.4,275.2h.9M142.6,284.7h.9M110.7,285.7h.9M108.6,280.5h.9M88.6,275.2h.9M119.5,284.7h.9M141.2,286.2h.9M133.7,285.2h.9M78.2,269.4h.9M131.1,289.8h.9M162.3,295.6h.9M153.0,288.4h.9M107.3,283.9h.9M99.4,277.3h.9M98.5,275.0h.9M119.5,280.6h.9M109.1,276.6h.9M95.8,275.3h.9M100.2,279.1h.9M87.1,277.0h.9M171.8,298.6h.9M136.3,288.2h.9M158.1,293.9h.9M126.1,280.8h.9M83.3,271.8h.9M138.6,285.6h.9M146.6,285.5h.9M177.8,301.3h.9M133.2,288.9h.9M108.9,278.8h.9M134.8,287.9h.9M90.3,276.2h.9M108.0,286.0h.9M136.4,286.2h.9M128.6,284.8h.9M90.3,277.2h.9M138.8,285.7h.9M113.1,284.4h.9M84.1,272.0h.9M108.1,276.4h.9M162.4,296.5h.9M135.1,288.5h.9M96.4,287.7h.9M131.1,289.1h.9M140.8,288.8h.9M121.0,282.7h.9M124.1,286.8h.9M171.5,300.0h.9M112.0,280.9h.9M129.0,286.5h.9M116.6,286.8h.9M101.4,283.9h.9M146.3,291.5h.9M96.5,279.8h.9M108.2,278.7h.9M108.3,280.9h.9M160.8,296.4h.9M165.7,293.5h.9M93.5,280.3h.9M173.7,299.9h.9M137.3,283.8h.9M82.2,272.9h.9M126.4,286.6h.9M157.8,295.5h.9M113.6,279.7h.9M94.3,285.6h.9M179.5,300.3h.9M115.8,281.6h.9M157.2,294.2h.9M155.1,291.0h.9M99.4,275.9h.9M125.1,285.1h.9M140.7,287.3h.9M167.8,294.0h.9M93.8,283.3h.9M98.0,286.4h.9M91.9,273.1h.9M154.5,290.6h.9M111.0,281.7h.9M80.6,271.6h.9M125.0,286.0h.9M149.0,292.6h.9M90.1,280.8h.9M108.1,275.0h.9M110.8,286.7h.9M110.1,280.7h.9M82.3,270.4h.9M102.1,287.1h.9M148.2,293.2h.9M91.4,271.5h.9M108.1,276.1h.9M158.6,291.6h.9M133.2,284.8h.9M105.9,284.9h.9M169.0,296.1h.9M148.3,291.7h.9M92.1,276.0h.9M127.5,287.4h.9M101.2,282.4h.9M125.5,282.5h.9M160.3,294.5h.9M90.3,279.5h.9M144.7,289.2h.9M96.5,277.4h.9M117.1,280.2h.9M143.6,286.3h.9M176.0,299.5h.9M173.7,297.3h.9M93.1,280.6h.9M107.3,285.4h.9M137.5,287.1h.9M83.8,271.0h.9M137.3,285.6h.9M101.1,275.5h.9M153.3,293.3h.9M139.9,292.1h.9M142.9,290.8h.9M117.8,278.1h.9M130.9,289.0h.9M178.9,298.6h.9M170.0,297.0h.9M113.3,278.2h.9M106.2,277.4h.9M117.1,282.5h.9M157.0,295.5h.9M138.4,284.2h.9M147.9,290.2h.9M95.1,276.7h.9M169.2,294.4h.9M115.9,279.9h.9M97.9,283.7h.9M157.5,293.1h.9M80.6,272.2h.9M164.3,293.2h.9M130.6,283.0h.9M92.3,281.5h.9M161.0,291.7h.9M147.6,292.5h.9M84.7,275.9h.9M154.8,289.5h.9M131.0,286.9h.9M107.7,274.8h.9M158.1,290.6h.9M101.7,276.5h.9M153.7,293.5h.9M152.1,288.9h.9M100.6,278.3h.9M101.2,275.4h.9M89.3,280.9h.9M111.9,279.6h.9M158.8,291.9h.9M97.3,284.6h.9M111.9,285.7h.9M89.1,274.1h.9M76.9,268.7h.9M132.7,284.3h.9M143.0,286.5h.9M95.2,279.5h.9M172.5,295.2h.9M105.5,281.4h.9M84.4,277.1h.9M124.1,284.1h.9M89.1,280.2h.9M128.7,289.2h.9M94.5,278.5h.9M134.0,285.7h.9M111.3,277.8h.9M90.6,282.1h.9M84.3,275.7h.9M123.9,285.3h.9M79.6,272.2h.9M85.6,272.7h.9M156.1,293.7h.9M120.6,287.1h.9M106.1,277.8h.9M77.3,268.8h.9M84.7,271.1h.9M94.7,276.3h.9M112.0,276.0h.9M128.1,283.9h.9M104.1,282.8h.9M97.1,286.3h.9M93.2,276.7h.9M100.8,286.4h.9M112.5,279.2h.9M115.1,280.1h.9M119.8,280.2h.9M86.2,273.0h.9M104.5,275.1h.9M161.2,292.8h.9M99.2,287.9h.9M114.3,281.7h.9M79.4,270.2h.9M86.7,277.7h.9M93.5,279.5h.9M142.7,284.7h.9M136.8,286.8h.9M128.2,287.8h.9M117.8,286.6h.9M135.3,289.7h.9M109.2,275.8h.9M144.7,286.8h.9M102.6,279.2h.9M121.9,279.5h.9M100.1,277.4h.9M118.5,285.4h.9M180.5,300.4h.9M93.1,272.2h.9M171.0,299.9h.9M127.9,282.7h.9M80.5,270.4h.9M119.0,279.4h.9M145.4,291.1h.9M175.7,298.1h.9M151.2,289.2h.9M99.0,279.8h.9M107.1,274.5h.9M113.6,280.8h.9M88.9,277.5h.9" stroke="#3f8ed2" stroke-width="0.9" opacity="0.85" fill="none"/>
<path d="M67.1,259.6h.9M71.5,262.9h.9M66.3,258.7h.9M68.8,261.2h.9M69.5,262.8h.9M74.0,266.8h.9M67.4,262.1h.9M70.5,264.1h.9M75.0,265.4h.9M71.8,263.4h.9M67.0,259.6h.9M69.0,263.1h.9M70.4,263.2h.9M73.9,266.1h.9M73.4,264.3h.9M68.2,261.5h.9M68.6,263.3h.9M68.0,258.6h.9M69.8,262.0h.9M75.2,267.2h.9M67.3,260.3h.9M71.6,262.4h.9M71.5,261.8h.9M69.7,260.7h.9M70.6,261.3h.9" stroke="#4a96d6" stroke-width="0.9" opacity="0.85" fill="none"/>
<path d="M144.2,296.2h.9M154.7,303.6h.9M157.8,301.6h.9M155.6,301.7h.9M149.8,303.8h.9M153.0,301.0h.9M155.6,298.9h.9M150.4,298.2h.9M156.3,304.7h.9M152.8,304.5h.9M147.7,303.1h.9M144.1,298.7h.9M150.4,297.9h.9M160.2,303.1h.9M142.4,297.8h.9M158.2,300.6h.9M151.3,297.6h.9M156.8,302.8h.9M152.1,297.1h.9M152.2,303.5h.9M145.1,298.4h.9M157.6,303.7h.9M159.5,301.9h.9M149.2,300.6h.9M146.4,300.6h.9M153.6,297.7h.9M154.3,300.5h.9M158.7,303.3h.9M152.2,298.0h.9M145.8,297.7h.9" stroke="#4a96d6" stroke-width="0.9" opacity="0.85" fill="none"/>
<path d="M35.80,211.60 C36.43,212.90 38.17,216.50 39.60,219.40 C41.03,222.30 42.80,226.00 44.40,229.00 C46.00,232.00 47.77,234.73 49.20,237.40 C50.63,240.07 51.32,242.32 53.00,245.00 C54.68,247.68 57.22,251.05 59.30,253.50 C61.38,255.95 63.55,257.70 65.50,259.70 C67.45,261.70 69.25,263.58 71.00,265.50 C72.75,267.42 73.67,268.78 76.00,271.20 C78.33,273.62 82.68,277.87 85.00,280.00 C87.32,282.13 88.08,282.67 89.90,284.00 C91.72,285.33 93.90,287.40 95.90,288.00 C97.90,288.60 99.90,287.90 101.90,287.60 C103.90,287.30 105.90,286.55 107.90,286.20 C109.90,285.85 111.88,285.50 113.90,285.50 C115.92,285.50 117.12,285.58 120.00,286.20 C122.88,286.82 128.00,288.25 131.20,289.20 C134.40,290.15 136.52,291.22 139.20,291.90 C141.88,292.58 144.60,292.85 147.30,293.30 C150.00,293.75 152.70,294.27 155.40,294.60 C158.10,294.93 161.27,295.07 163.50,295.30 C165.73,295.53 167.92,295.88 168.80,296.00" fill="none" stroke="#0a14e6" stroke-width="1.4" stroke-linejoin="round"/>
<path d="M35.00,221.80 C35.37,222.90 36.43,226.40 37.20,228.40 C37.97,230.40 38.60,231.90 39.60,233.80 C40.60,235.70 41.80,237.73 43.20,239.80 C44.60,241.87 46.03,243.50 48.00,246.20 C49.97,248.90 52.08,253.32 55.00,256.00 C57.92,258.68 62.70,260.55 65.50,262.30 C68.30,264.05 69.18,265.18 71.80,266.50 C74.42,267.82 78.18,269.37 81.20,270.20 C84.22,271.03 86.95,271.07 89.90,271.50 C92.85,271.93 95.90,272.25 98.90,272.80 C101.90,273.35 104.90,274.02 107.90,274.80 C110.90,275.58 114.37,276.78 116.90,277.50 C119.43,278.22 120.72,278.38 123.10,279.10 C125.48,279.82 128.52,280.93 131.20,281.80 C133.88,282.67 136.73,283.85 139.20,284.30 C141.67,284.75 144.87,284.47 146.00,284.50" fill="none" stroke="#f01414" stroke-width="1.4" stroke-linejoin="round"/>
<path d="M44.40,238.00 C45.00,238.50 46.73,239.75 48.00,241.00 C49.27,242.25 50.47,243.75 52.00,245.50 C53.53,247.25 54.93,249.17 57.20,251.50 C59.47,253.83 62.82,256.92 65.60,259.50 C68.38,262.08 71.58,264.92 73.90,267.00 C76.22,269.08 76.83,270.25 79.50,272.00 C82.17,273.75 86.67,275.90 89.90,277.50 C93.13,279.10 95.90,280.20 98.90,281.60 C101.90,283.00 104.90,284.58 107.90,285.90 C110.90,287.22 114.37,288.50 116.90,289.50 C119.43,290.50 120.72,291.17 123.10,291.90 C125.48,292.63 128.52,293.33 131.20,293.90 C133.88,294.47 136.40,294.73 139.20,295.30 C142.00,295.87 146.53,296.97 148.00,297.30" fill="none" stroke="#ff00ff" stroke-width="1.4" stroke-dasharray="4 2.2" stroke-linejoin="round"/>
<path d="M45.00,238.00 C46.00,239.08 48.92,242.33 51.00,244.50 C53.08,246.67 55.00,248.58 57.50,251.00 C60.00,253.42 63.25,256.42 66.00,259.00 C68.75,261.58 71.75,264.53 74.00,266.50 C76.25,268.47 76.85,269.38 79.50,270.80 C82.15,272.22 86.67,273.80 89.90,275.00 C93.13,276.20 95.90,276.93 98.90,278.00 C101.90,279.07 105.22,280.48 107.90,281.40 C110.58,282.32 111.15,282.32 115.00,283.50 C118.85,284.68 126.00,287.00 131.00,288.50 C136.00,290.00 140.93,291.25 145.00,292.50 C149.07,293.75 151.88,295.08 155.40,296.00 C158.92,296.92 162.28,297.12 166.10,298.00 C169.92,298.88 176.27,300.75 178.30,301.30" fill="none" stroke="#a01c24" stroke-width="1.4" stroke-dasharray="4 2.2" stroke-linejoin="round"/>
<rect x="151.7" y="191.1" width="39.10" height="33.00" fill="#fff" stroke="#bdbdbd" stroke-width="0.9"/>
<path d="M153.20,195.50 H168.20" stroke="#0a14e6" stroke-width="1.5"/>
<text x="169.50" y="197.60" font-size="6.2" fill="#333" style="stroke-width:0.08px">[0 0 ξ]</text>
<path d="M153.20,203.90 H168.20" stroke="#f01414" stroke-width="1.5"/>
<text x="169.50" y="206.00" font-size="6.2" fill="#333" style="stroke-width:0.08px">[ξ ξ ξ]</text>
<path d="M153.20,212.00 H168.20" stroke="#ff00ff" stroke-width="1.5" stroke-dasharray="5 2.6"/>
<text x="169.50" y="214.10" font-size="6.2" fill="#333" style="stroke-width:0.08px">[ξ ξ 2ξ]</text>
<path d="M153.20,220.30 H168.20" stroke="#a01c24" stroke-width="1.5" stroke-dasharray="5 2.6"/>
<text x="169.50" y="222.40" font-size="6.2" fill="#333" style="stroke-width:0.08px">[2ξ ξ 0]</text>
<rect x="29.6" y="187.4" width="164.50" height="120.40" fill="none" stroke="#bdbdbd" stroke-width="1.2"/>
<path d="M29.60,307.8 v-1.6 M29.60,187.4 v1.6" stroke="#6a6a6a" stroke-width="0.6"/>
<path d="M57.02,307.8 v-1.6 M57.02,187.4 v1.6" stroke="#6a6a6a" stroke-width="0.6"/>
<path d="M84.43,307.8 v-1.6 M84.43,187.4 v1.6" stroke="#6a6a6a" stroke-width="0.6"/>
<path d="M111.85,307.8 v-1.6 M111.85,187.4 v1.6" stroke="#6a6a6a" stroke-width="0.6"/>
<path d="M139.27,307.8 v-1.6 M139.27,187.4 v1.6" stroke="#6a6a6a" stroke-width="0.6"/>
<path d="M166.68,307.8 v-1.6 M166.68,187.4 v1.6" stroke="#6a6a6a" stroke-width="0.6"/>
<path d="M194.10,307.8 v-1.6 M194.10,187.4 v1.6" stroke="#6a6a6a" stroke-width="0.6"/>
<path d="M29.6,285.50 h1.6 M194.1,285.50 h-1.6" stroke="#6a6a6a" stroke-width="0.6"/>
<path d="M29.6,236.10 h1.6 M194.1,236.10 h-1.6" stroke="#6a6a6a" stroke-width="0.6"/>
<path d="M29.6,186.70 h1.6 M194.1,186.70 h-1.6" stroke="#6a6a6a" stroke-width="0.6"/>
<path d="M29.6,305.16 h1 M194.1,305.16 h-1" stroke="#6a6a6a" stroke-width="0.5"/>
<path d="M29.6,300.37 h1 M194.1,300.37 h-1" stroke="#6a6a6a" stroke-width="0.5"/>
<path d="M29.6,296.46 h1 M194.1,296.46 h-1" stroke="#6a6a6a" stroke-width="0.5"/>
<path d="M29.6,293.15 h1 M194.1,293.15 h-1" stroke="#6a6a6a" stroke-width="0.5"/>
<path d="M29.6,290.29 h1 M194.1,290.29 h-1" stroke="#6a6a6a" stroke-width="0.5"/>
<path d="M29.6,287.76 h1 M194.1,287.76 h-1" stroke="#6a6a6a" stroke-width="0.5"/>
<path d="M29.6,270.63 h1 M194.1,270.63 h-1" stroke="#6a6a6a" stroke-width="0.5"/>
<path d="M29.6,261.93 h1 M194.1,261.93 h-1" stroke="#6a6a6a" stroke-width="0.5"/>
<path d="M29.6,255.76 h1 M194.1,255.76 h-1" stroke="#6a6a6a" stroke-width="0.5"/>
<path d="M29.6,250.97 h1 M194.1,250.97 h-1" stroke="#6a6a6a" stroke-width="0.5"/>
<path d="M29.6,247.06 h1 M194.1,247.06 h-1" stroke="#6a6a6a" stroke-width="0.5"/>
<path d="M29.6,243.75 h1 M194.1,243.75 h-1" stroke="#6a6a6a" stroke-width="0.5"/>
<path d="M29.6,240.89 h1 M194.1,240.89 h-1" stroke="#6a6a6a" stroke-width="0.5"/>
<path d="M29.6,238.36 h1 M194.1,238.36 h-1" stroke="#6a6a6a" stroke-width="0.5"/>
<path d="M29.6,221.23 h1 M194.1,221.23 h-1" stroke="#6a6a6a" stroke-width="0.5"/>
<path d="M29.6,212.53 h1 M194.1,212.53 h-1" stroke="#6a6a6a" stroke-width="0.5"/>
<path d="M29.6,206.36 h1 M194.1,206.36 h-1" stroke="#6a6a6a" stroke-width="0.5"/>
<path d="M29.6,201.57 h1 M194.1,201.57 h-1" stroke="#6a6a6a" stroke-width="0.5"/>
<path d="M29.6,197.66 h1 M194.1,197.66 h-1" stroke="#6a6a6a" stroke-width="0.5"/>
<path d="M29.6,194.35 h1 M194.1,194.35 h-1" stroke="#6a6a6a" stroke-width="0.5"/>
<path d="M29.6,191.49 h1 M194.1,191.49 h-1" stroke="#6a6a6a" stroke-width="0.5"/>
<path d="M29.6,188.96 h1 M194.1,188.96 h-1" stroke="#6a6a6a" stroke-width="0.5"/>
<text x="29.60" y="318.70" font-size="7.3" text-anchor="middle" font-weight="normal" fill="#262626" >0</text>
<text x="57.02" y="318.70" font-size="7.3" text-anchor="middle" font-weight="normal" fill="#262626" >0.2</text>
<text x="84.43" y="318.70" font-size="7.3" text-anchor="middle" font-weight="normal" fill="#262626" >0.4</text>
<text x="111.85" y="318.70" font-size="7.3" text-anchor="middle" font-weight="normal" fill="#262626" >0.6</text>
<text x="139.27" y="318.70" font-size="7.3" text-anchor="middle" font-weight="normal" fill="#262626" >0.8</text>
<text x="166.68" y="318.70" font-size="7.3" text-anchor="middle" font-weight="normal" fill="#262626" >1</text>
<text x="194.10" y="318.70" font-size="7.3" text-anchor="middle" font-weight="normal" fill="#262626" >1.2</text>
<text x="111.85" y="329.60" font-size="8.1" text-anchor="middle" font-weight="normal" fill="#262626" >q (2π/a)</text>
<text x="0" y="0" font-size="8.3" text-anchor="middle" fill="#262626" transform="translate(11.40,247.60) rotate(-90)">3-Phonon Lifetime (ps)</text>
<text x="111.85" y="180.70" font-size="7.5" font-weight="bold" text-anchor="middle" fill="#000">TA<tspan font-size="5.6" dy="4.4">x</tspan></text>
<text x="2.40" y="179.20" font-size="9.5" font-weight="bold" fill="#000">(d)</text>
<path d="M358.5,300.6h.9M260.9,254.9h.9M331.1,294.3h.9M270.7,264.5h.9M261.3,263.2h.9M300.6,274.0h.9M366.5,292.2h.9M279.3,268.6h.9M318.0,291.4h.9M284.5,271.1h.9M356.0,298.3h.9M370.3,292.4h.9M263.6,261.2h.9M275.2,264.8h.9M301.1,275.8h.9M283.7,271.3h.9M258.3,253.0h.9M271.0,268.4h.9M300.8,276.4h.9M264.7,266.6h.9M372.1,296.5h.9M354.7,297.8h.9M284.3,265.2h.9M272.0,258.3h.9M257.9,259.1h.9M286.8,265.8h.9M323.6,287.0h.9M284.2,267.3h.9M305.9,279.7h.9M349.5,291.4h.9M280.2,265.1h.9M257.1,260.4h.9M299.1,274.6h.9M294.0,268.8h.9M267.6,261.5h.9M329.4,295.6h.9M280.3,266.4h.9M270.7,269.9h.9M345.6,295.9h.9M279.7,270.6h.9M298.4,281.1h.9M316.4,290.4h.9M299.4,275.3h.9M352.2,294.0h.9M279.2,272.8h.9M362.9,301.3h.9M331.4,296.3h.9M377.0,299.6h.9M308.7,284.9h.9M368.1,298.4h.9M323.0,287.7h.9M309.0,288.1h.9M367.3,300.7h.9M267.1,263.4h.9M267.3,263.6h.9M354.2,297.3h.9M327.8,289.4h.9M309.6,284.4h.9M315.5,286.7h.9M282.1,267.0h.9M349.5,292.4h.9M286.9,271.9h.9M321.7,288.9h.9M289.7,275.3h.9M268.9,255.8h.9M312.7,284.5h.9M273.2,269.8h.9M296.8,275.4h.9M323.7,293.5h.9M326.6,292.6h.9M255.8,255.5h.9M310.7,284.0h.9M326.1,290.8h.9M380.1,296.2h.9M303.5,281.5h.9M296.8,280.6h.9M258.5,260.0h.9M352.6,300.7h.9M284.5,271.9h.9M294.0,276.6h.9M366.1,299.6h.9M352.8,292.7h.9M308.3,279.4h.9M354.9,292.1h.9M313.8,287.5h.9M259.5,255.3h.9M361.6,299.8h.9M329.3,294.8h.9M368.0,292.4h.9M315.6,286.3h.9M278.1,268.1h.9M319.0,293.4h.9M268.8,263.4h.9M345.8,296.4h.9M277.8,262.9h.9M364.8,295.9h.9M352.9,293.2h.9M294.4,272.7h.9M258.9,253.9h.9M359.4,297.9h.9M305.2,279.5h.9M347.8,298.5h.9M266.0,266.0h.9M331.6,294.3h.9M328.7,294.6h.9M270.3,269.9h.9M376.9,294.6h.9M288.1,275.6h.9M363.4,298.6h.9M329.4,293.0h.9M339.1,290.9h.9M274.0,257.4h.9M324.1,285.6h.9M285.2,263.8h.9M283.4,263.3h.9M294.6,271.5h.9M282.8,265.3h.9M343.6,298.3h.9M266.4,265.6h.9M329.6,294.7h.9M302.1,276.0h.9M319.8,289.5h.9M270.4,263.3h.9M362.0,293.3h.9M260.4,257.7h.9M367.0,295.2h.9M296.9,280.0h.9M263.9,261.8h.9M307.9,283.0h.9M327.4,287.5h.9M296.6,281.1h.9M317.2,292.0h.9M354.7,292.3h.9M265.4,267.9h.9M347.7,296.5h.9M270.8,260.1h.9M293.8,274.7h.9M377.0,297.3h.9M272.8,264.7h.9M256.3,261.7h.9M323.0,290.6h.9M274.2,269.7h.9M272.5,270.7h.9M269.9,263.6h.9M335.6,292.2h.9M327.5,289.1h.9M290.0,274.4h.9M304.6,277.0h.9M304.3,278.6h.9M368.5,297.5h.9M355.9,299.1h.9M291.6,271.1h.9M342.8,291.9h.9M354.3,291.6h.9M363.6,296.9h.9M279.8,265.7h.9M313.5,289.9h.9M275.2,269.7h.9M260.8,255.4h.9M348.3,296.6h.9M294.3,272.9h.9M284.0,262.2h.9M378.7,294.8h.9M300.3,277.0h.9M295.4,272.9h.9M358.4,300.8h.9M294.9,279.4h.9M353.3,294.2h.9M337.3,296.6h.9M320.3,286.1h.9M259.4,258.9h.9M280.9,269.7h.9M257.8,251.9h.9M270.7,262.4h.9M299.7,281.8h.9M350.4,292.7h.9M270.7,265.9h.9M360.7,294.2h.9M258.9,255.5h.9M312.8,290.3h.9M256.7,255.2h.9M339.7,297.3h.9M298.2,272.6h.9M275.2,258.7h.9M273.8,264.5h.9M330.2,295.9h.9M273.5,266.5h.9M343.6,293.3h.9M345.9,298.9h.9M300.2,279.6h.9M284.1,269.4h.9M333.6,290.0h.9M365.1,293.7h.9M283.0,268.8h.9M341.3,297.9h.9M368.1,299.9h.9M275.0,259.8h.9M377.1,299.3h.9M369.2,293.5h.9M291.3,277.4h.9M321.3,291.4h.9M306.6,286.1h.9M286.8,266.5h.9M273.5,262.7h.9M272.6,267.5h.9M267.5,256.4h.9M263.2,268.3h.9M267.2,259.3h.9M321.4,293.5h.9M269.8,268.6h.9M291.9,269.1h.9M376.5,294.8h.9M258.9,264.8h.9M302.2,276.0h.9M373.7,293.5h.9M328.2,290.7h.9M324.2,290.1h.9M267.5,268.3h.9M363.0,293.8h.9M280.8,269.3h.9M255.7,259.0h.9M365.1,293.1h.9M315.0,284.1h.9M341.0,294.6h.9M317.7,283.8h.9M268.0,264.3h.9M370.7,293.0h.9M328.6,290.8h.9M271.0,260.5h.9M288.1,275.7h.9M340.3,297.1h.9M372.0,299.3h.9M305.1,278.8h.9M255.3,254.7h.9M364.1,295.3h.9M325.6,287.0h.9M299.9,282.1h.9M294.4,280.1h.9M372.5,292.7h.9M313.0,285.9h.9M347.1,298.4h.9M269.9,268.8h.9M302.8,282.9h.9M373.9,298.6h.9M278.8,265.0h.9M334.1,292.8h.9M301.1,275.7h.9M310.4,285.3h.9M274.5,262.4h.9M339.2,293.3h.9M319.7,286.0h.9M363.2,294.4h.9M273.3,264.3h.9M319.1,293.2h.9M305.0,281.9h.9M342.8,292.2h.9M317.1,292.0h.9M359.4,299.7h.9M298.9,279.9h.9M330.9,292.6h.9M323.8,294.6h.9M257.4,261.3h.9M270.7,263.1h.9M284.4,267.1h.9M345.9,299.4h.9M276.0,260.3h.9M307.6,279.5h.9M325.9,291.5h.9M333.0,290.4h.9M262.8,253.6h.9M357.2,292.2h.9M293.2,269.1h.9M328.3,289.6h.9M299.3,275.5h.9M290.0,268.9h.9M291.1,276.5h.9M273.5,263.5h.9M372.7,293.5h.9M270.0,268.4h.9M331.0,291.9h.9M280.0,263.6h.9M369.0,293.9h.9M299.4,275.8h.9M309.5,286.6h.9M323.6,288.8h.9M291.2,270.9h.9M256.8,261.3h.9M277.0,261.3h.9M334.4,292.8h.9M275.5,258.7h.9M338.9,298.5h.9M263.6,268.4h.9M331.8,292.6h.9M311.3,281.7h.9M285.4,263.6h.9M282.4,271.7h.9M263.6,262.0h.9M281.1,262.4h.9M256.7,258.9h.9M294.9,275.4h.9M272.0,256.7h.9M289.9,276.1h.9M282.6,270.0h.9M264.0,261.4h.9M305.9,278.6h.9M273.7,268.9h.9M338.2,293.7h.9M255.4,260.7h.9M279.7,264.4h.9M370.1,294.9h.9M285.8,270.5h.9M344.6,299.2h.9M256.5,259.2h.9M307.6,281.4h.9M301.0,274.7h.9M324.2,294.6h.9M350.2,291.8h.9M293.9,275.0h.9M320.3,287.0h.9M349.6,300.8h.9M299.9,279.6h.9M276.5,270.4h.9M332.9,288.7h.9M299.8,283.2h.9M324.0,287.6h.9M254.8,258.4h.9M286.0,268.5h.9M263.6,262.2h.9M257.3,262.7h.9M334.1,296.7h.9M286.2,264.0h.9M341.1,293.3h.9M266.2,259.3h.9M297.6,275.8h.9M351.1,292.7h.9M366.8,297.4h.9M323.3,287.6h.9M366.5,297.3h.9M328.8,291.7h.9M316.6,288.7h.9M267.1,256.7h.9M273.1,261.2h.9M265.4,260.6h.9M315.9,281.9h.9M325.8,288.8h.9M298.3,278.4h.9M280.2,266.1h.9M381.7,294.2h.9M274.2,269.5h.9M279.6,272.5h.9M359.7,296.2h.9M279.6,271.4h.9M294.8,277.6h.9M348.6,300.2h.9M364.2,298.2h.9M351.5,295.6h.9M269.5,265.0h.9M364.9,294.4h.9M284.8,266.6h.9M263.9,259.5h.9M334.7,297.6h.9M378.7,294.0h.9M325.2,292.8h.9M357.5,295.8h.9M268.5,269.7h.9M317.9,292.9h.9M362.0,296.1h.9M295.8,273.3h.9M339.3,296.3h.9M303.2,276.3h.9M320.8,286.9h.9M356.5,299.9h.9M275.9,265.4h.9M278.8,259.7h.9M338.0,298.2h.9M292.8,277.4h.9M273.1,259.5h.9M303.5,276.4h.9M366.6,298.4h.9M299.9,272.9h.9M261.7,261.6h.9M361.0,296.8h.9M277.1,270.5h.9M378.6,295.0h.9M317.5,288.8h.9M293.0,274.7h.9M283.3,261.8h.9M350.6,292.6h.9M344.8,299.8h.9M340.0,296.2h.9M295.5,274.1h.9M300.0,277.5h.9M323.5,294.3h.9M294.5,276.7h.9M268.4,268.0h.9M281.1,270.9h.9M318.2,291.1h.9M279.5,260.0h.9M272.3,262.4h.9M363.2,292.9h.9M361.6,296.6h.9M294.1,274.1h.9M273.7,262.4h.9M308.6,279.0h.9M291.1,275.9h.9M343.9,295.9h.9M307.2,287.4h.9M364.7,296.5h.9M368.9,298.0h.9M357.1,297.8h.9M278.0,264.4h.9M279.0,264.7h.9M272.2,261.3h.9M324.0,285.5h.9M311.3,286.3h.9M344.5,292.4h.9M261.7,257.8h.9M276.1,271.4h.9M263.4,267.1h.9M346.1,295.0h.9M272.0,269.6h.9M297.2,271.7h.9M310.5,280.4h.9M258.4,254.8h.9M280.1,269.5h.9M352.0,295.3h.9M316.6,290.9h.9M318.2,283.3h.9M305.4,277.8h.9M361.7,292.6h.9M370.7,300.3h.9M366.9,295.0h.9M300.8,284.3h.9M376.2,294.1h.9M262.1,267.5h.9M290.6,271.0h.9M351.5,295.1h.9M317.3,290.0h.9M313.5,287.9h.9M363.7,292.5h.9M270.4,265.1h.9M321.2,286.8h.9M362.7,296.5h.9M311.7,283.6h.9M355.0,294.5h.9M262.1,257.9h.9M365.4,298.5h.9M293.1,275.0h.9M280.4,266.7h.9M359.0,294.2h.9" stroke="#3f8ed2" stroke-width="0.9" opacity="0.85" fill="none"/>
<path d="M256.3,252.9 L260.0,259.9 M259.8,255.5 L263.5,262.5 M263.3,256.1 L267.0,263.1 M266.8,256.9 L270.5,263.9 M270.3,257.6 L274.0,264.6 M273.8,256.9 L277.5,263.9 M275.1,252.2 L281.0,264.2 M278.6,254.1 L284.5,266.1 M282.1,257.2 L288.0,269.2 M285.6,260.4 L291.5,272.4 M289.1,263.5 L295.0,275.5 M292.6,265.8 L298.5,277.8 M296.1,268.2 L302.0,280.2 M299.6,269.9 L305.5,281.9 M303.1,271.7 L309.0,283.7 M306.6,273.4 L312.5,285.4 M310.1,275.1 L316.0,287.1 M313.6,276.9 L319.5,288.9 M317.1,278.7 L323.0,290.7 M320.6,280.4 L326.5,292.4 M324.1,281.8 L330.0,293.8 M329.4,287.2 L333.5,295.2 M332.9,288.2 L337.0,296.2 M336.4,288.4 L340.5,296.4 M339.9,288.5 L344.0,296.5 M359.0,284.0 l3.5,7 M362.6,284.3 l3.5,7 M366.2,284.6 l3.5,7 M369.8,284.9 l3.5,7 M373.4,285.2 l3.5,7 " stroke="#5aa8e0" stroke-width="1.0" stroke-dasharray="1.2 0.6" fill="none" opacity="0.95"/>
<path d="M257.00,256.50 L263.00,258.90 L271.30,260.10 L279.70,263.70 L286.90,267.30 L293.00,273.00 L301.00,278.80 L309.00,283.00 L317.00,287.00 L325.00,291.20 L335.00,295.00" fill="none" stroke="#ff00ff" stroke-width="1.4" stroke-dasharray="4 2.2" stroke-linejoin="round"/>
<path d="M235.10,205.40 L239.40,215.50 L243.50,225.60 L247.50,234.30 L251.00,243.40 L255.80,254.10 L260.60,261.30 L265.30,261.90 L272.50,263.70 L278.50,262.50 L283.30,264.90 L290.00,270.90 L293.10,273.90 L301.20,279.30 L309.30,283.30 L317.30,287.30 L325.40,291.40 L335.00,295.20 L345.00,295.60 L364.00,295.80" fill="none" stroke="#f01414" stroke-width="1.4" stroke-linejoin="round"/>
<path d="M255.80,251.70 L260.60,254.70 L266.50,257.10 L273.70,259.50 L280.90,261.90 L285.70,265.50 L290.00,269.70 L301.00,278.50 L309.00,283.00 L317.00,287.00 L325.00,291.00 L330.00,294.50 L341.40,294.80 L352.80,295.10 L364.20,295.30 L379.00,295.60" fill="none" stroke="#a01c24" stroke-width="1.4" stroke-dasharray="4 2.2" stroke-linejoin="round"/>
<path d="M235.70,216.20 L238.10,222.90 L241.40,233.00 L247.50,237.70 L250.20,241.00 L254.60,255.30 L260.00,264.90 L266.50,266.10 L272.50,268.50 L280.90,270.90 L285.00,271.80 L293.10,275.20 L301.20,279.90 L302.50,283.30 L309.30,284.60 L317.30,288.00 L325.40,293.40 L328.10,296.80 L332.20,294.80 L339.10,296.20 L348.20,297.30 L357.30,298.50 L364.20,299.80" fill="none" stroke="#0a14e6" stroke-width="1.4" stroke-linejoin="round"/>
<rect x="351.7" y="188.1" width="38.90" height="33.00" fill="#fff" stroke="#bdbdbd" stroke-width="0.9"/>
<path d="M353.20,192.80 H368.20" stroke="#0a14e6" stroke-width="1.5"/>
<text x="369.50" y="194.90" font-size="6.2" fill="#333" style="stroke-width:0.08px">[0 0 ξ]</text>
<path d="M353.20,200.90 H368.20" stroke="#f01414" stroke-width="1.5"/>
<text x="369.50" y="203.00" font-size="6.2" fill="#333" style="stroke-width:0.08px">[ξ ξ ξ]</text>
<path d="M353.20,208.70 H368.20" stroke="#ff00ff" stroke-width="1.5" stroke-dasharray="5 2.6"/>
<text x="369.50" y="210.80" font-size="6.2" fill="#333" style="stroke-width:0.08px">[ξ ξ 2ξ]</text>
<path d="M353.20,216.40 H368.20" stroke="#a01c24" stroke-width="1.5" stroke-dasharray="5 2.6"/>
<text x="369.50" y="218.50" font-size="6.2" fill="#333" style="stroke-width:0.08px">[2ξ ξ 0]</text>
<rect x="230" y="184" width="164.20" height="123.80" fill="none" stroke="#bdbdbd" stroke-width="1.2"/>
<path d="M230.00,307.8 v-1.6 M230.00,184 v1.6" stroke="#6a6a6a" stroke-width="0.6"/>
<path d="M257.37,307.8 v-1.6 M257.37,184 v1.6" stroke="#6a6a6a" stroke-width="0.6"/>
<path d="M284.73,307.8 v-1.6 M284.73,184 v1.6" stroke="#6a6a6a" stroke-width="0.6"/>
<path d="M312.10,307.8 v-1.6 M312.10,184 v1.6" stroke="#6a6a6a" stroke-width="0.6"/>
<path d="M339.47,307.8 v-1.6 M339.47,184 v1.6" stroke="#6a6a6a" stroke-width="0.6"/>
<path d="M366.83,307.8 v-1.6 M366.83,184 v1.6" stroke="#6a6a6a" stroke-width="0.6"/>
<path d="M394.20,307.8 v-1.6 M394.20,184 v1.6" stroke="#6a6a6a" stroke-width="0.6"/>
<path d="M230,307.80 h1.6 M394.2,307.80 h-1.6" stroke="#6a6a6a" stroke-width="0.6"/>
<path d="M230,266.53 h1.6 M394.2,266.53 h-1.6" stroke="#6a6a6a" stroke-width="0.6"/>
<path d="M230,225.26 h1.6 M394.2,225.26 h-1.6" stroke="#6a6a6a" stroke-width="0.6"/>
<path d="M230,183.99 h1.6 M394.2,183.99 h-1.6" stroke="#6a6a6a" stroke-width="0.6"/>
<path d="M230,295.38 h1 M394.2,295.38 h-1" stroke="#6a6a6a" stroke-width="0.5"/>
<path d="M230,288.11 h1 M394.2,288.11 h-1" stroke="#6a6a6a" stroke-width="0.5"/>
<path d="M230,282.95 h1 M394.2,282.95 h-1" stroke="#6a6a6a" stroke-width="0.5"/>
<path d="M230,278.95 h1 M394.2,278.95 h-1" stroke="#6a6a6a" stroke-width="0.5"/>
<path d="M230,275.69 h1 M394.2,275.69 h-1" stroke="#6a6a6a" stroke-width="0.5"/>
<path d="M230,272.92 h1 M394.2,272.92 h-1" stroke="#6a6a6a" stroke-width="0.5"/>
<path d="M230,270.53 h1 M394.2,270.53 h-1" stroke="#6a6a6a" stroke-width="0.5"/>
<path d="M230,268.42 h1 M394.2,268.42 h-1" stroke="#6a6a6a" stroke-width="0.5"/>
<path d="M230,254.11 h1 M394.2,254.11 h-1" stroke="#6a6a6a" stroke-width="0.5"/>
<path d="M230,246.84 h1 M394.2,246.84 h-1" stroke="#6a6a6a" stroke-width="0.5"/>
<path d="M230,241.68 h1 M394.2,241.68 h-1" stroke="#6a6a6a" stroke-width="0.5"/>
<path d="M230,237.68 h1 M394.2,237.68 h-1" stroke="#6a6a6a" stroke-width="0.5"/>
<path d="M230,234.42 h1 M394.2,234.42 h-1" stroke="#6a6a6a" stroke-width="0.5"/>
<path d="M230,231.65 h1 M394.2,231.65 h-1" stroke="#6a6a6a" stroke-width="0.5"/>
<path d="M230,229.26 h1 M394.2,229.26 h-1" stroke="#6a6a6a" stroke-width="0.5"/>
<path d="M230,227.15 h1 M394.2,227.15 h-1" stroke="#6a6a6a" stroke-width="0.5"/>
<path d="M230,212.84 h1 M394.2,212.84 h-1" stroke="#6a6a6a" stroke-width="0.5"/>
<path d="M230,205.57 h1 M394.2,205.57 h-1" stroke="#6a6a6a" stroke-width="0.5"/>
<path d="M230,200.41 h1 M394.2,200.41 h-1" stroke="#6a6a6a" stroke-width="0.5"/>
<path d="M230,196.41 h1 M394.2,196.41 h-1" stroke="#6a6a6a" stroke-width="0.5"/>
<path d="M230,193.15 h1 M394.2,193.15 h-1" stroke="#6a6a6a" stroke-width="0.5"/>
<path d="M230,190.38 h1 M394.2,190.38 h-1" stroke="#6a6a6a" stroke-width="0.5"/>
<path d="M230,187.99 h1 M394.2,187.99 h-1" stroke="#6a6a6a" stroke-width="0.5"/>
<path d="M230,185.88 h1 M394.2,185.88 h-1" stroke="#6a6a6a" stroke-width="0.5"/>
<text x="230.00" y="318.70" font-size="7.3" text-anchor="middle" font-weight="normal" fill="#262626" >0</text>
<text x="257.37" y="318.70" font-size="7.3" text-anchor="middle" font-weight="normal" fill="#262626" >0.2</text>
<text x="284.73" y="318.70" font-size="7.3" text-anchor="middle" font-weight="normal" fill="#262626" >0.4</text>
<text x="312.10" y="318.70" font-size="7.3" text-anchor="middle" font-weight="normal" fill="#262626" >0.6</text>
<text x="339.47" y="318.70" font-size="7.3" text-anchor="middle" font-weight="normal" fill="#262626" >0.8</text>
<text x="366.83" y="318.70" font-size="7.3" text-anchor="middle" font-weight="normal" fill="#262626" >1</text>
<text x="394.20" y="318.70" font-size="7.3" text-anchor="middle" font-weight="normal" fill="#262626" >1.2</text>
<text x="312.10" y="329.60" font-size="8.1" text-anchor="middle" font-weight="normal" fill="#262626" >q (2π/a)</text>
<text x="0" y="0" font-size="8.3" text-anchor="middle" fill="#262626" transform="translate(212.30,245.90) rotate(-90)">3-Phonon Lifetime (ps)</text>
<text x="312.10" y="181.30" font-size="7.5" font-weight="bold" text-anchor="middle" fill="#000">LA</text>
<text x="201.40" y="179.20" font-size="9.5" font-weight="bold" fill="#000">(e)</text>
<path d="M549.5,290.3h.9M534.7,231.5h.9M553.0,265.9h.9M518.0,230.8h.9M528.4,282.0h.9M534.1,253.0h.9M533.8,291.4h.9M508.8,241.1h.9M545.1,257.1h.9M529.5,273.0h.9M527.8,280.0h.9M510.9,226.4h.9M572.5,282.2h.9M522.4,239.2h.9M551.6,253.5h.9M517.2,221.0h.9M533.4,248.7h.9M534.1,278.9h.9M554.3,261.9h.9M515.1,251.5h.9M530.2,238.2h.9M500.7,219.1h.9M562.2,289.3h.9M560.1,275.4h.9M516.7,260.0h.9M558.8,291.3h.9M507.7,255.7h.9M512.2,237.4h.9M534.8,294.7h.9M508.8,223.4h.9M516.0,238.6h.9M559.5,260.9h.9M538.1,297.5h.9M528.3,252.9h.9M521.8,213.1h.9M544.0,260.5h.9M562.6,277.8h.9M554.9,256.2h.9M505.4,211.0h.9M544.1,263.6h.9M572.4,276.3h.9M510.4,237.0h.9M562.4,255.4h.9M553.5,273.9h.9M515.2,225.3h.9M514.1,246.1h.9M533.4,279.7h.9M546.3,270.0h.9M513.1,259.3h.9M540.7,250.4h.9M571.2,254.1h.9M523.9,255.6h.9M568.2,277.4h.9M540.9,238.3h.9M576.1,250.3h.9M555.2,241.9h.9M509.1,234.5h.9M563.4,294.9h.9M548.8,263.0h.9M561.8,299.1h.9M549.1,285.3h.9M568.8,250.4h.9M508.3,230.2h.9M572.7,257.8h.9M524.3,219.2h.9M557.8,250.9h.9M507.8,237.0h.9M514.0,244.7h.9M557.3,233.6h.9M517.7,240.9h.9M542.7,250.9h.9M551.0,277.4h.9M506.0,249.7h.9M531.5,262.0h.9M504.4,216.6h.9M558.0,294.5h.9M572.2,264.7h.9M574.9,268.8h.9M520.6,274.6h.9M550.3,273.2h.9M560.7,277.7h.9M540.3,287.7h.9M560.0,243.9h.9M535.7,242.2h.9M545.8,264.7h.9M553.3,257.9h.9M534.6,246.4h.9M529.7,257.8h.9M551.6,291.0h.9M526.3,278.1h.9M573.6,273.2h.9M523.1,230.8h.9M521.4,215.4h.9M540.0,227.0h.9M513.9,212.9h.9M545.2,248.3h.9M541.3,224.1h.9M514.3,229.2h.9M539.8,294.3h.9M513.6,222.5h.9M548.3,231.5h.9M507.3,249.5h.9M508.4,234.9h.9M524.4,236.4h.9M518.8,238.6h.9M501.9,209.2h.9M511.9,232.6h.9M518.4,226.7h.9M542.8,265.5h.9M524.6,265.9h.9M518.6,275.4h.9M547.9,289.0h.9M510.7,221.4h.9M570.6,270.7h.9M560.0,243.2h.9M540.2,244.0h.9M526.3,235.9h.9M547.9,249.5h.9M523.3,266.2h.9M566.0,240.8h.9M555.4,237.4h.9M528.9,220.9h.9M513.5,264.6h.9M523.6,266.7h.9M544.6,260.8h.9M518.2,247.2h.9M550.6,241.3h.9M543.0,286.0h.9M557.5,300.2h.9M514.0,245.4h.9M532.2,272.3h.9M560.4,281.4h.9M572.0,280.1h.9M567.1,259.2h.9M539.0,286.6h.9M542.6,302.0h.9M515.7,267.3h.9M574.5,255.8h.9M564.6,262.9h.9M505.4,236.0h.9M515.9,232.7h.9M546.6,248.5h.9M558.0,234.6h.9M512.0,231.2h.9M548.2,296.3h.9M545.3,229.5h.9M521.0,256.5h.9M505.8,247.0h.9M532.6,290.2h.9M534.8,249.7h.9M532.0,260.3h.9M527.5,279.8h.9M541.7,283.7h.9M523.9,215.3h.9M548.8,282.7h.9M514.0,229.5h.9M557.7,291.3h.9M580.0,262.5h.9M523.8,245.2h.9M569.7,283.9h.9M527.1,251.6h.9M549.2,262.8h.9M524.0,220.5h.9M547.4,279.8h.9M543.6,246.4h.9M523.4,227.7h.9M516.8,250.1h.9M524.8,276.5h.9M557.7,299.5h.9M525.4,243.7h.9M567.1,260.8h.9M558.2,257.2h.9M560.1,248.1h.9M559.1,295.7h.9M565.3,282.9h.9M519.8,246.6h.9M557.5,234.2h.9M520.0,240.3h.9M532.3,278.4h.9M532.2,284.7h.9M536.9,248.6h.9M563.0,249.3h.9M520.4,263.1h.9M507.1,225.0h.9M534.4,251.3h.9M523.0,227.3h.9M528.6,240.6h.9M533.3,282.6h.9M515.2,237.6h.9M556.7,261.4h.9M518.7,223.5h.9M544.5,268.5h.9M543.2,269.7h.9M578.4,268.1h.9M520.9,247.5h.9M520.5,261.4h.9M531.5,294.1h.9M508.5,220.3h.9M571.2,272.1h.9M500.9,212.1h.9M562.2,257.5h.9M525.3,286.1h.9M555.9,250.3h.9M526.8,274.8h.9M507.3,211.3h.9M522.2,245.0h.9M564.8,250.8h.9M547.0,284.0h.9M526.1,228.4h.9M531.1,292.9h.9M556.6,232.4h.9M536.9,242.5h.9M512.1,253.7h.9M542.3,269.5h.9M541.1,296.1h.9M534.3,222.9h.9M559.7,253.8h.9M514.1,262.5h.9M554.6,264.7h.9M556.7,291.5h.9M578.0,265.1h.9M558.1,257.4h.9M527.4,252.5h.9M543.7,281.7h.9M517.7,230.3h.9M514.5,223.3h.9M503.4,241.1h.9M550.5,257.0h.9M511.8,234.5h.9M560.5,264.5h.9M564.5,266.6h.9M548.8,237.0h.9M531.4,283.6h.9M558.8,233.0h.9M539.8,256.7h.9M505.4,238.7h.9M572.5,278.3h.9M565.4,262.9h.9M562.2,245.3h.9M522.1,217.0h.9M564.3,249.5h.9M577.3,257.6h.9M571.7,267.8h.9M542.7,271.4h.9M515.2,257.3h.9M542.3,227.7h.9M532.1,264.4h.9M508.1,212.7h.9M548.4,250.0h.9M514.1,236.2h.9M522.5,230.0h.9M561.0,282.3h.9M513.3,240.4h.9M522.6,225.8h.9M570.7,280.7h.9M563.3,261.7h.9M552.7,254.5h.9M573.3,263.9h.9M515.3,272.3h.9M500.8,218.3h.9M512.6,255.5h.9M569.3,273.9h.9M533.3,228.7h.9M521.8,266.8h.9M554.2,244.2h.9M550.7,257.6h.9M529.7,288.1h.9M567.3,266.4h.9M561.3,273.2h.9M540.5,259.3h.9M542.7,275.1h.9M531.9,254.4h.9M545.0,278.1h.9M523.1,255.0h.9M554.6,303.7h.9M536.6,259.8h.9M558.2,244.9h.9M550.0,243.6h.9M554.9,285.6h.9M536.3,257.4h.9M554.3,303.8h.9M542.9,226.3h.9M573.7,273.3h.9M555.2,279.2h.9M544.1,274.0h.9M545.2,291.5h.9M527.5,279.2h.9M548.9,275.5h.9M524.6,255.9h.9M509.1,226.8h.9M556.4,258.7h.9M547.2,299.1h.9M530.1,234.2h.9M507.5,234.1h.9M548.1,247.0h.9M558.0,247.3h.9M545.2,273.7h.9M547.2,257.6h.9M564.7,288.3h.9M550.9,265.6h.9M526.0,271.6h.9M569.5,263.5h.9M569.5,262.1h.9M509.5,245.2h.9M504.9,220.4h.9M561.4,283.7h.9M561.6,235.9h.9M517.5,257.7h.9M518.0,234.4h.9M525.9,245.9h.9M534.2,265.3h.9M521.8,277.0h.9M528.6,270.7h.9M562.5,285.3h.9M548.6,235.4h.9M575.4,260.6h.9M559.5,275.8h.9M531.7,257.0h.9M557.5,279.1h.9M547.3,283.3h.9M570.5,272.9h.9M515.1,254.5h.9M546.3,295.0h.9M558.7,246.0h.9M544.7,228.8h.9M519.1,264.9h.9M553.5,278.1h.9M532.1,248.3h.9M504.2,222.1h.9M510.9,229.8h.9M505.7,209.1h.9M564.8,289.6h.9M524.1,239.2h.9M511.4,224.5h.9M505.3,217.7h.9M506.4,219.3h.9M533.6,257.8h.9M521.2,240.7h.9M514.4,255.9h.9M558.2,262.6h.9M513.8,256.8h.9M546.8,238.7h.9M509.2,258.0h.9M502.6,226.9h.9M554.9,270.1h.9M542.3,280.8h.9M527.1,258.0h.9M526.6,267.5h.9M507.3,219.4h.9M525.5,274.5h.9M554.3,270.8h.9M528.6,269.5h.9M532.6,221.2h.9M551.5,293.7h.9M510.7,245.7h.9M559.2,277.6h.9M526.6,217.3h.9M525.4,265.4h.9M554.5,282.2h.9M530.6,243.7h.9M569.9,284.4h.9M579.1,253.0h.9M554.9,296.2h.9M562.9,292.8h.9M524.2,240.3h.9M518.5,249.9h.9M509.0,241.5h.9M570.7,279.3h.9M559.6,255.5h.9M520.7,215.8h.9M505.4,217.5h.9M562.9,237.8h.9M549.9,298.0h.9M552.7,235.1h.9M544.3,235.1h.9M554.5,296.4h.9M560.8,239.3h.9M568.7,270.4h.9M540.0,241.0h.9M548.9,256.8h.9M542.8,246.9h.9M502.5,230.2h.9M562.8,291.0h.9M534.8,237.7h.9M542.1,230.2h.9M505.7,223.4h.9M543.0,255.3h.9M537.8,223.4h.9M548.6,295.1h.9M544.0,225.3h.9M548.7,260.7h.9M515.3,233.8h.9M555.8,284.3h.9M550.6,230.7h.9M520.5,217.4h.9M564.4,241.3h.9M542.1,227.0h.9M542.0,234.1h.9M544.0,279.8h.9M519.4,278.0h.9M539.6,295.3h.9M556.6,299.5h.9M543.9,274.5h.9M527.9,239.6h.9M548.1,241.4h.9M517.5,215.1h.9M542.7,238.2h.9M565.9,248.6h.9M503.0,228.0h.9M501.1,222.6h.9M519.3,250.2h.9M571.7,260.7h.9M519.7,226.0h.9M546.9,244.5h.9M574.1,278.3h.9M562.6,251.6h.9M503.8,221.2h.9M537.5,221.9h.9M563.0,261.7h.9M526.8,215.0h.9M516.0,226.3h.9M524.8,237.3h.9M567.9,279.3h.9M558.9,254.9h.9M512.4,263.1h.9M504.3,218.2h.9M552.5,284.2h.9M507.5,212.0h.9M519.1,233.9h.9M560.0,268.3h.9M536.0,259.0h.9M518.5,216.8h.9M559.6,261.1h.9M548.1,238.2h.9M519.7,244.4h.9M559.7,266.8h.9M540.9,292.2h.9M510.9,260.1h.9M553.4,240.4h.9M517.3,274.1h.9M550.9,248.1h.9M509.0,222.3h.9M562.6,273.8h.9M577.9,256.6h.9M556.3,283.4h.9M521.5,249.7h.9M547.9,235.1h.9M528.6,236.2h.9M555.1,230.2h.9M503.9,243.2h.9M536.9,295.5h.9M529.3,222.8h.9M546.0,293.2h.9M546.2,253.5h.9M542.8,251.3h.9M519.5,248.8h.9M554.8,242.1h.9M550.0,292.2h.9M569.9,253.3h.9M523.5,218.7h.9M555.3,256.3h.9M541.2,250.5h.9M525.5,239.1h.9M541.5,269.8h.9M579.6,257.9h.9M555.8,237.1h.9M568.6,271.6h.9M522.1,277.6h.9M503.3,213.2h.9M508.0,229.1h.9M517.8,217.6h.9M539.1,297.9h.9M553.2,302.8h.9M524.1,214.4h.9M551.7,278.0h.9M566.1,257.4h.9M528.2,282.1h.9M543.6,246.0h.9M544.7,265.4h.9M545.5,274.7h.9M577.2,252.8h.9M506.0,222.7h.9M512.4,218.9h.9M575.0,262.2h.9M527.1,237.1h.9M546.6,295.2h.9M512.8,253.9h.9M530.9,266.6h.9M550.2,242.9h.9M538.4,266.3h.9M559.5,249.3h.9M538.4,281.3h.9M562.2,280.7h.9M527.1,216.6h.9M578.7,257.0h.9M528.2,285.2h.9M563.1,266.5h.9M518.7,252.6h.9M537.5,283.0h.9M513.9,225.0h.9M525.3,246.7h.9M541.0,242.6h.9M544.0,262.6h.9M572.8,253.5h.9M566.4,271.2h.9M558.8,277.3h.9M535.5,245.9h.9M564.6,282.3h.9M524.9,276.0h.9M530.5,262.9h.9M523.5,248.4h.9M536.5,289.2h.9M544.8,238.3h.9M547.8,286.4h.9M517.7,255.4h.9M530.8,231.8h.9M577.8,262.8h.9M542.5,252.1h.9M538.3,240.1h.9M538.6,271.0h.9M534.6,265.9h.9M530.3,219.1h.9M568.6,258.8h.9M533.2,282.2h.9M549.0,277.3h.9M526.8,256.2h.9M509.0,241.2h.9M571.4,263.2h.9M533.4,232.2h.9M515.2,270.1h.9M525.9,237.3h.9M539.2,226.9h.9M522.9,254.1h.9M519.0,246.5h.9M533.2,264.3h.9M566.0,287.5h.9M527.1,272.1h.9M514.2,264.0h.9M512.9,213.7h.9M562.1,245.0h.9M532.7,281.9h.9M526.9,219.1h.9M534.7,230.3h.9M566.4,275.1h.9M562.7,251.7h.9M536.2,259.5h.9M547.4,290.0h.9M539.5,244.9h.9M546.5,284.0h.9M526.5,232.8h.9M509.2,221.3h.9M518.6,248.5h.9M567.3,272.1h.9M537.3,271.0h.9M530.3,274.6h.9M576.4,260.3h.9M534.3,273.3h.9M550.0,287.1h.9M574.6,257.5h.9M540.1,242.6h.9M567.1,275.0h.9M510.1,258.9h.9M534.4,273.4h.9M517.4,258.2h.9M503.2,218.5h.9M565.8,268.6h.9M507.9,213.5h.9M534.0,243.8h.9M512.7,246.5h.9M546.2,256.4h.9M507.7,222.0h.9M529.0,230.3h.9M547.3,256.0h.9M572.7,255.1h.9M523.8,233.5h.9M544.3,265.2h.9M552.1,266.6h.9M523.8,282.5h.9M527.7,265.2h.9M554.4,283.3h.9M540.8,246.7h.9M544.6,296.5h.9M532.0,249.4h.9M510.9,250.4h.9M527.8,223.4h.9M516.3,248.6h.9M551.6,250.0h.9M528.3,275.3h.9M513.2,250.5h.9M553.3,258.9h.9M549.8,300.0h.9M562.7,291.3h.9M577.7,259.7h.9M556.3,300.6h.9M564.5,279.8h.9M509.6,221.0h.9M506.1,232.9h.9M554.2,263.5h.9M508.9,241.7h.9M533.7,272.5h.9M561.3,268.0h.9M527.9,290.2h.9M550.1,230.4h.9M529.9,224.1h.9M569.5,255.2h.9M540.6,277.6h.9M565.6,247.9h.9M573.0,277.8h.9M536.2,295.8h.9M505.2,213.1h.9M555.6,289.8h.9M548.6,279.2h.9M569.2,242.2h.9M553.7,235.5h.9M558.8,246.2h.9M579.4,254.1h.9M547.4,238.5h.9M558.9,293.9h.9M522.3,220.8h.9M561.6,298.4h.9M517.9,242.3h.9M563.5,238.4h.9M503.1,215.7h.9M532.8,293.3h.9M552.7,279.4h.9M541.3,247.8h.9M576.1,262.5h.9M573.9,263.6h.9M578.9,256.2h.9M519.1,229.3h.9M562.8,236.3h.9M562.2,268.1h.9M526.7,217.4h.9M574.4,260.2h.9M547.6,234.3h.9M519.0,277.0h.9M545.5,229.1h.9M573.8,255.9h.9M537.4,220.8h.9M573.6,281.0h.9M523.7,240.9h.9M514.2,209.2h.9M508.0,217.1h.9M559.2,267.0h.9M542.3,279.1h.9M532.0,230.8h.9M527.7,284.4h.9M552.9,255.4h.9M546.6,271.8h.9M536.1,299.2h.9M519.1,245.2h.9M535.6,230.1h.9M510.9,232.7h.9M531.4,242.1h.9M537.2,262.0h.9M577.2,259.2h.9M561.6,288.9h.9M576.9,265.2h.9M522.8,226.6h.9M526.2,244.5h.9M504.1,220.7h.9M544.0,302.2h.9M501.6,231.0h.9M573.6,266.0h.9M574.3,253.1h.9M521.6,230.2h.9M558.7,258.4h.9M567.1,255.3h.9M547.6,257.6h.9M521.6,277.0h.9M514.0,262.9h.9M528.3,228.5h.9M550.7,272.6h.9M515.0,260.9h.9M566.0,240.8h.9M550.8,293.7h.9M506.1,232.7h.9M516.9,251.6h.9M527.5,275.0h.9M546.3,259.2h.9M558.4,234.4h.9M510.5,254.4h.9M548.1,300.1h.9M542.1,301.8h.9M510.8,213.6h.9M557.8,249.8h.9M519.5,261.7h.9M536.4,246.7h.9M567.0,255.5h.9M546.6,298.2h.9M558.3,254.9h.9M510.4,252.3h.9M533.6,276.4h.9M527.5,280.6h.9M522.4,260.4h.9M560.4,256.1h.9M533.5,228.6h.9M544.7,273.2h.9M522.1,231.9h.9M564.5,273.9h.9M545.1,251.7h.9M534.7,267.8h.9M576.8,272.7h.9M517.3,224.3h.9M527.1,248.4h.9M539.7,234.4h.9M560.8,293.1h.9M552.1,294.2h.9M526.5,278.2h.9M541.9,241.4h.9M528.4,291.6h.9M548.6,255.7h.9M570.6,244.9h.9M540.8,226.8h.9M540.6,293.7h.9M535.9,246.5h.9M503.1,232.7h.9M529.6,238.8h.9M523.0,229.5h.9M501.6,230.5h.9M566.1,288.8h.9M510.2,244.9h.9M522.9,276.0h.9M556.6,236.5h.9M512.2,249.8h.9M543.9,269.1h.9M558.0,286.6h.9M525.4,234.0h.9M579.6,254.5h.9M512.3,221.3h.9M541.3,255.9h.9M542.1,271.2h.9M527.4,236.0h.9M520.2,258.7h.9M517.4,256.9h.9M541.6,266.3h.9M525.5,254.4h.9M532.8,238.9h.9M527.6,237.7h.9M525.5,286.5h.9M547.5,261.6h.9M552.8,235.2h.9M518.7,218.3h.9M550.1,281.8h.9M560.4,263.1h.9M519.8,235.6h.9M512.1,222.8h.9M565.3,262.4h.9M512.0,252.5h.9M510.2,260.6h.9M534.1,285.0h.9M551.0,256.1h.9M533.4,248.5h.9M552.1,270.9h.9M543.3,284.8h.9M506.0,230.9h.9M554.0,256.7h.9M527.2,256.8h.9M512.9,243.4h.9M519.2,244.1h.9M522.1,269.1h.9M528.6,233.0h.9M535.3,293.4h.9M542.9,235.4h.9M544.5,226.3h.9M526.7,225.3h.9M521.5,257.6h.9M526.1,269.3h.9M522.0,276.5h.9M555.2,297.1h.9M552.3,254.2h.9M557.6,233.7h.9M529.3,270.5h.9M525.9,251.0h.9M529.0,257.2h.9M549.9,292.5h.9M508.3,246.3h.9M503.7,209.4h.9M508.2,252.1h.9M555.2,277.1h.9M534.2,295.7h.9M514.2,261.9h.9M579.4,263.6h.9M567.6,279.8h.9M525.5,261.9h.9M514.3,256.5h.9M557.0,271.7h.9M555.7,257.5h.9M531.5,252.2h.9M558.6,275.0h.9M551.5,281.8h.9M564.9,269.8h.9M506.1,218.9h.9M555.2,278.1h.9M542.8,290.5h.9M533.9,218.9h.9M546.5,283.5h.9M540.1,238.7h.9M552.1,275.7h.9M573.5,273.8h.9M575.0,252.5h.9M558.3,233.3h.9M564.3,290.5h.9M531.1,287.9h.9M540.1,288.6h.9M557.6,287.0h.9M540.7,270.8h.9M548.4,298.8h.9M553.0,267.1h.9M540.4,299.9h.9M526.3,255.9h.9M547.5,239.1h.9M575.7,251.8h.9M566.7,269.0h.9M533.1,238.6h.9M562.8,281.4h.9M530.0,265.7h.9M537.4,231.0h.9M557.1,288.7h.9M539.2,247.5h.9M504.6,229.3h.9M550.7,286.1h.9M533.3,270.1h.9M549.1,227.5h.9M547.5,250.1h.9M549.1,263.8h.9M570.1,285.7h.9M562.6,273.2h.9M516.1,221.1h.9M520.2,229.3h.9M520.1,272.4h.9M554.3,295.5h.9M547.3,240.8h.9M562.1,259.9h.9M525.7,268.0h.9M538.2,300.5h.9M569.5,241.9h.9M510.0,250.3h.9M544.6,251.6h.9M566.0,265.6h.9M550.3,232.0h.9M545.7,299.3h.9M562.6,236.7h.9M536.0,243.6h.9M530.3,225.9h.9M530.0,220.6h.9M516.0,223.7h.9M550.0,250.2h.9M574.8,254.1h.9M551.1,245.2h.9M570.2,249.2h.9M531.0,281.2h.9M546.3,239.0h.9M553.3,236.9h.9M521.4,252.4h.9M532.2,268.0h.9M537.1,247.9h.9M545.7,276.7h.9M574.5,266.9h.9M542.1,237.3h.9M567.4,282.3h.9M503.9,207.0h.9M544.5,297.7h.9M515.7,236.2h.9M543.7,263.1h.9M533.7,267.5h.9M547.2,251.9h.9M540.5,240.5h.9M551.5,285.0h.9M565.3,238.3h.9M543.7,291.1h.9M531.2,220.1h.9M551.7,240.2h.9M517.3,259.5h.9M513.9,245.3h.9M564.5,257.8h.9M549.1,303.0h.9M544.1,269.9h.9M556.0,258.1h.9M540.7,227.2h.9M538.2,227.4h.9M561.6,239.0h.9M557.7,268.1h.9M549.4,278.1h.9M558.8,275.4h.9M514.2,255.2h.9M505.0,249.7h.9M535.8,281.3h.9M530.3,233.8h.9M568.8,281.0h.9M562.4,290.8h.9M525.0,271.0h.9M544.7,266.4h.9M514.4,215.0h.9M509.4,235.9h.9M570.0,282.6h.9M540.9,236.8h.9M553.6,286.0h.9M551.2,230.6h.9M575.8,261.0h.9M529.8,270.9h.9M523.3,256.3h.9M531.0,246.2h.9M555.5,266.5h.9M513.8,253.0h.9M561.2,265.0h.9M510.7,259.4h.9M560.9,257.2h.9M508.7,231.8h.9M543.2,257.1h.9M538.9,300.7h.9M506.1,242.3h.9M547.2,291.8h.9M551.5,277.1h.9M534.3,224.6h.9M546.8,236.5h.9M557.1,267.2h.9M534.4,251.4h.9M521.9,280.2h.9M530.2,278.4h.9M538.4,284.8h.9M553.9,280.8h.9M532.6,223.0h.9M550.8,268.4h.9M537.3,248.5h.9M556.3,263.1h.9M560.9,242.1h.9M559.4,273.9h.9M540.4,296.1h.9M511.1,232.0h.9M530.1,245.3h.9M533.0,221.5h.9M553.0,295.2h.9M532.0,244.8h.9M542.9,301.2h.9M544.2,284.7h.9M537.1,220.8h.9M533.7,260.3h.9M523.0,272.9h.9M514.2,227.6h.9M535.8,282.6h.9M564.4,287.2h.9M576.6,265.0h.9M563.4,284.4h.9M502.7,217.0h.9M563.5,256.8h.9M568.3,279.0h.9M529.7,226.1h.9M564.8,291.9h.9M570.6,253.2h.9" stroke="#4a96d6" stroke-width="0.9" opacity="0.85" fill="none"/>
<path d="M487.1,191.5h.9M489.6,192.5h.9M490.5,191.0h.9M488.0,197.4h.9M492.6,194.4h.9M493.2,197.6h.9M492.3,195.5h.9M492.3,192.8h.9M489.3,193.5h.9M492.7,196.1h.9M489.3,192.3h.9M487.0,191.4h.9M486.2,189.1h.9M488.7,193.7h.9M485.2,198.0h.9M490.9,190.2h.9M489.9,194.6h.9M490.0,198.4h.9M490.6,188.6h.9M484.9,194.8h.9M486.0,197.3h.9M483.4,190.9h.9M486.5,192.1h.9M486.9,190.2h.9M491.8,191.4h.9M490.7,188.2h.9M485.4,196.7h.9M487.4,188.3h.9M487.0,198.0h.9M488.2,198.3h.9" stroke="#4a96d6" stroke-width="0.9" opacity="0.85" fill="none"/>
<path d="M481.9,198.0h.9M471.9,201.1h.9M487.1,193.6h.9M483.7,192.1h.9M492.1,193.4h.9M478.2,200.1h.9M470.6,205.7h.9M477.1,197.6h.9M487.0,197.0h.9M476.4,200.3h.9M485.8,197.8h.9M483.5,193.2h.9M473.7,201.8h.9M471.5,199.0h.9M484.1,193.9h.9M481.9,196.0h.9M475.1,194.2h.9M477.3,193.7h.9M493.3,195.2h.9M474.0,195.7h.9M468.4,200.1h.9M469.9,201.8h.9M476.0,193.9h.9M469.1,198.7h.9M491.2,192.4h.9M479.1,194.7h.9M471.5,205.0h.9M486.0,193.9h.9M484.9,194.9h.9M489.1,197.2h.9M479.2,193.9h.9M481.3,192.8h.9M483.3,196.1h.9M490.7,192.5h.9M483.1,196.9h.9M495.2,194.7h.9M479.0,195.9h.9M477.7,194.2h.9M473.1,196.0h.9M471.6,197.2h.9" stroke="#4a96d6" stroke-width="0.9" opacity="0.85" fill="none"/>
<path d="M469.4,208.9h.9M496.1,218.4h.9M477.3,219.4h.9M505.1,247.1h.9M480.4,208.1h.9M500.7,227.2h.9M481.6,215.3h.9M494.4,224.9h.9M500.2,229.3h.9M485.1,217.4h.9M499.5,245.3h.9M500.7,231.6h.9M500.6,247.7h.9M481.1,219.4h.9M495.8,228.9h.9M504.1,232.1h.9M490.5,206.2h.9M477.9,214.4h.9M494.2,218.3h.9M481.4,222.6h.9M496.2,208.2h.9M505.9,243.2h.9M487.8,211.7h.9M499.9,243.8h.9M490.4,212.5h.9M488.4,204.3h.9M496.8,248.1h.9M482.4,216.2h.9M504.1,227.7h.9M492.5,220.6h.9M492.7,209.8h.9M477.9,209.2h.9M505.5,255.9h.9M495.3,230.9h.9M491.6,210.9h.9M504.0,228.2h.9M490.8,203.9h.9M494.9,207.8h.9M506.9,246.1h.9M502.6,242.2h.9M497.0,217.3h.9M497.4,216.5h.9M483.1,219.8h.9M496.5,214.8h.9M497.1,216.1h.9M472.7,208.0h.9M489.6,221.7h.9M497.2,231.6h.9M496.8,230.6h.9M476.4,215.9h.9M503.7,249.6h.9M500.1,227.1h.9M502.8,237.5h.9M499.2,231.4h.9M507.1,242.6h.9M502.8,256.7h.9M505.0,251.4h.9M474.0,212.7h.9M491.7,236.1h.9M487.0,230.1h.9M497.3,235.0h.9M496.3,239.6h.9M494.9,207.7h.9M492.4,205.0h.9M475.4,216.6h.9M502.8,251.8h.9M485.9,210.0h.9M502.2,252.8h.9M473.5,216.6h.9M491.1,204.1h.9M490.8,230.6h.9M476.0,217.5h.9M493.4,218.3h.9M492.6,239.9h.9M497.2,216.6h.9M504.7,237.1h.9M486.4,217.7h.9M496.5,228.9h.9M493.0,206.1h.9M477.0,218.1h.9M487.8,211.4h.9M503.8,244.7h.9M487.7,224.4h.9M483.5,224.8h.9M484.9,208.0h.9M484.1,215.5h.9M501.9,246.2h.9M494.1,214.7h.9M491.5,233.8h.9M491.7,225.0h.9M488.8,213.0h.9M485.8,207.9h.9M497.4,219.2h.9M500.0,211.2h.9M497.4,240.0h.9M492.0,233.7h.9M506.2,250.7h.9M508.4,247.9h.9M477.0,220.5h.9M506.0,240.0h.9M485.2,230.8h.9M492.0,235.3h.9M500.5,228.3h.9M485.2,215.7h.9M492.4,216.4h.9M483.9,221.8h.9M470.3,210.0h.9M481.6,214.9h.9M502.2,251.4h.9M476.7,213.8h.9M477.2,220.7h.9M486.2,230.9h.9M478.7,211.2h.9M500.4,255.2h.9M493.9,224.5h.9M501.2,235.5h.9M492.4,213.5h.9M481.3,212.3h.9M487.4,227.8h.9M487.5,232.8h.9" stroke="#4a96d6" stroke-width="0.9" opacity="0.85" fill="none"/>
<path d="M559.2,285.0h.9M547.6,292.7h.9M552.8,283.6h.9M555.5,296.2h.9M553.1,287.9h.9M545.6,289.1h.9M554.1,293.4h.9M551.2,281.3h.9M543.6,292.6h.9M555.8,282.2h.9M556.1,286.2h.9M547.1,296.3h.9M560.0,289.0h.9M545.6,291.8h.9M552.7,294.0h.9M551.9,276.1h.9M551.4,281.7h.9M543.3,286.8h.9M554.6,278.7h.9M553.9,278.2h.9M544.3,295.5h.9M554.2,293.1h.9M552.5,287.2h.9M553.1,292.5h.9M539.9,282.4h.9M542.3,285.5h.9M549.5,296.6h.9M561.5,284.3h.9M551.5,285.7h.9M551.0,294.6h.9M549.9,281.7h.9M550.0,287.9h.9M552.5,292.1h.9M543.0,288.7h.9M542.3,281.4h.9M552.4,282.8h.9M548.1,295.9h.9M547.9,283.7h.9M550.9,296.9h.9M549.9,295.4h.9M538.3,281.9h.9M550.4,294.2h.9M539.5,291.1h.9M538.0,283.7h.9M559.4,284.9h.9M557.4,288.2h.9M548.9,279.8h.9M556.4,286.3h.9M550.1,282.7h.9M547.7,282.3h.9M546.3,287.0h.9M552.6,288.4h.9M554.4,282.7h.9M553.5,284.2h.9M558.6,289.6h.9M554.9,282.0h.9M555.2,281.3h.9M548.7,292.0h.9M549.2,289.2h.9M556.4,294.8h.9M548.5,290.6h.9M550.9,290.4h.9M556.2,292.2h.9M544.4,292.9h.9M543.8,289.3h.9M544.2,295.7h.9M556.8,286.0h.9M555.7,285.2h.9M545.1,278.0h.9M552.3,284.7h.9M551.5,294.5h.9M551.0,281.1h.9M558.4,289.5h.9M549.7,282.0h.9M558.5,290.2h.9M551.2,289.5h.9M539.3,288.3h.9M554.3,296.1h.9M549.1,285.9h.9M547.6,281.5h.9M547.0,288.5h.9M552.4,280.8h.9M553.7,277.5h.9M550.7,287.1h.9M551.3,291.3h.9M545.0,293.9h.9M543.3,279.5h.9M545.9,286.4h.9M551.9,281.1h.9M550.6,279.8h.9M556.1,292.2h.9M557.7,282.4h.9M555.0,283.8h.9M546.8,284.4h.9M560.0,283.3h.9M545.1,282.0h.9M548.6,296.4h.9M554.2,287.8h.9M557.8,291.9h.9M551.0,288.5h.9M539.5,283.0h.9M555.4,289.5h.9M550.3,294.5h.9M554.7,280.1h.9M552.6,279.1h.9M558.3,290.2h.9M540.4,291.9h.9M542.7,280.5h.9M553.1,293.8h.9M540.8,286.0h.9" stroke="#3f8ed2" stroke-width="0.9" opacity="0.85" fill="none"/>
<path d="M544.7,237.2h.9M555.1,239.0h.9M517.0,217.9h.9M560.7,248.6h.9M550.7,234.8h.9M558.6,245.5h.9M535.3,241.9h.9M532.2,239.5h.9M535.9,238.7h.9M557.3,236.5h.9M521.2,236.4h.9M530.2,229.4h.9M507.1,215.9h.9M553.5,235.6h.9M537.0,235.3h.9M504.1,214.8h.9M518.0,218.0h.9M532.9,236.0h.9M549.2,234.4h.9M520.3,222.6h.9M503.9,214.0h.9M522.6,229.9h.9M521.1,223.4h.9M545.9,236.0h.9M556.6,242.6h.9M523.4,231.1h.9M551.0,243.1h.9M523.3,230.9h.9M534.8,236.7h.9M507.8,227.4h.9M521.3,221.1h.9M551.8,239.9h.9M560.9,241.6h.9M528.1,227.5h.9M517.9,227.7h.9M519.1,224.1h.9M511.8,221.9h.9M523.1,235.2h.9M560.2,248.9h.9M509.5,213.2h.9M558.4,242.4h.9M539.2,233.4h.9M521.1,228.3h.9M508.4,223.6h.9M547.9,238.4h.9M522.1,231.8h.9M532.7,240.1h.9M541.9,242.2h.9M519.0,233.0h.9M556.2,238.1h.9M535.0,238.8h.9M556.0,245.3h.9M554.8,243.5h.9M548.5,244.3h.9M536.7,233.4h.9M509.9,226.0h.9M553.1,237.9h.9M516.1,221.6h.9M507.0,219.9h.9M510.3,227.7h.9M541.1,243.5h.9M511.1,228.0h.9M516.2,229.8h.9M556.5,244.8h.9M539.5,241.8h.9M515.2,226.4h.9M534.2,241.1h.9M515.5,225.9h.9M521.4,230.0h.9M536.4,238.1h.9M543.6,243.6h.9M562.9,241.7h.9M515.1,226.5h.9M516.2,219.6h.9M511.0,218.1h.9M517.8,221.8h.9M514.5,232.1h.9M546.5,237.6h.9M535.3,230.2h.9M557.6,246.1h.9M532.0,229.4h.9M536.3,236.2h.9M566.8,246.3h.9M517.7,231.7h.9M506.7,223.5h.9M511.7,223.1h.9M505.3,216.0h.9M543.6,233.9h.9M536.2,230.6h.9M511.9,217.0h.9M506.0,213.0h.9M552.2,244.4h.9M545.2,243.4h.9M543.3,238.2h.9M524.3,230.2h.9M536.8,231.1h.9M558.0,241.2h.9M508.9,216.7h.9M553.5,241.5h.9M551.2,239.5h.9M518.8,226.1h.9M512.4,215.9h.9M548.3,245.3h.9M556.4,240.7h.9M510.0,218.2h.9M539.9,231.9h.9M532.0,231.9h.9M556.3,237.9h.9M512.2,217.8h.9M512.1,215.6h.9M536.6,230.3h.9M537.3,240.9h.9M545.6,243.5h.9M518.2,227.1h.9M559.9,244.6h.9M514.7,223.2h.9M524.5,233.2h.9M521.1,227.3h.9M530.8,235.7h.9M558.0,240.3h.9M510.8,228.5h.9M507.2,216.9h.9M523.1,224.2h.9M550.1,237.4h.9M546.7,232.9h.9M516.9,218.7h.9M517.6,229.2h.9M514.1,229.1h.9M520.4,229.5h.9M568.7,247.9h.9M508.4,214.1h.9M551.4,244.6h.9M551.5,237.3h.9M526.9,232.6h.9M522.8,227.3h.9M564.0,243.0h.9M518.1,222.7h.9M518.9,221.2h.9M522.3,234.7h.9M529.0,235.2h.9M510.9,223.9h.9M504.2,216.1h.9M517.4,230.8h.9M505.2,218.9h.9M544.1,238.7h.9M524.8,223.9h.9M542.1,233.6h.9M554.3,243.0h.9M519.0,234.1h.9M521.8,226.8h.9M515.6,223.1h.9M525.8,235.8h.9M530.4,231.4h.9M538.8,233.2h.9M523.0,233.5h.9M525.1,233.2h.9M551.9,237.1h.9M561.7,247.6h.9M535.6,228.6h.9M541.4,230.6h.9M537.7,242.3h.9M515.4,232.3h.9M511.3,220.9h.9M532.3,227.2h.9M540.8,235.9h.9M562.4,242.8h.9M523.2,222.7h.9M516.8,218.4h.9M504.6,219.1h.9M546.1,233.2h.9M554.5,239.7h.9M516.2,216.8h.9M531.3,231.0h.9M551.8,246.4h.9M552.9,235.7h.9M540.0,243.1h.9M513.2,225.0h.9M534.0,235.6h.9M537.7,234.8h.9M510.5,221.4h.9M530.7,237.7h.9M555.5,240.9h.9M533.1,229.5h.9M540.2,243.3h.9M520.8,221.2h.9M522.6,222.2h.9M537.9,242.4h.9M512.7,220.7h.9M557.7,241.1h.9M550.4,237.2h.9M549.4,243.7h.9M555.1,237.1h.9M552.3,239.6h.9M548.2,240.2h.9M554.3,238.5h.9M553.6,239.5h.9M560.6,246.8h.9M543.6,234.6h.9M513.1,228.6h.9M542.5,231.9h.9M515.6,226.6h.9M522.1,233.5h.9M505.1,220.7h.9M539.2,242.7h.9M523.0,233.5h.9M554.2,238.5h.9M555.8,247.2h.9M517.1,231.3h.9M530.4,239.0h.9M540.3,240.7h.9M535.6,240.5h.9M559.0,240.2h.9M535.6,236.2h.9M561.0,241.3h.9M535.7,235.5h.9M505.4,221.1h.9M558.1,241.7h.9M525.8,237.7h.9M557.7,237.7h.9M556.4,248.0h.9" stroke="#3f8ed2" stroke-width="0.9" opacity="0.85" fill="none"/>
<path d="M510.7,272.5h.9M512.7,265.7h.9M508.3,271.6h.9M509.3,267.3h.9M508.4,273.1h.9M510.2,265.5h.9" stroke="#4a96d6" stroke-width="0.9" opacity="0.85" fill="none"/>
<path d="M436.00,194.40 C436.77,194.60 439.13,195.12 440.60,195.60 C442.07,196.08 443.42,196.60 444.80,197.30 C446.18,198.00 447.52,198.88 448.90,199.80 C450.28,200.72 451.70,201.82 453.10,202.80 C454.50,203.78 455.93,204.68 457.30,205.70 C458.67,206.72 459.58,207.32 461.30,208.90 C463.02,210.48 465.50,212.77 467.60,215.20 C469.70,217.63 471.55,220.23 473.90,223.50 C476.25,226.77 479.27,231.35 481.70,234.80 C484.13,238.25 486.25,241.07 488.50,244.20 C490.75,247.33 492.97,250.45 495.20,253.60 C497.43,256.75 499.77,260.07 501.90,263.10 C504.03,266.13 506.15,269.28 508.00,271.80 C509.85,274.32 510.68,275.25 513.00,278.20 C515.32,281.15 518.92,286.20 521.90,289.50 C524.88,292.80 527.90,295.22 530.90,298.00 C533.90,300.78 536.30,304.70 539.90,306.20 C543.50,307.70 548.48,306.82 552.50,307.00 C556.52,307.18 562.08,307.25 564.00,307.30" fill="none" stroke="#0a14e6" stroke-width="1.4" stroke-linejoin="round"/>
<path d="M436.00,194.40 C436.77,194.60 439.13,195.12 440.60,195.60 C442.07,196.08 443.42,196.60 444.80,197.30 C446.18,198.00 447.52,198.88 448.90,199.80 C450.28,200.72 451.70,201.82 453.10,202.80 C454.50,203.78 455.93,204.92 457.30,205.70 C458.67,206.48 459.58,207.50 461.30,207.50 C463.02,207.50 465.50,206.35 467.60,205.70 C469.70,205.05 471.80,204.20 473.90,203.60 C476.00,203.00 478.12,202.88 480.20,202.10 C482.28,201.32 484.32,199.52 486.40,198.90 C488.48,198.28 490.60,197.87 492.70,198.40 C494.80,198.93 496.95,201.00 499.00,202.10 C501.05,203.20 502.83,203.48 505.00,205.00 C507.17,206.52 509.08,209.03 512.00,211.20 C514.92,213.37 519.00,216.07 522.50,218.00 C526.00,219.93 529.50,221.38 533.00,222.80 C536.50,224.22 540.67,225.47 543.50,226.50 C546.33,227.53 548.92,228.58 550.00,229.00" fill="none" stroke="#ff00ff" stroke-width="1.4" stroke-dasharray="4 2.2" stroke-linejoin="round"/>
<path d="M436.00,194.40 C436.77,194.60 439.13,195.12 440.60,195.60 C442.07,196.08 443.42,196.60 444.80,197.30 C446.18,198.00 447.52,198.88 448.90,199.80 C450.28,200.72 451.70,201.82 453.10,202.80 C454.50,203.78 455.93,204.68 457.30,205.70 C458.67,206.72 459.58,208.40 461.30,208.90 C463.02,209.40 465.50,209.05 467.60,208.70 C469.70,208.35 471.80,207.47 473.90,206.80 C476.00,206.13 478.12,205.27 480.20,204.70 C482.28,204.13 484.32,203.67 486.40,203.40 C488.48,203.13 490.60,202.88 492.70,203.10 C494.80,203.32 496.95,204.02 499.00,204.70 C501.05,205.38 502.83,205.82 505.00,207.20 C507.17,208.58 509.08,211.03 512.00,213.00 C514.92,214.97 519.00,217.25 522.50,219.00 C526.00,220.75 529.50,222.13 533.00,223.50 C536.50,224.87 540.67,226.33 543.50,227.20 C546.33,228.07 547.67,227.57 550.00,228.70 C552.33,229.83 555.27,232.12 557.50,234.00 C559.73,235.88 561.42,237.75 563.40,240.00 C565.38,242.25 567.40,245.27 569.40,247.50 C571.40,249.73 573.65,251.65 575.40,253.40 C577.15,255.15 579.15,257.23 579.90,258.00" fill="none" stroke="#a01c24" stroke-width="1.4" stroke-dasharray="4 2.2" stroke-linejoin="round"/>
<path d="M436.00,194.40 C436.77,194.60 439.13,195.12 440.60,195.60 C442.07,196.08 443.42,196.60 444.80,197.30 C446.18,198.00 447.52,198.88 448.90,199.80 C450.28,200.72 451.70,201.82 453.10,202.80 C454.50,203.78 455.93,204.75 457.30,205.70 C458.67,206.65 459.58,208.07 461.30,208.50 C463.02,208.93 465.50,208.62 467.60,208.30 C469.70,207.98 471.80,207.73 473.90,206.60 C476.00,205.47 478.12,202.73 480.20,201.50 C482.28,200.27 484.67,199.55 486.40,199.20 C488.13,198.85 489.20,199.02 490.60,199.40 C492.00,199.78 493.40,200.45 494.80,201.50 C496.20,202.55 497.63,204.40 499.00,205.70 C500.37,207.00 501.83,208.55 503.00,209.30 C504.17,210.05 504.75,209.78 506.00,210.20 C507.25,210.62 509.00,210.58 510.50,211.80 C512.00,213.02 513.25,215.43 515.00,217.50 C516.75,219.57 519.00,222.55 521.00,224.20 C523.00,225.85 524.75,226.40 527.00,227.40 C529.25,228.40 532.17,229.33 534.50,230.20 C536.83,231.07 538.92,231.77 541.00,232.60 C543.08,233.43 546.00,234.77 547.00,235.20" fill="none" stroke="#f01414" stroke-width="1.4" stroke-linejoin="round"/>
<rect x="552.5" y="190.5" width="38.20" height="33.70" fill="#fff" stroke="#bdbdbd" stroke-width="0.9"/>
<path d="M554.00,195.00 H569.00" stroke="#0a14e6" stroke-width="1.5"/>
<text x="570.30" y="197.10" font-size="6.2" fill="#333" style="stroke-width:0.08px">[0 0 ξ]</text>
<path d="M554.00,203.20 H569.00" stroke="#f01414" stroke-width="1.5"/>
<text x="570.30" y="205.30" font-size="6.2" fill="#333" style="stroke-width:0.08px">[ξ ξ ξ]</text>
<path d="M554.00,211.50 H569.00" stroke="#ff00ff" stroke-width="1.5" stroke-dasharray="5 2.6"/>
<text x="570.30" y="213.60" font-size="6.2" fill="#333" style="stroke-width:0.08px">[ξ ξ 2ξ]</text>
<path d="M554.00,219.70 H569.00" stroke="#a01c24" stroke-width="1.5" stroke-dasharray="5 2.6"/>
<text x="570.30" y="221.80" font-size="6.2" fill="#333" style="stroke-width:0.08px">[2ξ ξ 0]</text>
<rect x="430.8" y="187.3" width="164.30" height="120.60" fill="none" stroke="#bdbdbd" stroke-width="1.2"/>
<path d="M430.80,307.9 v-1.6 M430.80,187.3 v1.6" stroke="#6a6a6a" stroke-width="0.6"/>
<path d="M458.18,307.9 v-1.6 M458.18,187.3 v1.6" stroke="#6a6a6a" stroke-width="0.6"/>
<path d="M485.57,307.9 v-1.6 M485.57,187.3 v1.6" stroke="#6a6a6a" stroke-width="0.6"/>
<path d="M512.95,307.9 v-1.6 M512.95,187.3 v1.6" stroke="#6a6a6a" stroke-width="0.6"/>
<path d="M540.33,307.9 v-1.6 M540.33,187.3 v1.6" stroke="#6a6a6a" stroke-width="0.6"/>
<path d="M567.72,307.9 v-1.6 M567.72,187.3 v1.6" stroke="#6a6a6a" stroke-width="0.6"/>
<path d="M595.10,307.9 v-1.6 M595.10,187.3 v1.6" stroke="#6a6a6a" stroke-width="0.6"/>
<path d="M430.8,194.35 h1.6 M595.1,194.35 h-1.6" stroke="#6a6a6a" stroke-width="0.6"/>
<path d="M430.8,206.31 h1.6 M595.1,206.31 h-1.6" stroke="#6a6a6a" stroke-width="0.6"/>
<path d="M430.8,220.94 h1.6 M595.1,220.94 h-1.6" stroke="#6a6a6a" stroke-width="0.6"/>
<path d="M430.8,239.81 h1.6 M595.1,239.81 h-1.6" stroke="#6a6a6a" stroke-width="0.6"/>
<path d="M430.8,266.40 h1.6 M595.1,266.40 h-1.6" stroke="#6a6a6a" stroke-width="0.6"/>
<text x="430.80" y="318.70" font-size="7.3" text-anchor="middle" font-weight="normal" fill="#262626" >0</text>
<text x="458.18" y="318.70" font-size="7.3" text-anchor="middle" font-weight="normal" fill="#262626" >0.2</text>
<text x="485.57" y="318.70" font-size="7.3" text-anchor="middle" font-weight="normal" fill="#262626" >0.4</text>
<text x="512.95" y="318.70" font-size="7.3" text-anchor="middle" font-weight="normal" fill="#262626" >0.6</text>
<text x="540.33" y="318.70" font-size="7.3" text-anchor="middle" font-weight="normal" fill="#262626" >0.8</text>
<text x="567.72" y="318.70" font-size="7.3" text-anchor="middle" font-weight="normal" fill="#262626" >1</text>
<text x="595.10" y="318.70" font-size="7.3" text-anchor="middle" font-weight="normal" fill="#262626" >1.2</text>
<text x="427.60" y="197.45" font-size="7.3" text-anchor="end" fill="#262626">3</text>
<text x="427.60" y="209.41" font-size="7.3" text-anchor="end" fill="#262626">2.5</text>
<text x="427.60" y="224.04" font-size="7.3" text-anchor="end" fill="#262626">2</text>
<text x="427.60" y="242.91" font-size="7.3" text-anchor="end" fill="#262626">1.5</text>
<text x="427.60" y="269.50" font-size="7.3" text-anchor="end" fill="#262626">1</text>
<text x="512.95" y="329.60" font-size="8.1" text-anchor="middle" font-weight="normal" fill="#262626" >q (2π/a)</text>
<text x="0" y="0" font-size="8.3" text-anchor="middle" fill="#262626" transform="translate(413.50,247.60) rotate(-90)">3-Phonon Lifetime (ps)</text>
<text x="512.95" y="180.60" font-size="7.5" font-weight="bold" text-anchor="middle" fill="#000">1TO<tspan font-size="5.6" dy="4.4">x</tspan></text>
<text x="403.80" y="179.20" font-size="9.5" font-weight="bold" fill="#000">(f)</text>
<text x="27.50" y="289.80" font-size="7.4" text-anchor="end" fill="#262626">10<tspan font-size="5.4" dy="-3.9">1</tspan></text>
<text x="27.50" y="240.40" font-size="7.4" text-anchor="end" fill="#262626">10<tspan font-size="5.4" dy="-3.9">2</tspan></text>
<text x="27.50" y="191.00" font-size="7.4" text-anchor="end" fill="#262626">10<tspan font-size="5.4" dy="-3.9">3</tspan></text>
<text x="227.80" y="312.20" font-size="7.4" text-anchor="end" fill="#262626">10<tspan font-size="5.4" dy="-3.9">0</tspan></text>
<text x="227.80" y="270.93" font-size="7.4" text-anchor="end" fill="#262626">10<tspan font-size="5.4" dy="-3.9">1</tspan></text>
<text x="227.80" y="229.66" font-size="7.4" text-anchor="end" fill="#262626">10<tspan font-size="5.4" dy="-3.9">2</tspan></text>
<text x="227.80" y="188.39" font-size="7.4" text-anchor="end" fill="#262626">10<tspan font-size="5.4" dy="-3.9">3</tspan></text>
</svg></body></html>
